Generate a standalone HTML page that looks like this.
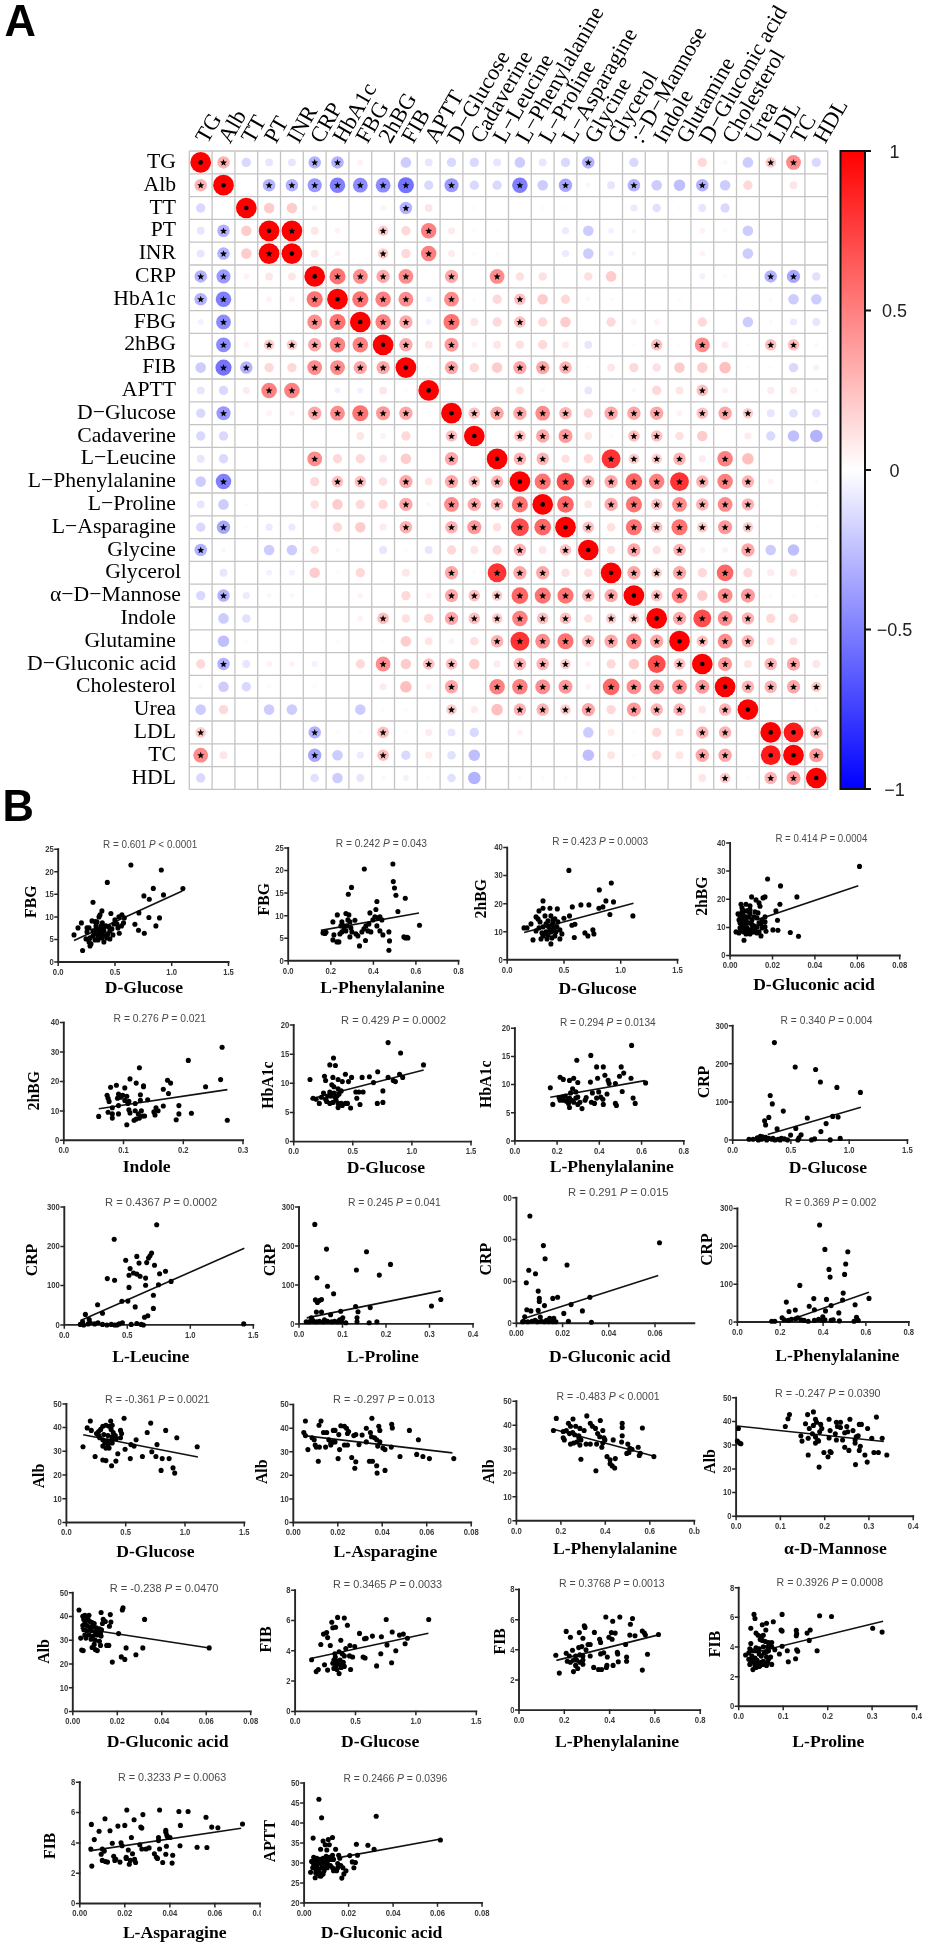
<!DOCTYPE html>
<html><head><meta charset="utf-8"><style>html,body{margin:0;padding:0;background:#fff;width:931px;height:1946px;overflow:hidden}svg{display:block;filter:blur(0.5px)}</style></head><body>
<svg width="931" height="1946" viewBox="0 0 931 1946">
<g stroke="#c4c4c4" stroke-width="1.3" fill="none">
<line x1="189.30" y1="151.00" x2="189.30" y2="789.40"/>
<line x1="189.30" y1="151.00" x2="827.70" y2="151.00"/>
<line x1="212.10" y1="151.00" x2="212.10" y2="789.40"/>
<line x1="189.30" y1="173.80" x2="827.70" y2="173.80"/>
<line x1="234.90" y1="151.00" x2="234.90" y2="789.40"/>
<line x1="189.30" y1="196.60" x2="827.70" y2="196.60"/>
<line x1="257.70" y1="151.00" x2="257.70" y2="789.40"/>
<line x1="189.30" y1="219.40" x2="827.70" y2="219.40"/>
<line x1="280.50" y1="151.00" x2="280.50" y2="789.40"/>
<line x1="189.30" y1="242.20" x2="827.70" y2="242.20"/>
<line x1="303.30" y1="151.00" x2="303.30" y2="789.40"/>
<line x1="189.30" y1="265.00" x2="827.70" y2="265.00"/>
<line x1="326.10" y1="151.00" x2="326.10" y2="789.40"/>
<line x1="189.30" y1="287.80" x2="827.70" y2="287.80"/>
<line x1="348.90" y1="151.00" x2="348.90" y2="789.40"/>
<line x1="189.30" y1="310.60" x2="827.70" y2="310.60"/>
<line x1="371.70" y1="151.00" x2="371.70" y2="789.40"/>
<line x1="189.30" y1="333.40" x2="827.70" y2="333.40"/>
<line x1="394.50" y1="151.00" x2="394.50" y2="789.40"/>
<line x1="189.30" y1="356.20" x2="827.70" y2="356.20"/>
<line x1="417.30" y1="151.00" x2="417.30" y2="789.40"/>
<line x1="189.30" y1="379.00" x2="827.70" y2="379.00"/>
<line x1="440.10" y1="151.00" x2="440.10" y2="789.40"/>
<line x1="189.30" y1="401.80" x2="827.70" y2="401.80"/>
<line x1="462.90" y1="151.00" x2="462.90" y2="789.40"/>
<line x1="189.30" y1="424.60" x2="827.70" y2="424.60"/>
<line x1="485.70" y1="151.00" x2="485.70" y2="789.40"/>
<line x1="189.30" y1="447.40" x2="827.70" y2="447.40"/>
<line x1="508.50" y1="151.00" x2="508.50" y2="789.40"/>
<line x1="189.30" y1="470.20" x2="827.70" y2="470.20"/>
<line x1="531.30" y1="151.00" x2="531.30" y2="789.40"/>
<line x1="189.30" y1="493.00" x2="827.70" y2="493.00"/>
<line x1="554.10" y1="151.00" x2="554.10" y2="789.40"/>
<line x1="189.30" y1="515.80" x2="827.70" y2="515.80"/>
<line x1="576.90" y1="151.00" x2="576.90" y2="789.40"/>
<line x1="189.30" y1="538.60" x2="827.70" y2="538.60"/>
<line x1="599.70" y1="151.00" x2="599.70" y2="789.40"/>
<line x1="189.30" y1="561.40" x2="827.70" y2="561.40"/>
<line x1="622.50" y1="151.00" x2="622.50" y2="789.40"/>
<line x1="189.30" y1="584.20" x2="827.70" y2="584.20"/>
<line x1="645.30" y1="151.00" x2="645.30" y2="789.40"/>
<line x1="189.30" y1="607.00" x2="827.70" y2="607.00"/>
<line x1="668.10" y1="151.00" x2="668.10" y2="789.40"/>
<line x1="189.30" y1="629.80" x2="827.70" y2="629.80"/>
<line x1="690.90" y1="151.00" x2="690.90" y2="789.40"/>
<line x1="189.30" y1="652.60" x2="827.70" y2="652.60"/>
<line x1="713.70" y1="151.00" x2="713.70" y2="789.40"/>
<line x1="189.30" y1="675.40" x2="827.70" y2="675.40"/>
<line x1="736.50" y1="151.00" x2="736.50" y2="789.40"/>
<line x1="189.30" y1="698.20" x2="827.70" y2="698.20"/>
<line x1="759.30" y1="151.00" x2="759.30" y2="789.40"/>
<line x1="189.30" y1="721.00" x2="827.70" y2="721.00"/>
<line x1="782.10" y1="151.00" x2="782.10" y2="789.40"/>
<line x1="189.30" y1="743.80" x2="827.70" y2="743.80"/>
<line x1="804.90" y1="151.00" x2="804.90" y2="789.40"/>
<line x1="189.30" y1="766.60" x2="827.70" y2="766.60"/>
<line x1="827.70" y1="151.00" x2="827.70" y2="789.40"/>
<line x1="189.30" y1="789.40" x2="827.70" y2="789.40"/>
</g>
<g>
<circle cx="200.70" cy="162.40" r="10.37" fill="#ff0000"/>
<circle cx="223.50" cy="162.40" r="6.26" fill="#ffb2b2"/>
<circle cx="246.30" cy="162.40" r="4.68" fill="#d9d9ff"/>
<circle cx="269.10" cy="162.40" r="3.94" fill="#e6e6ff"/>
<circle cx="291.90" cy="162.40" r="3.94" fill="#e6e6ff"/>
<circle cx="314.70" cy="162.40" r="6.26" fill="#b2b2ff"/>
<circle cx="337.50" cy="162.40" r="6.26" fill="#b2b2ff"/>
<circle cx="360.30" cy="162.40" r="2.95" fill="#fff2f2"/>
<circle cx="405.90" cy="162.40" r="5.28" fill="#ccccff"/>
<circle cx="428.70" cy="162.40" r="3.94" fill="#e6e6ff"/>
<circle cx="451.50" cy="162.40" r="4.68" fill="#d9d9ff"/>
<circle cx="474.30" cy="162.40" r="4.68" fill="#d9d9ff"/>
<circle cx="497.10" cy="162.40" r="3.94" fill="#e6e6ff"/>
<circle cx="519.90" cy="162.40" r="5.28" fill="#ccccff"/>
<circle cx="542.70" cy="162.40" r="3.94" fill="#e6e6ff"/>
<circle cx="565.50" cy="162.40" r="4.68" fill="#d9d9ff"/>
<circle cx="588.30" cy="162.40" r="6.26" fill="#b2b2ff"/>
<circle cx="633.90" cy="162.40" r="4.68" fill="#d9d9ff"/>
<circle cx="702.30" cy="162.40" r="4.68" fill="#ffd9d9"/>
<circle cx="725.10" cy="162.40" r="2.38" fill="#fff7f7"/>
<circle cx="747.90" cy="162.40" r="5.28" fill="#ccccff"/>
<circle cx="770.70" cy="162.40" r="5.28" fill="#ffcccc"/>
<circle cx="793.50" cy="162.40" r="7.42" fill="#ff8c8c"/>
<circle cx="816.30" cy="162.40" r="4.68" fill="#d9d9ff"/>
<circle cx="200.70" cy="185.20" r="6.26" fill="#ffb2b2"/>
<circle cx="223.50" cy="185.20" r="10.37" fill="#ff0000"/>
<circle cx="269.10" cy="185.20" r="6.26" fill="#b2b2ff"/>
<circle cx="291.90" cy="185.20" r="6.26" fill="#b2b2ff"/>
<circle cx="314.70" cy="185.20" r="7.06" fill="#9999ff"/>
<circle cx="337.50" cy="185.20" r="7.75" fill="#8080ff"/>
<circle cx="360.30" cy="185.20" r="7.42" fill="#8c8cff"/>
<circle cx="383.10" cy="185.20" r="7.42" fill="#8c8cff"/>
<circle cx="405.90" cy="185.20" r="8.07" fill="#7373ff"/>
<circle cx="428.70" cy="185.20" r="4.68" fill="#d9d9ff"/>
<circle cx="451.50" cy="185.20" r="7.06" fill="#9999ff"/>
<circle cx="474.30" cy="185.20" r="4.68" fill="#d9d9ff"/>
<circle cx="497.10" cy="185.20" r="4.68" fill="#d9d9ff"/>
<circle cx="519.90" cy="185.20" r="7.75" fill="#8080ff"/>
<circle cx="542.70" cy="185.20" r="5.28" fill="#ccccff"/>
<circle cx="565.50" cy="185.20" r="6.68" fill="#a6a6ff"/>
<circle cx="588.30" cy="185.20" r="2.38" fill="#f7f7ff"/>
<circle cx="611.10" cy="185.20" r="3.94" fill="#e6e6ff"/>
<circle cx="633.90" cy="185.20" r="6.26" fill="#b2b2ff"/>
<circle cx="656.70" cy="185.20" r="5.28" fill="#ccccff"/>
<circle cx="679.50" cy="185.20" r="5.80" fill="#bfbfff"/>
<circle cx="702.30" cy="185.20" r="6.26" fill="#b2b2ff"/>
<circle cx="725.10" cy="185.20" r="5.28" fill="#ccccff"/>
<circle cx="747.90" cy="185.20" r="4.68" fill="#ffd9d9"/>
<circle cx="793.50" cy="185.20" r="3.94" fill="#ffe6e6"/>
<circle cx="200.70" cy="208.00" r="4.68" fill="#d9d9ff"/>
<circle cx="246.30" cy="208.00" r="10.37" fill="#ff0000"/>
<circle cx="269.10" cy="208.00" r="5.28" fill="#ffcccc"/>
<circle cx="291.90" cy="208.00" r="5.28" fill="#ffcccc"/>
<circle cx="314.70" cy="208.00" r="2.95" fill="#fff2f2"/>
<circle cx="383.10" cy="208.00" r="2.95" fill="#fff2f2"/>
<circle cx="405.90" cy="208.00" r="6.26" fill="#b2b2ff"/>
<circle cx="428.70" cy="208.00" r="3.94" fill="#ffe6e6"/>
<circle cx="474.30" cy="208.00" r="2.01" fill="#fffafa"/>
<circle cx="542.70" cy="208.00" r="2.01" fill="#fffafa"/>
<circle cx="565.50" cy="208.00" r="2.01" fill="#fffafa"/>
<circle cx="588.30" cy="208.00" r="1.50" fill="#fffcfc"/>
<circle cx="633.90" cy="208.00" r="3.59" fill="#ebebff"/>
<circle cx="656.70" cy="208.00" r="4.26" fill="#e0e0ff"/>
<circle cx="679.50" cy="208.00" r="2.01" fill="#fffafa"/>
<circle cx="702.30" cy="208.00" r="3.94" fill="#e6e6ff"/>
<circle cx="725.10" cy="208.00" r="4.68" fill="#d9d9ff"/>
<circle cx="200.70" cy="230.80" r="3.94" fill="#e6e6ff"/>
<circle cx="223.50" cy="230.80" r="6.26" fill="#b2b2ff"/>
<circle cx="246.30" cy="230.80" r="5.28" fill="#ffcccc"/>
<circle cx="269.10" cy="230.80" r="10.37" fill="#ff0000"/>
<circle cx="291.90" cy="230.80" r="10.37" fill="#ff0000"/>
<circle cx="314.70" cy="230.80" r="3.94" fill="#ffe6e6"/>
<circle cx="337.50" cy="230.80" r="2.95" fill="#fff2f2"/>
<circle cx="383.10" cy="230.80" r="5.28" fill="#ffcccc"/>
<circle cx="405.90" cy="230.80" r="4.68" fill="#ffd9d9"/>
<circle cx="428.70" cy="230.80" r="7.75" fill="#ff8080"/>
<circle cx="451.50" cy="230.80" r="3.59" fill="#ffebeb"/>
<circle cx="474.30" cy="230.80" r="2.01" fill="#fffafa"/>
<circle cx="497.10" cy="230.80" r="2.01" fill="#fffafa"/>
<circle cx="565.50" cy="230.80" r="3.59" fill="#ebebff"/>
<circle cx="588.30" cy="230.80" r="5.28" fill="#ccccff"/>
<circle cx="611.10" cy="230.80" r="2.95" fill="#f2f2ff"/>
<circle cx="633.90" cy="230.80" r="2.38" fill="#f7f7ff"/>
<circle cx="702.30" cy="230.80" r="2.95" fill="#fff2f2"/>
<circle cx="725.10" cy="230.80" r="2.01" fill="#fffafa"/>
<circle cx="747.90" cy="230.80" r="5.28" fill="#ccccff"/>
<circle cx="200.70" cy="253.60" r="3.94" fill="#e6e6ff"/>
<circle cx="223.50" cy="253.60" r="6.26" fill="#b2b2ff"/>
<circle cx="246.30" cy="253.60" r="5.28" fill="#ffcccc"/>
<circle cx="269.10" cy="253.60" r="10.37" fill="#ff0000"/>
<circle cx="291.90" cy="253.60" r="10.37" fill="#ff0000"/>
<circle cx="314.70" cy="253.60" r="3.94" fill="#ffe6e6"/>
<circle cx="337.50" cy="253.60" r="2.95" fill="#fff2f2"/>
<circle cx="383.10" cy="253.60" r="5.28" fill="#ffcccc"/>
<circle cx="405.90" cy="253.60" r="4.68" fill="#ffd9d9"/>
<circle cx="428.70" cy="253.60" r="7.75" fill="#ff8080"/>
<circle cx="451.50" cy="253.60" r="3.59" fill="#ffebeb"/>
<circle cx="474.30" cy="253.60" r="2.01" fill="#fffafa"/>
<circle cx="497.10" cy="253.60" r="2.01" fill="#fffafa"/>
<circle cx="565.50" cy="253.60" r="3.59" fill="#ebebff"/>
<circle cx="588.30" cy="253.60" r="5.28" fill="#ccccff"/>
<circle cx="611.10" cy="253.60" r="2.95" fill="#f2f2ff"/>
<circle cx="633.90" cy="253.60" r="2.38" fill="#f7f7ff"/>
<circle cx="702.30" cy="253.60" r="2.95" fill="#fff2f2"/>
<circle cx="747.90" cy="253.60" r="5.28" fill="#ccccff"/>
<circle cx="200.70" cy="276.40" r="6.26" fill="#b2b2ff"/>
<circle cx="223.50" cy="276.40" r="7.06" fill="#9999ff"/>
<circle cx="246.30" cy="276.40" r="2.95" fill="#fff2f2"/>
<circle cx="269.10" cy="276.40" r="3.94" fill="#ffe6e6"/>
<circle cx="291.90" cy="276.40" r="3.94" fill="#ffe6e6"/>
<circle cx="314.70" cy="276.40" r="10.37" fill="#ff0000"/>
<circle cx="337.50" cy="276.40" r="8.07" fill="#ff7373"/>
<circle cx="360.30" cy="276.40" r="7.42" fill="#ff8c8c"/>
<circle cx="383.10" cy="276.40" r="6.68" fill="#ffa6a6"/>
<circle cx="405.90" cy="276.40" r="7.42" fill="#ff8c8c"/>
<circle cx="451.50" cy="276.40" r="6.68" fill="#ffa6a6"/>
<circle cx="497.10" cy="276.40" r="7.42" fill="#ff8c8c"/>
<circle cx="519.90" cy="276.40" r="4.26" fill="#ffe0e0"/>
<circle cx="542.70" cy="276.40" r="4.26" fill="#ffe0e0"/>
<circle cx="588.30" cy="276.40" r="4.26" fill="#ffe0e0"/>
<circle cx="611.10" cy="276.40" r="5.28" fill="#ffcccc"/>
<circle cx="702.30" cy="276.40" r="2.95" fill="#f2f2ff"/>
<circle cx="725.10" cy="276.40" r="2.01" fill="#fffafa"/>
<circle cx="770.70" cy="276.40" r="6.26" fill="#b2b2ff"/>
<circle cx="793.50" cy="276.40" r="6.68" fill="#a6a6ff"/>
<circle cx="816.30" cy="276.40" r="4.26" fill="#e0e0ff"/>
<circle cx="200.70" cy="299.20" r="6.26" fill="#b2b2ff"/>
<circle cx="223.50" cy="299.20" r="7.75" fill="#8080ff"/>
<circle cx="269.10" cy="299.20" r="2.95" fill="#fff2f2"/>
<circle cx="291.90" cy="299.20" r="2.95" fill="#fff2f2"/>
<circle cx="314.70" cy="299.20" r="8.07" fill="#ff7373"/>
<circle cx="337.50" cy="299.20" r="10.37" fill="#ff0000"/>
<circle cx="360.30" cy="299.20" r="8.07" fill="#ff7373"/>
<circle cx="383.10" cy="299.20" r="7.75" fill="#ff8080"/>
<circle cx="405.90" cy="299.20" r="7.42" fill="#ff8c8c"/>
<circle cx="428.70" cy="299.20" r="2.95" fill="#f2f2ff"/>
<circle cx="451.50" cy="299.20" r="7.42" fill="#ff8c8c"/>
<circle cx="474.30" cy="299.20" r="2.01" fill="#fffafa"/>
<circle cx="497.10" cy="299.20" r="4.68" fill="#ffd9d9"/>
<circle cx="519.90" cy="299.20" r="5.80" fill="#ffbfbf"/>
<circle cx="542.70" cy="299.20" r="5.28" fill="#ffcccc"/>
<circle cx="565.50" cy="299.20" r="4.68" fill="#ffd9d9"/>
<circle cx="588.30" cy="299.20" r="2.38" fill="#fff7f7"/>
<circle cx="611.10" cy="299.20" r="2.01" fill="#fffafa"/>
<circle cx="679.50" cy="299.20" r="2.01" fill="#fffafa"/>
<circle cx="770.70" cy="299.20" r="2.01" fill="#fffafa"/>
<circle cx="793.50" cy="299.20" r="5.28" fill="#ccccff"/>
<circle cx="816.30" cy="299.20" r="5.28" fill="#ccccff"/>
<circle cx="200.70" cy="322.00" r="2.95" fill="#f2f2ff"/>
<circle cx="223.50" cy="322.00" r="7.42" fill="#8c8cff"/>
<circle cx="314.70" cy="322.00" r="7.42" fill="#ff8c8c"/>
<circle cx="337.50" cy="322.00" r="8.07" fill="#ff7373"/>
<circle cx="360.30" cy="322.00" r="10.37" fill="#ff0000"/>
<circle cx="383.10" cy="322.00" r="7.75" fill="#ff8080"/>
<circle cx="405.90" cy="322.00" r="6.68" fill="#ffa6a6"/>
<circle cx="428.70" cy="322.00" r="2.95" fill="#f2f2ff"/>
<circle cx="451.50" cy="322.00" r="8.07" fill="#ff7373"/>
<circle cx="474.30" cy="322.00" r="3.94" fill="#ffe6e6"/>
<circle cx="497.10" cy="322.00" r="4.68" fill="#ffd9d9"/>
<circle cx="519.90" cy="322.00" r="5.80" fill="#ffbfbf"/>
<circle cx="542.70" cy="322.00" r="4.68" fill="#ffd9d9"/>
<circle cx="565.50" cy="322.00" r="5.28" fill="#ffcccc"/>
<circle cx="611.10" cy="322.00" r="4.68" fill="#ffd9d9"/>
<circle cx="633.90" cy="322.00" r="2.95" fill="#fff2f2"/>
<circle cx="656.70" cy="322.00" r="2.95" fill="#fff2f2"/>
<circle cx="702.30" cy="322.00" r="4.68" fill="#ffd9d9"/>
<circle cx="747.90" cy="322.00" r="5.28" fill="#ccccff"/>
<circle cx="770.70" cy="322.00" r="2.01" fill="#fffafa"/>
<circle cx="793.50" cy="322.00" r="3.59" fill="#ebebff"/>
<circle cx="816.30" cy="322.00" r="3.94" fill="#e6e6ff"/>
<circle cx="223.50" cy="344.80" r="7.42" fill="#8c8cff"/>
<circle cx="246.30" cy="344.80" r="2.95" fill="#fff2f2"/>
<circle cx="269.10" cy="344.80" r="5.28" fill="#ffcccc"/>
<circle cx="291.90" cy="344.80" r="5.28" fill="#ffcccc"/>
<circle cx="314.70" cy="344.80" r="6.68" fill="#ffa6a6"/>
<circle cx="337.50" cy="344.80" r="7.75" fill="#ff8080"/>
<circle cx="360.30" cy="344.80" r="7.75" fill="#ff8080"/>
<circle cx="383.10" cy="344.80" r="10.37" fill="#ff0000"/>
<circle cx="405.90" cy="344.80" r="6.68" fill="#ffa6a6"/>
<circle cx="428.70" cy="344.80" r="3.94" fill="#ffe6e6"/>
<circle cx="451.50" cy="344.80" r="7.06" fill="#ff9999"/>
<circle cx="474.30" cy="344.80" r="2.95" fill="#fff2f2"/>
<circle cx="497.10" cy="344.80" r="3.94" fill="#ffe6e6"/>
<circle cx="519.90" cy="344.80" r="4.26" fill="#ffe0e0"/>
<circle cx="542.70" cy="344.80" r="4.68" fill="#ffd9d9"/>
<circle cx="565.50" cy="344.80" r="3.59" fill="#ffebeb"/>
<circle cx="588.30" cy="344.80" r="3.94" fill="#e6e6ff"/>
<circle cx="633.90" cy="344.80" r="2.01" fill="#fffafa"/>
<circle cx="656.70" cy="344.80" r="5.80" fill="#ffbfbf"/>
<circle cx="679.50" cy="344.80" r="2.01" fill="#fffafa"/>
<circle cx="702.30" cy="344.80" r="7.42" fill="#ff8c8c"/>
<circle cx="725.10" cy="344.80" r="3.59" fill="#ffebeb"/>
<circle cx="747.90" cy="344.80" r="2.01" fill="#fffafa"/>
<circle cx="770.70" cy="344.80" r="5.80" fill="#ffbfbf"/>
<circle cx="793.50" cy="344.80" r="5.80" fill="#ffbfbf"/>
<circle cx="816.30" cy="344.80" r="2.38" fill="#fff7f7"/>
<circle cx="200.70" cy="367.60" r="5.28" fill="#ccccff"/>
<circle cx="223.50" cy="367.60" r="8.07" fill="#7373ff"/>
<circle cx="246.30" cy="367.60" r="6.26" fill="#b2b2ff"/>
<circle cx="269.10" cy="367.60" r="4.68" fill="#ffd9d9"/>
<circle cx="291.90" cy="367.60" r="4.68" fill="#ffd9d9"/>
<circle cx="314.70" cy="367.60" r="7.42" fill="#ff8c8c"/>
<circle cx="337.50" cy="367.60" r="7.42" fill="#ff8c8c"/>
<circle cx="360.30" cy="367.60" r="6.68" fill="#ffa6a6"/>
<circle cx="383.10" cy="367.60" r="6.68" fill="#ffa6a6"/>
<circle cx="405.90" cy="367.60" r="10.37" fill="#ff0000"/>
<circle cx="428.70" cy="367.60" r="2.01" fill="#fffafa"/>
<circle cx="451.50" cy="367.60" r="6.68" fill="#ffa6a6"/>
<circle cx="474.30" cy="367.60" r="4.68" fill="#ffd9d9"/>
<circle cx="497.10" cy="367.60" r="5.28" fill="#ffcccc"/>
<circle cx="519.90" cy="367.60" r="6.68" fill="#ffa6a6"/>
<circle cx="542.70" cy="367.60" r="6.68" fill="#ffa6a6"/>
<circle cx="565.50" cy="367.60" r="6.26" fill="#ffb2b2"/>
<circle cx="588.30" cy="367.60" r="2.01" fill="#fffafa"/>
<circle cx="611.10" cy="367.60" r="3.94" fill="#ffe6e6"/>
<circle cx="633.90" cy="367.60" r="4.68" fill="#ffd9d9"/>
<circle cx="656.70" cy="367.60" r="4.26" fill="#ffe0e0"/>
<circle cx="679.50" cy="367.60" r="5.28" fill="#ffcccc"/>
<circle cx="702.30" cy="367.60" r="5.28" fill="#ffcccc"/>
<circle cx="725.10" cy="367.60" r="5.80" fill="#ffbfbf"/>
<circle cx="747.90" cy="367.60" r="2.01" fill="#fffafa"/>
<circle cx="770.70" cy="367.60" r="2.01" fill="#fffafa"/>
<circle cx="793.50" cy="367.60" r="4.68" fill="#d9d9ff"/>
<circle cx="816.30" cy="367.60" r="2.95" fill="#f2f2ff"/>
<circle cx="200.70" cy="390.40" r="3.94" fill="#e6e6ff"/>
<circle cx="223.50" cy="390.40" r="4.68" fill="#d9d9ff"/>
<circle cx="246.30" cy="390.40" r="3.59" fill="#ffebeb"/>
<circle cx="269.10" cy="390.40" r="7.75" fill="#ff8080"/>
<circle cx="291.90" cy="390.40" r="7.75" fill="#ff8080"/>
<circle cx="337.50" cy="390.40" r="2.95" fill="#f2f2ff"/>
<circle cx="360.30" cy="390.40" r="2.95" fill="#f2f2ff"/>
<circle cx="383.10" cy="390.40" r="3.94" fill="#ffe6e6"/>
<circle cx="405.90" cy="390.40" r="2.01" fill="#fffafa"/>
<circle cx="428.70" cy="390.40" r="10.37" fill="#ff0000"/>
<circle cx="519.90" cy="390.40" r="3.94" fill="#ffe6e6"/>
<circle cx="542.70" cy="390.40" r="2.38" fill="#fff7f7"/>
<circle cx="588.30" cy="390.40" r="3.94" fill="#e6e6ff"/>
<circle cx="633.90" cy="390.40" r="2.38" fill="#fff7f7"/>
<circle cx="656.70" cy="390.40" r="4.68" fill="#ffd9d9"/>
<circle cx="679.50" cy="390.40" r="3.94" fill="#ffe6e6"/>
<circle cx="702.30" cy="390.40" r="5.80" fill="#ffbfbf"/>
<circle cx="725.10" cy="390.40" r="2.95" fill="#fff2f2"/>
<circle cx="770.70" cy="390.40" r="3.59" fill="#ffebeb"/>
<circle cx="793.50" cy="390.40" r="3.59" fill="#ffebeb"/>
<circle cx="816.30" cy="390.40" r="2.01" fill="#fffafa"/>
<circle cx="200.70" cy="413.20" r="4.68" fill="#d9d9ff"/>
<circle cx="223.50" cy="413.20" r="7.06" fill="#9999ff"/>
<circle cx="269.10" cy="413.20" r="2.95" fill="#fff2f2"/>
<circle cx="291.90" cy="413.20" r="2.95" fill="#fff2f2"/>
<circle cx="314.70" cy="413.20" r="6.68" fill="#ffa6a6"/>
<circle cx="337.50" cy="413.20" r="7.42" fill="#ff8c8c"/>
<circle cx="360.30" cy="413.20" r="8.07" fill="#ff7373"/>
<circle cx="383.10" cy="413.20" r="7.06" fill="#ff9999"/>
<circle cx="405.90" cy="413.20" r="6.68" fill="#ffa6a6"/>
<circle cx="451.50" cy="413.20" r="10.37" fill="#ff0000"/>
<circle cx="474.30" cy="413.20" r="5.80" fill="#ffbfbf"/>
<circle cx="497.10" cy="413.20" r="6.68" fill="#ffa6a6"/>
<circle cx="519.90" cy="413.20" r="6.68" fill="#ffa6a6"/>
<circle cx="542.70" cy="413.20" r="7.42" fill="#ff8c8c"/>
<circle cx="565.50" cy="413.20" r="6.26" fill="#ffb2b2"/>
<circle cx="588.30" cy="413.20" r="4.68" fill="#ffd9d9"/>
<circle cx="611.10" cy="413.20" r="6.68" fill="#ffa6a6"/>
<circle cx="633.90" cy="413.20" r="6.68" fill="#ffa6a6"/>
<circle cx="656.70" cy="413.20" r="6.68" fill="#ffa6a6"/>
<circle cx="679.50" cy="413.20" r="2.95" fill="#fff2f2"/>
<circle cx="702.30" cy="413.20" r="5.80" fill="#ffbfbf"/>
<circle cx="725.10" cy="413.20" r="6.68" fill="#ffa6a6"/>
<circle cx="747.90" cy="413.20" r="5.28" fill="#ffcccc"/>
<circle cx="770.70" cy="413.20" r="3.94" fill="#e6e6ff"/>
<circle cx="793.50" cy="413.20" r="4.26" fill="#e0e0ff"/>
<circle cx="816.30" cy="413.20" r="4.26" fill="#e0e0ff"/>
<circle cx="200.70" cy="436.00" r="4.68" fill="#d9d9ff"/>
<circle cx="223.50" cy="436.00" r="4.68" fill="#d9d9ff"/>
<circle cx="246.30" cy="436.00" r="1.50" fill="#fffcfc"/>
<circle cx="269.10" cy="436.00" r="1.50" fill="#fffcfc"/>
<circle cx="291.90" cy="436.00" r="1.50" fill="#fffcfc"/>
<circle cx="337.50" cy="436.00" r="1.50" fill="#fffcfc"/>
<circle cx="360.30" cy="436.00" r="3.94" fill="#ffe6e6"/>
<circle cx="383.10" cy="436.00" r="2.95" fill="#fff2f2"/>
<circle cx="405.90" cy="436.00" r="4.68" fill="#ffd9d9"/>
<circle cx="451.50" cy="436.00" r="5.80" fill="#ffbfbf"/>
<circle cx="474.30" cy="436.00" r="10.37" fill="#ff0000"/>
<circle cx="519.90" cy="436.00" r="5.80" fill="#ffbfbf"/>
<circle cx="542.70" cy="436.00" r="6.68" fill="#ffa6a6"/>
<circle cx="565.50" cy="436.00" r="7.06" fill="#ff9999"/>
<circle cx="588.30" cy="436.00" r="3.94" fill="#ffe6e6"/>
<circle cx="611.10" cy="436.00" r="2.01" fill="#fffafa"/>
<circle cx="633.90" cy="436.00" r="5.80" fill="#ffbfbf"/>
<circle cx="656.70" cy="436.00" r="5.80" fill="#ffbfbf"/>
<circle cx="679.50" cy="436.00" r="4.26" fill="#ffe0e0"/>
<circle cx="702.30" cy="436.00" r="5.28" fill="#ffcccc"/>
<circle cx="747.90" cy="436.00" r="3.59" fill="#ffebeb"/>
<circle cx="770.70" cy="436.00" r="4.68" fill="#d9d9ff"/>
<circle cx="793.50" cy="436.00" r="5.80" fill="#bfbfff"/>
<circle cx="816.30" cy="436.00" r="6.26" fill="#b2b2ff"/>
<circle cx="200.70" cy="458.80" r="3.94" fill="#e6e6ff"/>
<circle cx="223.50" cy="458.80" r="4.68" fill="#d9d9ff"/>
<circle cx="269.10" cy="458.80" r="1.50" fill="#fffcfc"/>
<circle cx="291.90" cy="458.80" r="1.50" fill="#fffcfc"/>
<circle cx="314.70" cy="458.80" r="7.42" fill="#ff8c8c"/>
<circle cx="337.50" cy="458.80" r="4.68" fill="#ffd9d9"/>
<circle cx="360.30" cy="458.80" r="4.68" fill="#ffd9d9"/>
<circle cx="383.10" cy="458.80" r="3.94" fill="#ffe6e6"/>
<circle cx="405.90" cy="458.80" r="5.28" fill="#ffcccc"/>
<circle cx="451.50" cy="458.80" r="6.68" fill="#ffa6a6"/>
<circle cx="497.10" cy="458.80" r="10.37" fill="#ff0000"/>
<circle cx="519.90" cy="458.80" r="6.26" fill="#ffb2b2"/>
<circle cx="542.70" cy="458.80" r="6.26" fill="#ffb2b2"/>
<circle cx="565.50" cy="458.80" r="4.26" fill="#ffe0e0"/>
<circle cx="588.30" cy="458.80" r="4.68" fill="#ffd9d9"/>
<circle cx="611.10" cy="458.80" r="9.45" fill="#ff3333"/>
<circle cx="633.90" cy="458.80" r="5.28" fill="#ffcccc"/>
<circle cx="656.70" cy="458.80" r="5.28" fill="#ffcccc"/>
<circle cx="679.50" cy="458.80" r="6.26" fill="#ffb2b2"/>
<circle cx="702.30" cy="458.80" r="3.59" fill="#ffebeb"/>
<circle cx="725.10" cy="458.80" r="7.75" fill="#ff8080"/>
<circle cx="747.90" cy="458.80" r="5.80" fill="#ffbfbf"/>
<circle cx="200.70" cy="481.60" r="5.28" fill="#ccccff"/>
<circle cx="223.50" cy="481.60" r="7.75" fill="#8080ff"/>
<circle cx="246.30" cy="481.60" r="1.50" fill="#fffcfc"/>
<circle cx="314.70" cy="481.60" r="4.68" fill="#ffd9d9"/>
<circle cx="337.50" cy="481.60" r="5.80" fill="#ffbfbf"/>
<circle cx="360.30" cy="481.60" r="5.80" fill="#ffbfbf"/>
<circle cx="383.10" cy="481.60" r="4.26" fill="#ffe0e0"/>
<circle cx="405.90" cy="481.60" r="6.68" fill="#ffa6a6"/>
<circle cx="428.70" cy="481.60" r="3.94" fill="#ffe6e6"/>
<circle cx="451.50" cy="481.60" r="6.68" fill="#ffa6a6"/>
<circle cx="474.30" cy="481.60" r="5.80" fill="#ffbfbf"/>
<circle cx="497.10" cy="481.60" r="6.26" fill="#ffb2b2"/>
<circle cx="519.90" cy="481.60" r="10.37" fill="#ff0000"/>
<circle cx="542.70" cy="481.60" r="8.07" fill="#ff7373"/>
<circle cx="565.50" cy="481.60" r="8.93" fill="#ff4d4d"/>
<circle cx="588.30" cy="481.60" r="6.26" fill="#ffb2b2"/>
<circle cx="611.10" cy="481.60" r="6.68" fill="#ffa6a6"/>
<circle cx="633.90" cy="481.60" r="8.37" fill="#ff6666"/>
<circle cx="656.70" cy="481.60" r="7.75" fill="#ff8080"/>
<circle cx="679.50" cy="481.60" r="9.45" fill="#ff3333"/>
<circle cx="702.30" cy="481.60" r="6.26" fill="#ffb2b2"/>
<circle cx="725.10" cy="481.60" r="7.75" fill="#ff8080"/>
<circle cx="747.90" cy="481.60" r="6.26" fill="#ffb2b2"/>
<circle cx="770.70" cy="481.60" r="2.95" fill="#fff2f2"/>
<circle cx="816.30" cy="481.60" r="2.01" fill="#fffafa"/>
<circle cx="200.70" cy="504.40" r="3.94" fill="#e6e6ff"/>
<circle cx="223.50" cy="504.40" r="5.28" fill="#ccccff"/>
<circle cx="246.30" cy="504.40" r="2.01" fill="#fffafa"/>
<circle cx="314.70" cy="504.40" r="4.26" fill="#ffe0e0"/>
<circle cx="337.50" cy="504.40" r="5.28" fill="#ffcccc"/>
<circle cx="360.30" cy="504.40" r="4.68" fill="#ffd9d9"/>
<circle cx="383.10" cy="504.40" r="4.68" fill="#ffd9d9"/>
<circle cx="405.90" cy="504.40" r="6.68" fill="#ffa6a6"/>
<circle cx="428.70" cy="504.40" r="2.38" fill="#fff7f7"/>
<circle cx="451.50" cy="504.40" r="7.42" fill="#ff8c8c"/>
<circle cx="474.30" cy="504.40" r="6.68" fill="#ffa6a6"/>
<circle cx="497.10" cy="504.40" r="6.26" fill="#ffb2b2"/>
<circle cx="519.90" cy="504.40" r="8.07" fill="#ff7373"/>
<circle cx="542.70" cy="504.40" r="10.37" fill="#ff0000"/>
<circle cx="565.50" cy="504.40" r="8.37" fill="#ff6666"/>
<circle cx="588.30" cy="504.40" r="3.94" fill="#ffe6e6"/>
<circle cx="611.10" cy="504.40" r="6.68" fill="#ffa6a6"/>
<circle cx="633.90" cy="504.40" r="8.07" fill="#ff7373"/>
<circle cx="656.70" cy="504.40" r="5.80" fill="#ffbfbf"/>
<circle cx="679.50" cy="504.40" r="7.42" fill="#ff8c8c"/>
<circle cx="702.30" cy="504.40" r="6.26" fill="#ffb2b2"/>
<circle cx="725.10" cy="504.40" r="7.42" fill="#ff8c8c"/>
<circle cx="747.90" cy="504.40" r="6.26" fill="#ffb2b2"/>
<circle cx="816.30" cy="504.40" r="2.01" fill="#fffafa"/>
<circle cx="200.70" cy="527.20" r="4.68" fill="#d9d9ff"/>
<circle cx="223.50" cy="527.20" r="6.68" fill="#a6a6ff"/>
<circle cx="246.30" cy="527.20" r="2.01" fill="#fffafa"/>
<circle cx="269.10" cy="527.20" r="3.59" fill="#ebebff"/>
<circle cx="291.90" cy="527.20" r="3.59" fill="#ebebff"/>
<circle cx="337.50" cy="527.20" r="4.68" fill="#ffd9d9"/>
<circle cx="360.30" cy="527.20" r="5.28" fill="#ffcccc"/>
<circle cx="383.10" cy="527.20" r="3.59" fill="#ffebeb"/>
<circle cx="405.90" cy="527.20" r="6.26" fill="#ffb2b2"/>
<circle cx="451.50" cy="527.20" r="6.26" fill="#ffb2b2"/>
<circle cx="474.30" cy="527.20" r="7.06" fill="#ff9999"/>
<circle cx="497.10" cy="527.20" r="4.26" fill="#ffe0e0"/>
<circle cx="519.90" cy="527.20" r="8.93" fill="#ff4d4d"/>
<circle cx="542.70" cy="527.20" r="8.37" fill="#ff6666"/>
<circle cx="565.50" cy="527.20" r="10.37" fill="#ff0000"/>
<circle cx="588.30" cy="527.20" r="5.80" fill="#ffbfbf"/>
<circle cx="611.10" cy="527.20" r="4.26" fill="#ffe0e0"/>
<circle cx="633.90" cy="527.20" r="8.07" fill="#ff7373"/>
<circle cx="656.70" cy="527.20" r="5.80" fill="#ffbfbf"/>
<circle cx="679.50" cy="527.20" r="8.07" fill="#ff7373"/>
<circle cx="702.30" cy="527.20" r="5.28" fill="#ffcccc"/>
<circle cx="725.10" cy="527.20" r="7.06" fill="#ff9999"/>
<circle cx="747.90" cy="527.20" r="5.28" fill="#ffcccc"/>
<circle cx="816.30" cy="527.20" r="2.01" fill="#fffafa"/>
<circle cx="200.70" cy="550.00" r="6.26" fill="#b2b2ff"/>
<circle cx="223.50" cy="550.00" r="2.38" fill="#f7f7ff"/>
<circle cx="246.30" cy="550.00" r="1.50" fill="#fffcfc"/>
<circle cx="269.10" cy="550.00" r="5.28" fill="#ccccff"/>
<circle cx="291.90" cy="550.00" r="5.28" fill="#ccccff"/>
<circle cx="314.70" cy="550.00" r="4.26" fill="#ffe0e0"/>
<circle cx="337.50" cy="550.00" r="2.38" fill="#fff7f7"/>
<circle cx="383.10" cy="550.00" r="3.94" fill="#e6e6ff"/>
<circle cx="405.90" cy="550.00" r="2.01" fill="#fffafa"/>
<circle cx="428.70" cy="550.00" r="3.94" fill="#e6e6ff"/>
<circle cx="451.50" cy="550.00" r="4.68" fill="#ffd9d9"/>
<circle cx="474.30" cy="550.00" r="3.94" fill="#ffe6e6"/>
<circle cx="497.10" cy="550.00" r="4.68" fill="#ffd9d9"/>
<circle cx="519.90" cy="550.00" r="6.26" fill="#ffb2b2"/>
<circle cx="542.70" cy="550.00" r="3.94" fill="#ffe6e6"/>
<circle cx="565.50" cy="550.00" r="5.80" fill="#ffbfbf"/>
<circle cx="588.30" cy="550.00" r="10.37" fill="#ff0000"/>
<circle cx="611.10" cy="550.00" r="4.26" fill="#ffe0e0"/>
<circle cx="633.90" cy="550.00" r="6.68" fill="#ffa6a6"/>
<circle cx="656.70" cy="550.00" r="4.26" fill="#ffe0e0"/>
<circle cx="679.50" cy="550.00" r="6.26" fill="#ffb2b2"/>
<circle cx="702.30" cy="550.00" r="2.95" fill="#fff2f2"/>
<circle cx="725.10" cy="550.00" r="2.95" fill="#fff2f2"/>
<circle cx="747.90" cy="550.00" r="6.68" fill="#ffa6a6"/>
<circle cx="770.70" cy="550.00" r="5.28" fill="#ccccff"/>
<circle cx="793.50" cy="550.00" r="5.80" fill="#bfbfff"/>
<circle cx="223.50" cy="572.80" r="3.94" fill="#e6e6ff"/>
<circle cx="269.10" cy="572.80" r="2.95" fill="#f2f2ff"/>
<circle cx="291.90" cy="572.80" r="2.95" fill="#f2f2ff"/>
<circle cx="314.70" cy="572.80" r="5.28" fill="#ffcccc"/>
<circle cx="337.50" cy="572.80" r="2.01" fill="#fffafa"/>
<circle cx="360.30" cy="572.80" r="4.68" fill="#ffd9d9"/>
<circle cx="405.90" cy="572.80" r="3.94" fill="#ffe6e6"/>
<circle cx="451.50" cy="572.80" r="6.68" fill="#ffa6a6"/>
<circle cx="474.30" cy="572.80" r="2.01" fill="#fffafa"/>
<circle cx="497.10" cy="572.80" r="9.45" fill="#ff3333"/>
<circle cx="519.90" cy="572.80" r="6.68" fill="#ffa6a6"/>
<circle cx="542.70" cy="572.80" r="6.68" fill="#ffa6a6"/>
<circle cx="565.50" cy="572.80" r="4.26" fill="#ffe0e0"/>
<circle cx="588.30" cy="572.80" r="4.26" fill="#ffe0e0"/>
<circle cx="611.10" cy="572.80" r="10.37" fill="#ff0000"/>
<circle cx="633.90" cy="572.80" r="6.68" fill="#ffa6a6"/>
<circle cx="656.70" cy="572.80" r="5.28" fill="#ffcccc"/>
<circle cx="679.50" cy="572.80" r="6.68" fill="#ffa6a6"/>
<circle cx="702.30" cy="572.80" r="4.68" fill="#ffd9d9"/>
<circle cx="725.10" cy="572.80" r="8.37" fill="#ff6666"/>
<circle cx="747.90" cy="572.80" r="4.68" fill="#ffd9d9"/>
<circle cx="770.70" cy="572.80" r="3.59" fill="#ffebeb"/>
<circle cx="793.50" cy="572.80" r="3.94" fill="#ffe6e6"/>
<circle cx="200.70" cy="595.60" r="4.68" fill="#d9d9ff"/>
<circle cx="223.50" cy="595.60" r="6.26" fill="#b2b2ff"/>
<circle cx="246.30" cy="595.60" r="3.59" fill="#ebebff"/>
<circle cx="269.10" cy="595.60" r="2.38" fill="#f7f7ff"/>
<circle cx="291.90" cy="595.60" r="2.38" fill="#f7f7ff"/>
<circle cx="360.30" cy="595.60" r="2.95" fill="#fff2f2"/>
<circle cx="405.90" cy="595.60" r="4.68" fill="#ffd9d9"/>
<circle cx="428.70" cy="595.60" r="2.95" fill="#fff2f2"/>
<circle cx="451.50" cy="595.60" r="6.68" fill="#ffa6a6"/>
<circle cx="474.30" cy="595.60" r="5.80" fill="#ffbfbf"/>
<circle cx="497.10" cy="595.60" r="5.28" fill="#ffcccc"/>
<circle cx="519.90" cy="595.60" r="8.37" fill="#ff6666"/>
<circle cx="542.70" cy="595.60" r="8.07" fill="#ff7373"/>
<circle cx="565.50" cy="595.60" r="8.07" fill="#ff7373"/>
<circle cx="588.30" cy="595.60" r="6.26" fill="#ffb2b2"/>
<circle cx="611.10" cy="595.60" r="6.68" fill="#ffa6a6"/>
<circle cx="633.90" cy="595.60" r="10.37" fill="#ff0000"/>
<circle cx="656.70" cy="595.60" r="5.80" fill="#ffbfbf"/>
<circle cx="679.50" cy="595.60" r="7.75" fill="#ff8080"/>
<circle cx="702.30" cy="595.60" r="5.28" fill="#ffcccc"/>
<circle cx="725.10" cy="595.60" r="7.42" fill="#ff8c8c"/>
<circle cx="747.90" cy="595.60" r="7.06" fill="#ff9999"/>
<circle cx="770.70" cy="595.60" r="2.01" fill="#fffafa"/>
<circle cx="793.50" cy="595.60" r="2.01" fill="#fffafa"/>
<circle cx="816.30" cy="595.60" r="2.01" fill="#fffafa"/>
<circle cx="223.50" cy="618.40" r="5.28" fill="#ccccff"/>
<circle cx="246.30" cy="618.40" r="4.26" fill="#e0e0ff"/>
<circle cx="360.30" cy="618.40" r="2.95" fill="#fff2f2"/>
<circle cx="383.10" cy="618.40" r="5.80" fill="#ffbfbf"/>
<circle cx="405.90" cy="618.40" r="4.26" fill="#ffe0e0"/>
<circle cx="428.70" cy="618.40" r="4.68" fill="#ffd9d9"/>
<circle cx="451.50" cy="618.40" r="6.68" fill="#ffa6a6"/>
<circle cx="474.30" cy="618.40" r="5.80" fill="#ffbfbf"/>
<circle cx="497.10" cy="618.40" r="5.28" fill="#ffcccc"/>
<circle cx="519.90" cy="618.40" r="7.75" fill="#ff8080"/>
<circle cx="542.70" cy="618.40" r="5.80" fill="#ffbfbf"/>
<circle cx="565.50" cy="618.40" r="5.80" fill="#ffbfbf"/>
<circle cx="588.30" cy="618.40" r="4.26" fill="#ffe0e0"/>
<circle cx="611.10" cy="618.40" r="5.28" fill="#ffcccc"/>
<circle cx="633.90" cy="618.40" r="5.28" fill="#ffcccc"/>
<circle cx="656.70" cy="618.40" r="10.37" fill="#ff0000"/>
<circle cx="679.50" cy="618.40" r="6.68" fill="#ffa6a6"/>
<circle cx="702.30" cy="618.40" r="8.93" fill="#ff4d4d"/>
<circle cx="725.10" cy="618.40" r="7.42" fill="#ff8c8c"/>
<circle cx="747.90" cy="618.40" r="6.26" fill="#ffb2b2"/>
<circle cx="770.70" cy="618.40" r="4.68" fill="#ffd9d9"/>
<circle cx="793.50" cy="618.40" r="4.68" fill="#ffd9d9"/>
<circle cx="223.50" cy="641.20" r="5.80" fill="#bfbfff"/>
<circle cx="246.30" cy="641.20" r="2.01" fill="#fffafa"/>
<circle cx="337.50" cy="641.20" r="2.01" fill="#fffafa"/>
<circle cx="383.10" cy="641.20" r="2.01" fill="#fffafa"/>
<circle cx="405.90" cy="641.20" r="5.28" fill="#ffcccc"/>
<circle cx="428.70" cy="641.20" r="3.94" fill="#ffe6e6"/>
<circle cx="451.50" cy="641.20" r="2.95" fill="#fff2f2"/>
<circle cx="474.30" cy="641.20" r="4.26" fill="#ffe0e0"/>
<circle cx="497.10" cy="641.20" r="6.26" fill="#ffb2b2"/>
<circle cx="519.90" cy="641.20" r="9.45" fill="#ff3333"/>
<circle cx="542.70" cy="641.20" r="7.42" fill="#ff8c8c"/>
<circle cx="565.50" cy="641.20" r="8.07" fill="#ff7373"/>
<circle cx="588.30" cy="641.20" r="6.26" fill="#ffb2b2"/>
<circle cx="611.10" cy="641.20" r="6.68" fill="#ffa6a6"/>
<circle cx="633.90" cy="641.20" r="7.75" fill="#ff8080"/>
<circle cx="656.70" cy="641.20" r="6.68" fill="#ffa6a6"/>
<circle cx="679.50" cy="641.20" r="10.37" fill="#ff0000"/>
<circle cx="702.30" cy="641.20" r="5.80" fill="#ffbfbf"/>
<circle cx="725.10" cy="641.20" r="7.42" fill="#ff8c8c"/>
<circle cx="747.90" cy="641.20" r="6.26" fill="#ffb2b2"/>
<circle cx="770.70" cy="641.20" r="3.94" fill="#ffe6e6"/>
<circle cx="793.50" cy="641.20" r="3.94" fill="#ffe6e6"/>
<circle cx="200.70" cy="664.00" r="4.68" fill="#ffd9d9"/>
<circle cx="223.50" cy="664.00" r="6.26" fill="#b2b2ff"/>
<circle cx="246.30" cy="664.00" r="3.94" fill="#e6e6ff"/>
<circle cx="269.10" cy="664.00" r="2.95" fill="#fff2f2"/>
<circle cx="291.90" cy="664.00" r="2.95" fill="#fff2f2"/>
<circle cx="314.70" cy="664.00" r="2.95" fill="#f2f2ff"/>
<circle cx="360.30" cy="664.00" r="4.68" fill="#ffd9d9"/>
<circle cx="383.10" cy="664.00" r="7.42" fill="#ff8c8c"/>
<circle cx="405.90" cy="664.00" r="5.28" fill="#ffcccc"/>
<circle cx="428.70" cy="664.00" r="5.80" fill="#ffbfbf"/>
<circle cx="451.50" cy="664.00" r="5.80" fill="#ffbfbf"/>
<circle cx="474.30" cy="664.00" r="5.28" fill="#ffcccc"/>
<circle cx="497.10" cy="664.00" r="3.59" fill="#ffebeb"/>
<circle cx="519.90" cy="664.00" r="6.26" fill="#ffb2b2"/>
<circle cx="542.70" cy="664.00" r="6.26" fill="#ffb2b2"/>
<circle cx="565.50" cy="664.00" r="5.28" fill="#ffcccc"/>
<circle cx="588.30" cy="664.00" r="2.95" fill="#fff2f2"/>
<circle cx="611.10" cy="664.00" r="4.68" fill="#ffd9d9"/>
<circle cx="633.90" cy="664.00" r="5.28" fill="#ffcccc"/>
<circle cx="656.70" cy="664.00" r="8.93" fill="#ff4d4d"/>
<circle cx="679.50" cy="664.00" r="5.80" fill="#ffbfbf"/>
<circle cx="702.30" cy="664.00" r="10.37" fill="#ff0000"/>
<circle cx="725.10" cy="664.00" r="7.06" fill="#ff9999"/>
<circle cx="747.90" cy="664.00" r="3.94" fill="#ffe6e6"/>
<circle cx="770.70" cy="664.00" r="6.26" fill="#ffb2b2"/>
<circle cx="793.50" cy="664.00" r="6.68" fill="#ffa6a6"/>
<circle cx="816.30" cy="664.00" r="3.94" fill="#ffe6e6"/>
<circle cx="200.70" cy="686.80" r="2.38" fill="#fff7f7"/>
<circle cx="223.50" cy="686.80" r="5.28" fill="#ccccff"/>
<circle cx="246.30" cy="686.80" r="4.68" fill="#d9d9ff"/>
<circle cx="269.10" cy="686.80" r="2.01" fill="#fffafa"/>
<circle cx="314.70" cy="686.80" r="2.01" fill="#fffafa"/>
<circle cx="383.10" cy="686.80" r="3.59" fill="#ffebeb"/>
<circle cx="405.90" cy="686.80" r="5.80" fill="#ffbfbf"/>
<circle cx="428.70" cy="686.80" r="2.95" fill="#fff2f2"/>
<circle cx="451.50" cy="686.80" r="6.68" fill="#ffa6a6"/>
<circle cx="497.10" cy="686.80" r="7.75" fill="#ff8080"/>
<circle cx="519.90" cy="686.80" r="7.75" fill="#ff8080"/>
<circle cx="542.70" cy="686.80" r="7.42" fill="#ff8c8c"/>
<circle cx="565.50" cy="686.80" r="7.06" fill="#ff9999"/>
<circle cx="588.30" cy="686.80" r="2.95" fill="#fff2f2"/>
<circle cx="611.10" cy="686.80" r="8.37" fill="#ff6666"/>
<circle cx="633.90" cy="686.80" r="7.42" fill="#ff8c8c"/>
<circle cx="656.70" cy="686.80" r="7.42" fill="#ff8c8c"/>
<circle cx="679.50" cy="686.80" r="7.42" fill="#ff8c8c"/>
<circle cx="702.30" cy="686.80" r="7.06" fill="#ff9999"/>
<circle cx="725.10" cy="686.80" r="10.37" fill="#ff0000"/>
<circle cx="747.90" cy="686.80" r="6.26" fill="#ffb2b2"/>
<circle cx="770.70" cy="686.80" r="6.26" fill="#ffb2b2"/>
<circle cx="793.50" cy="686.80" r="6.68" fill="#ffa6a6"/>
<circle cx="816.30" cy="686.80" r="5.28" fill="#ffcccc"/>
<circle cx="200.70" cy="709.60" r="5.28" fill="#ccccff"/>
<circle cx="223.50" cy="709.60" r="4.68" fill="#ffd9d9"/>
<circle cx="269.10" cy="709.60" r="5.28" fill="#ccccff"/>
<circle cx="291.90" cy="709.60" r="5.28" fill="#ccccff"/>
<circle cx="360.30" cy="709.60" r="5.28" fill="#ccccff"/>
<circle cx="383.10" cy="709.60" r="2.01" fill="#fffafa"/>
<circle cx="405.90" cy="709.60" r="2.01" fill="#fffafa"/>
<circle cx="451.50" cy="709.60" r="5.28" fill="#ffcccc"/>
<circle cx="474.30" cy="709.60" r="3.59" fill="#ffebeb"/>
<circle cx="497.10" cy="709.60" r="5.80" fill="#ffbfbf"/>
<circle cx="519.90" cy="709.60" r="6.26" fill="#ffb2b2"/>
<circle cx="542.70" cy="709.60" r="6.26" fill="#ffb2b2"/>
<circle cx="565.50" cy="709.60" r="5.28" fill="#ffcccc"/>
<circle cx="588.30" cy="709.60" r="6.68" fill="#ffa6a6"/>
<circle cx="611.10" cy="709.60" r="4.68" fill="#ffd9d9"/>
<circle cx="633.90" cy="709.60" r="7.06" fill="#ff9999"/>
<circle cx="656.70" cy="709.60" r="6.26" fill="#ffb2b2"/>
<circle cx="679.50" cy="709.60" r="6.26" fill="#ffb2b2"/>
<circle cx="702.30" cy="709.60" r="3.94" fill="#ffe6e6"/>
<circle cx="725.10" cy="709.60" r="6.26" fill="#ffb2b2"/>
<circle cx="747.90" cy="709.60" r="10.37" fill="#ff0000"/>
<circle cx="816.30" cy="709.60" r="2.01" fill="#fffafa"/>
<circle cx="200.70" cy="732.40" r="5.28" fill="#ffcccc"/>
<circle cx="314.70" cy="732.40" r="6.26" fill="#b2b2ff"/>
<circle cx="337.50" cy="732.40" r="2.01" fill="#fffafa"/>
<circle cx="360.30" cy="732.40" r="2.01" fill="#fffafa"/>
<circle cx="383.10" cy="732.40" r="5.80" fill="#ffbfbf"/>
<circle cx="405.90" cy="732.40" r="2.01" fill="#fffafa"/>
<circle cx="428.70" cy="732.40" r="3.59" fill="#ffebeb"/>
<circle cx="451.50" cy="732.40" r="3.94" fill="#e6e6ff"/>
<circle cx="474.30" cy="732.40" r="4.68" fill="#d9d9ff"/>
<circle cx="519.90" cy="732.40" r="2.95" fill="#fff2f2"/>
<circle cx="588.30" cy="732.40" r="5.28" fill="#ccccff"/>
<circle cx="611.10" cy="732.40" r="3.59" fill="#ffebeb"/>
<circle cx="633.90" cy="732.40" r="2.01" fill="#fffafa"/>
<circle cx="656.70" cy="732.40" r="4.68" fill="#ffd9d9"/>
<circle cx="679.50" cy="732.40" r="3.94" fill="#ffe6e6"/>
<circle cx="702.30" cy="732.40" r="6.26" fill="#ffb2b2"/>
<circle cx="725.10" cy="732.40" r="6.26" fill="#ffb2b2"/>
<circle cx="770.70" cy="732.40" r="10.37" fill="#ff0000"/>
<circle cx="793.50" cy="732.40" r="9.92" fill="#ff1919"/>
<circle cx="816.30" cy="732.40" r="6.26" fill="#ffb2b2"/>
<circle cx="200.70" cy="755.20" r="7.42" fill="#ff8c8c"/>
<circle cx="223.50" cy="755.20" r="3.94" fill="#ffe6e6"/>
<circle cx="314.70" cy="755.20" r="6.68" fill="#a6a6ff"/>
<circle cx="337.50" cy="755.20" r="5.28" fill="#ccccff"/>
<circle cx="360.30" cy="755.20" r="3.59" fill="#ebebff"/>
<circle cx="383.10" cy="755.20" r="5.80" fill="#ffbfbf"/>
<circle cx="405.90" cy="755.20" r="4.68" fill="#d9d9ff"/>
<circle cx="428.70" cy="755.20" r="3.59" fill="#ffebeb"/>
<circle cx="451.50" cy="755.20" r="4.26" fill="#e0e0ff"/>
<circle cx="474.30" cy="755.20" r="5.80" fill="#bfbfff"/>
<circle cx="588.30" cy="755.20" r="5.80" fill="#bfbfff"/>
<circle cx="611.10" cy="755.20" r="3.94" fill="#ffe6e6"/>
<circle cx="633.90" cy="755.20" r="2.01" fill="#fffafa"/>
<circle cx="656.70" cy="755.20" r="4.68" fill="#ffd9d9"/>
<circle cx="679.50" cy="755.20" r="3.94" fill="#ffe6e6"/>
<circle cx="702.30" cy="755.20" r="6.68" fill="#ffa6a6"/>
<circle cx="725.10" cy="755.20" r="6.68" fill="#ffa6a6"/>
<circle cx="770.70" cy="755.20" r="9.92" fill="#ff1919"/>
<circle cx="793.50" cy="755.20" r="10.37" fill="#ff0000"/>
<circle cx="816.30" cy="755.20" r="7.06" fill="#ff9999"/>
<circle cx="200.70" cy="778.00" r="4.68" fill="#d9d9ff"/>
<circle cx="314.70" cy="778.00" r="4.26" fill="#e0e0ff"/>
<circle cx="337.50" cy="778.00" r="5.28" fill="#ccccff"/>
<circle cx="360.30" cy="778.00" r="3.94" fill="#e6e6ff"/>
<circle cx="383.10" cy="778.00" r="2.38" fill="#fff7f7"/>
<circle cx="405.90" cy="778.00" r="2.95" fill="#f2f2ff"/>
<circle cx="428.70" cy="778.00" r="2.01" fill="#fffafa"/>
<circle cx="451.50" cy="778.00" r="4.26" fill="#e0e0ff"/>
<circle cx="474.30" cy="778.00" r="6.26" fill="#b2b2ff"/>
<circle cx="519.90" cy="778.00" r="2.01" fill="#fffafa"/>
<circle cx="542.70" cy="778.00" r="2.01" fill="#fffafa"/>
<circle cx="565.50" cy="778.00" r="2.01" fill="#fffafa"/>
<circle cx="633.90" cy="778.00" r="2.01" fill="#fffafa"/>
<circle cx="702.30" cy="778.00" r="3.94" fill="#ffe6e6"/>
<circle cx="725.10" cy="778.00" r="5.28" fill="#ffcccc"/>
<circle cx="747.90" cy="778.00" r="2.01" fill="#fffafa"/>
<circle cx="770.70" cy="778.00" r="6.26" fill="#ffb2b2"/>
<circle cx="793.50" cy="778.00" r="7.06" fill="#ff9999"/>
<circle cx="816.30" cy="778.00" r="10.37" fill="#ff0000"/>
</g>
<g fill="#000"><circle cx="200.70" cy="162.40" r="2.3"/><polygon points="223.50,159.00 224.44,161.41 227.02,161.56 225.02,163.19 225.67,165.69 223.50,164.30 221.33,165.69 221.98,163.19 219.98,161.56 222.56,161.41"/><polygon points="314.70,159.00 315.64,161.41 318.22,161.56 316.22,163.19 316.87,165.69 314.70,164.30 312.53,165.69 313.18,163.19 311.18,161.56 313.76,161.41"/><polygon points="337.50,159.00 338.44,161.41 341.02,161.56 339.02,163.19 339.67,165.69 337.50,164.30 335.33,165.69 335.98,163.19 333.98,161.56 336.56,161.41"/><polygon points="588.30,159.00 589.24,161.41 591.82,161.56 589.82,163.19 590.47,165.69 588.30,164.30 586.13,165.69 586.78,163.19 584.78,161.56 587.36,161.41"/><polygon points="770.70,159.00 771.64,161.41 774.22,161.56 772.22,163.19 772.87,165.69 770.70,164.30 768.53,165.69 769.18,163.19 767.18,161.56 769.76,161.41"/><polygon points="793.50,159.00 794.44,161.41 797.02,161.56 795.02,163.19 795.67,165.69 793.50,164.30 791.33,165.69 791.98,163.19 789.98,161.56 792.56,161.41"/><polygon points="200.70,181.80 201.64,184.21 204.22,184.36 202.22,185.99 202.87,188.49 200.70,187.10 198.53,188.49 199.18,185.99 197.18,184.36 199.76,184.21"/><circle cx="223.50" cy="185.20" r="2.3"/><polygon points="269.10,181.80 270.04,184.21 272.62,184.36 270.62,185.99 271.27,188.49 269.10,187.10 266.93,188.49 267.58,185.99 265.58,184.36 268.16,184.21"/><polygon points="291.90,181.80 292.84,184.21 295.42,184.36 293.42,185.99 294.07,188.49 291.90,187.10 289.73,188.49 290.38,185.99 288.38,184.36 290.96,184.21"/><polygon points="314.70,181.80 315.64,184.21 318.22,184.36 316.22,185.99 316.87,188.49 314.70,187.10 312.53,188.49 313.18,185.99 311.18,184.36 313.76,184.21"/><polygon points="337.50,181.80 338.44,184.21 341.02,184.36 339.02,185.99 339.67,188.49 337.50,187.10 335.33,188.49 335.98,185.99 333.98,184.36 336.56,184.21"/><polygon points="360.30,181.80 361.24,184.21 363.82,184.36 361.82,185.99 362.47,188.49 360.30,187.10 358.13,188.49 358.78,185.99 356.78,184.36 359.36,184.21"/><polygon points="383.10,181.80 384.04,184.21 386.62,184.36 384.62,185.99 385.27,188.49 383.10,187.10 380.93,188.49 381.58,185.99 379.58,184.36 382.16,184.21"/><polygon points="405.90,181.80 406.84,184.21 409.42,184.36 407.42,185.99 408.07,188.49 405.90,187.10 403.73,188.49 404.38,185.99 402.38,184.36 404.96,184.21"/><polygon points="451.50,181.80 452.44,184.21 455.02,184.36 453.02,185.99 453.67,188.49 451.50,187.10 449.33,188.49 449.98,185.99 447.98,184.36 450.56,184.21"/><polygon points="519.90,181.80 520.84,184.21 523.42,184.36 521.42,185.99 522.07,188.49 519.90,187.10 517.73,188.49 518.38,185.99 516.38,184.36 518.96,184.21"/><polygon points="565.50,181.80 566.44,184.21 569.02,184.36 567.02,185.99 567.67,188.49 565.50,187.10 563.33,188.49 563.98,185.99 561.98,184.36 564.56,184.21"/><polygon points="633.90,181.80 634.84,184.21 637.42,184.36 635.42,185.99 636.07,188.49 633.90,187.10 631.73,188.49 632.38,185.99 630.38,184.36 632.96,184.21"/><polygon points="702.30,181.80 703.24,184.21 705.82,184.36 703.82,185.99 704.47,188.49 702.30,187.10 700.13,188.49 700.78,185.99 698.78,184.36 701.36,184.21"/><circle cx="246.30" cy="208.00" r="2.3"/><polygon points="405.90,204.60 406.84,207.01 409.42,207.16 407.42,208.79 408.07,211.29 405.90,209.90 403.73,211.29 404.38,208.79 402.38,207.16 404.96,207.01"/><polygon points="223.50,227.40 224.44,229.81 227.02,229.96 225.02,231.59 225.67,234.09 223.50,232.70 221.33,234.09 221.98,231.59 219.98,229.96 222.56,229.81"/><circle cx="269.10" cy="230.80" r="2.3"/><polygon points="291.90,227.40 292.84,229.81 295.42,229.96 293.42,231.59 294.07,234.09 291.90,232.70 289.73,234.09 290.38,231.59 288.38,229.96 290.96,229.81"/><polygon points="383.10,227.40 384.04,229.81 386.62,229.96 384.62,231.59 385.27,234.09 383.10,232.70 380.93,234.09 381.58,231.59 379.58,229.96 382.16,229.81"/><polygon points="428.70,227.40 429.64,229.81 432.22,229.96 430.22,231.59 430.87,234.09 428.70,232.70 426.53,234.09 427.18,231.59 425.18,229.96 427.76,229.81"/><polygon points="223.50,250.20 224.44,252.61 227.02,252.76 225.02,254.39 225.67,256.89 223.50,255.50 221.33,256.89 221.98,254.39 219.98,252.76 222.56,252.61"/><polygon points="269.10,250.20 270.04,252.61 272.62,252.76 270.62,254.39 271.27,256.89 269.10,255.50 266.93,256.89 267.58,254.39 265.58,252.76 268.16,252.61"/><circle cx="291.90" cy="253.60" r="2.3"/><polygon points="383.10,250.20 384.04,252.61 386.62,252.76 384.62,254.39 385.27,256.89 383.10,255.50 380.93,256.89 381.58,254.39 379.58,252.76 382.16,252.61"/><polygon points="428.70,250.20 429.64,252.61 432.22,252.76 430.22,254.39 430.87,256.89 428.70,255.50 426.53,256.89 427.18,254.39 425.18,252.76 427.76,252.61"/><polygon points="200.70,273.00 201.64,275.41 204.22,275.56 202.22,277.19 202.87,279.69 200.70,278.30 198.53,279.69 199.18,277.19 197.18,275.56 199.76,275.41"/><polygon points="223.50,273.00 224.44,275.41 227.02,275.56 225.02,277.19 225.67,279.69 223.50,278.30 221.33,279.69 221.98,277.19 219.98,275.56 222.56,275.41"/><circle cx="314.70" cy="276.40" r="2.3"/><polygon points="337.50,273.00 338.44,275.41 341.02,275.56 339.02,277.19 339.67,279.69 337.50,278.30 335.33,279.69 335.98,277.19 333.98,275.56 336.56,275.41"/><polygon points="360.30,273.00 361.24,275.41 363.82,275.56 361.82,277.19 362.47,279.69 360.30,278.30 358.13,279.69 358.78,277.19 356.78,275.56 359.36,275.41"/><polygon points="383.10,273.00 384.04,275.41 386.62,275.56 384.62,277.19 385.27,279.69 383.10,278.30 380.93,279.69 381.58,277.19 379.58,275.56 382.16,275.41"/><polygon points="405.90,273.00 406.84,275.41 409.42,275.56 407.42,277.19 408.07,279.69 405.90,278.30 403.73,279.69 404.38,277.19 402.38,275.56 404.96,275.41"/><polygon points="451.50,273.00 452.44,275.41 455.02,275.56 453.02,277.19 453.67,279.69 451.50,278.30 449.33,279.69 449.98,277.19 447.98,275.56 450.56,275.41"/><polygon points="497.10,273.00 498.04,275.41 500.62,275.56 498.62,277.19 499.27,279.69 497.10,278.30 494.93,279.69 495.58,277.19 493.58,275.56 496.16,275.41"/><polygon points="770.70,273.00 771.64,275.41 774.22,275.56 772.22,277.19 772.87,279.69 770.70,278.30 768.53,279.69 769.18,277.19 767.18,275.56 769.76,275.41"/><polygon points="793.50,273.00 794.44,275.41 797.02,275.56 795.02,277.19 795.67,279.69 793.50,278.30 791.33,279.69 791.98,277.19 789.98,275.56 792.56,275.41"/><polygon points="200.70,295.80 201.64,298.21 204.22,298.36 202.22,299.99 202.87,302.49 200.70,301.10 198.53,302.49 199.18,299.99 197.18,298.36 199.76,298.21"/><polygon points="223.50,295.80 224.44,298.21 227.02,298.36 225.02,299.99 225.67,302.49 223.50,301.10 221.33,302.49 221.98,299.99 219.98,298.36 222.56,298.21"/><polygon points="314.70,295.80 315.64,298.21 318.22,298.36 316.22,299.99 316.87,302.49 314.70,301.10 312.53,302.49 313.18,299.99 311.18,298.36 313.76,298.21"/><circle cx="337.50" cy="299.20" r="2.3"/><polygon points="360.30,295.80 361.24,298.21 363.82,298.36 361.82,299.99 362.47,302.49 360.30,301.10 358.13,302.49 358.78,299.99 356.78,298.36 359.36,298.21"/><polygon points="383.10,295.80 384.04,298.21 386.62,298.36 384.62,299.99 385.27,302.49 383.10,301.10 380.93,302.49 381.58,299.99 379.58,298.36 382.16,298.21"/><polygon points="405.90,295.80 406.84,298.21 409.42,298.36 407.42,299.99 408.07,302.49 405.90,301.10 403.73,302.49 404.38,299.99 402.38,298.36 404.96,298.21"/><polygon points="451.50,295.80 452.44,298.21 455.02,298.36 453.02,299.99 453.67,302.49 451.50,301.10 449.33,302.49 449.98,299.99 447.98,298.36 450.56,298.21"/><polygon points="519.90,295.80 520.84,298.21 523.42,298.36 521.42,299.99 522.07,302.49 519.90,301.10 517.73,302.49 518.38,299.99 516.38,298.36 518.96,298.21"/><polygon points="223.50,318.60 224.44,321.01 227.02,321.16 225.02,322.79 225.67,325.29 223.50,323.90 221.33,325.29 221.98,322.79 219.98,321.16 222.56,321.01"/><polygon points="314.70,318.60 315.64,321.01 318.22,321.16 316.22,322.79 316.87,325.29 314.70,323.90 312.53,325.29 313.18,322.79 311.18,321.16 313.76,321.01"/><polygon points="337.50,318.60 338.44,321.01 341.02,321.16 339.02,322.79 339.67,325.29 337.50,323.90 335.33,325.29 335.98,322.79 333.98,321.16 336.56,321.01"/><circle cx="360.30" cy="322.00" r="2.3"/><polygon points="383.10,318.60 384.04,321.01 386.62,321.16 384.62,322.79 385.27,325.29 383.10,323.90 380.93,325.29 381.58,322.79 379.58,321.16 382.16,321.01"/><polygon points="405.90,318.60 406.84,321.01 409.42,321.16 407.42,322.79 408.07,325.29 405.90,323.90 403.73,325.29 404.38,322.79 402.38,321.16 404.96,321.01"/><polygon points="451.50,318.60 452.44,321.01 455.02,321.16 453.02,322.79 453.67,325.29 451.50,323.90 449.33,325.29 449.98,322.79 447.98,321.16 450.56,321.01"/><polygon points="519.90,318.60 520.84,321.01 523.42,321.16 521.42,322.79 522.07,325.29 519.90,323.90 517.73,325.29 518.38,322.79 516.38,321.16 518.96,321.01"/><polygon points="223.50,341.40 224.44,343.81 227.02,343.96 225.02,345.59 225.67,348.09 223.50,346.70 221.33,348.09 221.98,345.59 219.98,343.96 222.56,343.81"/><polygon points="269.10,341.40 270.04,343.81 272.62,343.96 270.62,345.59 271.27,348.09 269.10,346.70 266.93,348.09 267.58,345.59 265.58,343.96 268.16,343.81"/><polygon points="291.90,341.40 292.84,343.81 295.42,343.96 293.42,345.59 294.07,348.09 291.90,346.70 289.73,348.09 290.38,345.59 288.38,343.96 290.96,343.81"/><polygon points="314.70,341.40 315.64,343.81 318.22,343.96 316.22,345.59 316.87,348.09 314.70,346.70 312.53,348.09 313.18,345.59 311.18,343.96 313.76,343.81"/><polygon points="337.50,341.40 338.44,343.81 341.02,343.96 339.02,345.59 339.67,348.09 337.50,346.70 335.33,348.09 335.98,345.59 333.98,343.96 336.56,343.81"/><polygon points="360.30,341.40 361.24,343.81 363.82,343.96 361.82,345.59 362.47,348.09 360.30,346.70 358.13,348.09 358.78,345.59 356.78,343.96 359.36,343.81"/><circle cx="383.10" cy="344.80" r="2.3"/><polygon points="405.90,341.40 406.84,343.81 409.42,343.96 407.42,345.59 408.07,348.09 405.90,346.70 403.73,348.09 404.38,345.59 402.38,343.96 404.96,343.81"/><polygon points="451.50,341.40 452.44,343.81 455.02,343.96 453.02,345.59 453.67,348.09 451.50,346.70 449.33,348.09 449.98,345.59 447.98,343.96 450.56,343.81"/><polygon points="656.70,341.40 657.64,343.81 660.22,343.96 658.22,345.59 658.87,348.09 656.70,346.70 654.53,348.09 655.18,345.59 653.18,343.96 655.76,343.81"/><polygon points="702.30,341.40 703.24,343.81 705.82,343.96 703.82,345.59 704.47,348.09 702.30,346.70 700.13,348.09 700.78,345.59 698.78,343.96 701.36,343.81"/><polygon points="770.70,341.40 771.64,343.81 774.22,343.96 772.22,345.59 772.87,348.09 770.70,346.70 768.53,348.09 769.18,345.59 767.18,343.96 769.76,343.81"/><polygon points="793.50,341.40 794.44,343.81 797.02,343.96 795.02,345.59 795.67,348.09 793.50,346.70 791.33,348.09 791.98,345.59 789.98,343.96 792.56,343.81"/><polygon points="223.50,364.20 224.44,366.61 227.02,366.76 225.02,368.39 225.67,370.89 223.50,369.50 221.33,370.89 221.98,368.39 219.98,366.76 222.56,366.61"/><polygon points="246.30,364.20 247.24,366.61 249.82,366.76 247.82,368.39 248.47,370.89 246.30,369.50 244.13,370.89 244.78,368.39 242.78,366.76 245.36,366.61"/><polygon points="314.70,364.20 315.64,366.61 318.22,366.76 316.22,368.39 316.87,370.89 314.70,369.50 312.53,370.89 313.18,368.39 311.18,366.76 313.76,366.61"/><polygon points="337.50,364.20 338.44,366.61 341.02,366.76 339.02,368.39 339.67,370.89 337.50,369.50 335.33,370.89 335.98,368.39 333.98,366.76 336.56,366.61"/><polygon points="360.30,364.20 361.24,366.61 363.82,366.76 361.82,368.39 362.47,370.89 360.30,369.50 358.13,370.89 358.78,368.39 356.78,366.76 359.36,366.61"/><polygon points="383.10,364.20 384.04,366.61 386.62,366.76 384.62,368.39 385.27,370.89 383.10,369.50 380.93,370.89 381.58,368.39 379.58,366.76 382.16,366.61"/><circle cx="405.90" cy="367.60" r="2.3"/><polygon points="451.50,364.20 452.44,366.61 455.02,366.76 453.02,368.39 453.67,370.89 451.50,369.50 449.33,370.89 449.98,368.39 447.98,366.76 450.56,366.61"/><polygon points="519.90,364.20 520.84,366.61 523.42,366.76 521.42,368.39 522.07,370.89 519.90,369.50 517.73,370.89 518.38,368.39 516.38,366.76 518.96,366.61"/><polygon points="542.70,364.20 543.64,366.61 546.22,366.76 544.22,368.39 544.87,370.89 542.70,369.50 540.53,370.89 541.18,368.39 539.18,366.76 541.76,366.61"/><polygon points="565.50,364.20 566.44,366.61 569.02,366.76 567.02,368.39 567.67,370.89 565.50,369.50 563.33,370.89 563.98,368.39 561.98,366.76 564.56,366.61"/><polygon points="269.10,387.00 270.04,389.41 272.62,389.56 270.62,391.19 271.27,393.69 269.10,392.30 266.93,393.69 267.58,391.19 265.58,389.56 268.16,389.41"/><polygon points="291.90,387.00 292.84,389.41 295.42,389.56 293.42,391.19 294.07,393.69 291.90,392.30 289.73,393.69 290.38,391.19 288.38,389.56 290.96,389.41"/><circle cx="428.70" cy="390.40" r="2.3"/><polygon points="702.30,387.00 703.24,389.41 705.82,389.56 703.82,391.19 704.47,393.69 702.30,392.30 700.13,393.69 700.78,391.19 698.78,389.56 701.36,389.41"/><polygon points="223.50,409.80 224.44,412.21 227.02,412.36 225.02,413.99 225.67,416.49 223.50,415.10 221.33,416.49 221.98,413.99 219.98,412.36 222.56,412.21"/><polygon points="314.70,409.80 315.64,412.21 318.22,412.36 316.22,413.99 316.87,416.49 314.70,415.10 312.53,416.49 313.18,413.99 311.18,412.36 313.76,412.21"/><polygon points="337.50,409.80 338.44,412.21 341.02,412.36 339.02,413.99 339.67,416.49 337.50,415.10 335.33,416.49 335.98,413.99 333.98,412.36 336.56,412.21"/><polygon points="360.30,409.80 361.24,412.21 363.82,412.36 361.82,413.99 362.47,416.49 360.30,415.10 358.13,416.49 358.78,413.99 356.78,412.36 359.36,412.21"/><polygon points="383.10,409.80 384.04,412.21 386.62,412.36 384.62,413.99 385.27,416.49 383.10,415.10 380.93,416.49 381.58,413.99 379.58,412.36 382.16,412.21"/><polygon points="405.90,409.80 406.84,412.21 409.42,412.36 407.42,413.99 408.07,416.49 405.90,415.10 403.73,416.49 404.38,413.99 402.38,412.36 404.96,412.21"/><circle cx="451.50" cy="413.20" r="2.3"/><polygon points="474.30,409.80 475.24,412.21 477.82,412.36 475.82,413.99 476.47,416.49 474.30,415.10 472.13,416.49 472.78,413.99 470.78,412.36 473.36,412.21"/><polygon points="497.10,409.80 498.04,412.21 500.62,412.36 498.62,413.99 499.27,416.49 497.10,415.10 494.93,416.49 495.58,413.99 493.58,412.36 496.16,412.21"/><polygon points="519.90,409.80 520.84,412.21 523.42,412.36 521.42,413.99 522.07,416.49 519.90,415.10 517.73,416.49 518.38,413.99 516.38,412.36 518.96,412.21"/><polygon points="542.70,409.80 543.64,412.21 546.22,412.36 544.22,413.99 544.87,416.49 542.70,415.10 540.53,416.49 541.18,413.99 539.18,412.36 541.76,412.21"/><polygon points="565.50,409.80 566.44,412.21 569.02,412.36 567.02,413.99 567.67,416.49 565.50,415.10 563.33,416.49 563.98,413.99 561.98,412.36 564.56,412.21"/><polygon points="611.10,409.80 612.04,412.21 614.62,412.36 612.62,413.99 613.27,416.49 611.10,415.10 608.93,416.49 609.58,413.99 607.58,412.36 610.16,412.21"/><polygon points="633.90,409.80 634.84,412.21 637.42,412.36 635.42,413.99 636.07,416.49 633.90,415.10 631.73,416.49 632.38,413.99 630.38,412.36 632.96,412.21"/><polygon points="656.70,409.80 657.64,412.21 660.22,412.36 658.22,413.99 658.87,416.49 656.70,415.10 654.53,416.49 655.18,413.99 653.18,412.36 655.76,412.21"/><polygon points="702.30,409.80 703.24,412.21 705.82,412.36 703.82,413.99 704.47,416.49 702.30,415.10 700.13,416.49 700.78,413.99 698.78,412.36 701.36,412.21"/><polygon points="725.10,409.80 726.04,412.21 728.62,412.36 726.62,413.99 727.27,416.49 725.10,415.10 722.93,416.49 723.58,413.99 721.58,412.36 724.16,412.21"/><polygon points="747.90,409.80 748.84,412.21 751.42,412.36 749.42,413.99 750.07,416.49 747.90,415.10 745.73,416.49 746.38,413.99 744.38,412.36 746.96,412.21"/><polygon points="451.50,432.60 452.44,435.01 455.02,435.16 453.02,436.79 453.67,439.29 451.50,437.90 449.33,439.29 449.98,436.79 447.98,435.16 450.56,435.01"/><circle cx="474.30" cy="436.00" r="2.3"/><polygon points="519.90,432.60 520.84,435.01 523.42,435.16 521.42,436.79 522.07,439.29 519.90,437.90 517.73,439.29 518.38,436.79 516.38,435.16 518.96,435.01"/><polygon points="542.70,432.60 543.64,435.01 546.22,435.16 544.22,436.79 544.87,439.29 542.70,437.90 540.53,439.29 541.18,436.79 539.18,435.16 541.76,435.01"/><polygon points="565.50,432.60 566.44,435.01 569.02,435.16 567.02,436.79 567.67,439.29 565.50,437.90 563.33,439.29 563.98,436.79 561.98,435.16 564.56,435.01"/><polygon points="633.90,432.60 634.84,435.01 637.42,435.16 635.42,436.79 636.07,439.29 633.90,437.90 631.73,439.29 632.38,436.79 630.38,435.16 632.96,435.01"/><polygon points="656.70,432.60 657.64,435.01 660.22,435.16 658.22,436.79 658.87,439.29 656.70,437.90 654.53,439.29 655.18,436.79 653.18,435.16 655.76,435.01"/><polygon points="314.70,455.40 315.64,457.81 318.22,457.96 316.22,459.59 316.87,462.09 314.70,460.70 312.53,462.09 313.18,459.59 311.18,457.96 313.76,457.81"/><polygon points="451.50,455.40 452.44,457.81 455.02,457.96 453.02,459.59 453.67,462.09 451.50,460.70 449.33,462.09 449.98,459.59 447.98,457.96 450.56,457.81"/><circle cx="497.10" cy="458.80" r="2.3"/><polygon points="519.90,455.40 520.84,457.81 523.42,457.96 521.42,459.59 522.07,462.09 519.90,460.70 517.73,462.09 518.38,459.59 516.38,457.96 518.96,457.81"/><polygon points="542.70,455.40 543.64,457.81 546.22,457.96 544.22,459.59 544.87,462.09 542.70,460.70 540.53,462.09 541.18,459.59 539.18,457.96 541.76,457.81"/><polygon points="611.10,455.40 612.04,457.81 614.62,457.96 612.62,459.59 613.27,462.09 611.10,460.70 608.93,462.09 609.58,459.59 607.58,457.96 610.16,457.81"/><polygon points="633.90,455.40 634.84,457.81 637.42,457.96 635.42,459.59 636.07,462.09 633.90,460.70 631.73,462.09 632.38,459.59 630.38,457.96 632.96,457.81"/><polygon points="656.70,455.40 657.64,457.81 660.22,457.96 658.22,459.59 658.87,462.09 656.70,460.70 654.53,462.09 655.18,459.59 653.18,457.96 655.76,457.81"/><polygon points="679.50,455.40 680.44,457.81 683.02,457.96 681.02,459.59 681.67,462.09 679.50,460.70 677.33,462.09 677.98,459.59 675.98,457.96 678.56,457.81"/><polygon points="725.10,455.40 726.04,457.81 728.62,457.96 726.62,459.59 727.27,462.09 725.10,460.70 722.93,462.09 723.58,459.59 721.58,457.96 724.16,457.81"/><polygon points="223.50,478.20 224.44,480.61 227.02,480.76 225.02,482.39 225.67,484.89 223.50,483.50 221.33,484.89 221.98,482.39 219.98,480.76 222.56,480.61"/><polygon points="337.50,478.20 338.44,480.61 341.02,480.76 339.02,482.39 339.67,484.89 337.50,483.50 335.33,484.89 335.98,482.39 333.98,480.76 336.56,480.61"/><polygon points="360.30,478.20 361.24,480.61 363.82,480.76 361.82,482.39 362.47,484.89 360.30,483.50 358.13,484.89 358.78,482.39 356.78,480.76 359.36,480.61"/><polygon points="405.90,478.20 406.84,480.61 409.42,480.76 407.42,482.39 408.07,484.89 405.90,483.50 403.73,484.89 404.38,482.39 402.38,480.76 404.96,480.61"/><polygon points="451.50,478.20 452.44,480.61 455.02,480.76 453.02,482.39 453.67,484.89 451.50,483.50 449.33,484.89 449.98,482.39 447.98,480.76 450.56,480.61"/><polygon points="474.30,478.20 475.24,480.61 477.82,480.76 475.82,482.39 476.47,484.89 474.30,483.50 472.13,484.89 472.78,482.39 470.78,480.76 473.36,480.61"/><polygon points="497.10,478.20 498.04,480.61 500.62,480.76 498.62,482.39 499.27,484.89 497.10,483.50 494.93,484.89 495.58,482.39 493.58,480.76 496.16,480.61"/><circle cx="519.90" cy="481.60" r="2.3"/><polygon points="542.70,478.20 543.64,480.61 546.22,480.76 544.22,482.39 544.87,484.89 542.70,483.50 540.53,484.89 541.18,482.39 539.18,480.76 541.76,480.61"/><polygon points="565.50,478.20 566.44,480.61 569.02,480.76 567.02,482.39 567.67,484.89 565.50,483.50 563.33,484.89 563.98,482.39 561.98,480.76 564.56,480.61"/><polygon points="588.30,478.20 589.24,480.61 591.82,480.76 589.82,482.39 590.47,484.89 588.30,483.50 586.13,484.89 586.78,482.39 584.78,480.76 587.36,480.61"/><polygon points="611.10,478.20 612.04,480.61 614.62,480.76 612.62,482.39 613.27,484.89 611.10,483.50 608.93,484.89 609.58,482.39 607.58,480.76 610.16,480.61"/><polygon points="633.90,478.20 634.84,480.61 637.42,480.76 635.42,482.39 636.07,484.89 633.90,483.50 631.73,484.89 632.38,482.39 630.38,480.76 632.96,480.61"/><polygon points="656.70,478.20 657.64,480.61 660.22,480.76 658.22,482.39 658.87,484.89 656.70,483.50 654.53,484.89 655.18,482.39 653.18,480.76 655.76,480.61"/><polygon points="679.50,478.20 680.44,480.61 683.02,480.76 681.02,482.39 681.67,484.89 679.50,483.50 677.33,484.89 677.98,482.39 675.98,480.76 678.56,480.61"/><polygon points="702.30,478.20 703.24,480.61 705.82,480.76 703.82,482.39 704.47,484.89 702.30,483.50 700.13,484.89 700.78,482.39 698.78,480.76 701.36,480.61"/><polygon points="725.10,478.20 726.04,480.61 728.62,480.76 726.62,482.39 727.27,484.89 725.10,483.50 722.93,484.89 723.58,482.39 721.58,480.76 724.16,480.61"/><polygon points="747.90,478.20 748.84,480.61 751.42,480.76 749.42,482.39 750.07,484.89 747.90,483.50 745.73,484.89 746.38,482.39 744.38,480.76 746.96,480.61"/><polygon points="405.90,501.00 406.84,503.41 409.42,503.56 407.42,505.19 408.07,507.69 405.90,506.30 403.73,507.69 404.38,505.19 402.38,503.56 404.96,503.41"/><polygon points="451.50,501.00 452.44,503.41 455.02,503.56 453.02,505.19 453.67,507.69 451.50,506.30 449.33,507.69 449.98,505.19 447.98,503.56 450.56,503.41"/><polygon points="474.30,501.00 475.24,503.41 477.82,503.56 475.82,505.19 476.47,507.69 474.30,506.30 472.13,507.69 472.78,505.19 470.78,503.56 473.36,503.41"/><polygon points="497.10,501.00 498.04,503.41 500.62,503.56 498.62,505.19 499.27,507.69 497.10,506.30 494.93,507.69 495.58,505.19 493.58,503.56 496.16,503.41"/><polygon points="519.90,501.00 520.84,503.41 523.42,503.56 521.42,505.19 522.07,507.69 519.90,506.30 517.73,507.69 518.38,505.19 516.38,503.56 518.96,503.41"/><circle cx="542.70" cy="504.40" r="2.3"/><polygon points="565.50,501.00 566.44,503.41 569.02,503.56 567.02,505.19 567.67,507.69 565.50,506.30 563.33,507.69 563.98,505.19 561.98,503.56 564.56,503.41"/><polygon points="611.10,501.00 612.04,503.41 614.62,503.56 612.62,505.19 613.27,507.69 611.10,506.30 608.93,507.69 609.58,505.19 607.58,503.56 610.16,503.41"/><polygon points="633.90,501.00 634.84,503.41 637.42,503.56 635.42,505.19 636.07,507.69 633.90,506.30 631.73,507.69 632.38,505.19 630.38,503.56 632.96,503.41"/><polygon points="656.70,501.00 657.64,503.41 660.22,503.56 658.22,505.19 658.87,507.69 656.70,506.30 654.53,507.69 655.18,505.19 653.18,503.56 655.76,503.41"/><polygon points="679.50,501.00 680.44,503.41 683.02,503.56 681.02,505.19 681.67,507.69 679.50,506.30 677.33,507.69 677.98,505.19 675.98,503.56 678.56,503.41"/><polygon points="702.30,501.00 703.24,503.41 705.82,503.56 703.82,505.19 704.47,507.69 702.30,506.30 700.13,507.69 700.78,505.19 698.78,503.56 701.36,503.41"/><polygon points="725.10,501.00 726.04,503.41 728.62,503.56 726.62,505.19 727.27,507.69 725.10,506.30 722.93,507.69 723.58,505.19 721.58,503.56 724.16,503.41"/><polygon points="747.90,501.00 748.84,503.41 751.42,503.56 749.42,505.19 750.07,507.69 747.90,506.30 745.73,507.69 746.38,505.19 744.38,503.56 746.96,503.41"/><polygon points="223.50,523.80 224.44,526.21 227.02,526.36 225.02,527.99 225.67,530.49 223.50,529.10 221.33,530.49 221.98,527.99 219.98,526.36 222.56,526.21"/><polygon points="405.90,523.80 406.84,526.21 409.42,526.36 407.42,527.99 408.07,530.49 405.90,529.10 403.73,530.49 404.38,527.99 402.38,526.36 404.96,526.21"/><polygon points="451.50,523.80 452.44,526.21 455.02,526.36 453.02,527.99 453.67,530.49 451.50,529.10 449.33,530.49 449.98,527.99 447.98,526.36 450.56,526.21"/><polygon points="474.30,523.80 475.24,526.21 477.82,526.36 475.82,527.99 476.47,530.49 474.30,529.10 472.13,530.49 472.78,527.99 470.78,526.36 473.36,526.21"/><polygon points="519.90,523.80 520.84,526.21 523.42,526.36 521.42,527.99 522.07,530.49 519.90,529.10 517.73,530.49 518.38,527.99 516.38,526.36 518.96,526.21"/><polygon points="542.70,523.80 543.64,526.21 546.22,526.36 544.22,527.99 544.87,530.49 542.70,529.10 540.53,530.49 541.18,527.99 539.18,526.36 541.76,526.21"/><circle cx="565.50" cy="527.20" r="2.3"/><polygon points="588.30,523.80 589.24,526.21 591.82,526.36 589.82,527.99 590.47,530.49 588.30,529.10 586.13,530.49 586.78,527.99 584.78,526.36 587.36,526.21"/><polygon points="633.90,523.80 634.84,526.21 637.42,526.36 635.42,527.99 636.07,530.49 633.90,529.10 631.73,530.49 632.38,527.99 630.38,526.36 632.96,526.21"/><polygon points="656.70,523.80 657.64,526.21 660.22,526.36 658.22,527.99 658.87,530.49 656.70,529.10 654.53,530.49 655.18,527.99 653.18,526.36 655.76,526.21"/><polygon points="679.50,523.80 680.44,526.21 683.02,526.36 681.02,527.99 681.67,530.49 679.50,529.10 677.33,530.49 677.98,527.99 675.98,526.36 678.56,526.21"/><polygon points="702.30,523.80 703.24,526.21 705.82,526.36 703.82,527.99 704.47,530.49 702.30,529.10 700.13,530.49 700.78,527.99 698.78,526.36 701.36,526.21"/><polygon points="725.10,523.80 726.04,526.21 728.62,526.36 726.62,527.99 727.27,530.49 725.10,529.10 722.93,530.49 723.58,527.99 721.58,526.36 724.16,526.21"/><polygon points="747.90,523.80 748.84,526.21 751.42,526.36 749.42,527.99 750.07,530.49 747.90,529.10 745.73,530.49 746.38,527.99 744.38,526.36 746.96,526.21"/><polygon points="200.70,546.60 201.64,549.01 204.22,549.16 202.22,550.79 202.87,553.29 200.70,551.90 198.53,553.29 199.18,550.79 197.18,549.16 199.76,549.01"/><polygon points="519.90,546.60 520.84,549.01 523.42,549.16 521.42,550.79 522.07,553.29 519.90,551.90 517.73,553.29 518.38,550.79 516.38,549.16 518.96,549.01"/><polygon points="565.50,546.60 566.44,549.01 569.02,549.16 567.02,550.79 567.67,553.29 565.50,551.90 563.33,553.29 563.98,550.79 561.98,549.16 564.56,549.01"/><circle cx="588.30" cy="550.00" r="2.3"/><polygon points="633.90,546.60 634.84,549.01 637.42,549.16 635.42,550.79 636.07,553.29 633.90,551.90 631.73,553.29 632.38,550.79 630.38,549.16 632.96,549.01"/><polygon points="679.50,546.60 680.44,549.01 683.02,549.16 681.02,550.79 681.67,553.29 679.50,551.90 677.33,553.29 677.98,550.79 675.98,549.16 678.56,549.01"/><polygon points="747.90,546.60 748.84,549.01 751.42,549.16 749.42,550.79 750.07,553.29 747.90,551.90 745.73,553.29 746.38,550.79 744.38,549.16 746.96,549.01"/><polygon points="451.50,569.40 452.44,571.81 455.02,571.96 453.02,573.59 453.67,576.09 451.50,574.70 449.33,576.09 449.98,573.59 447.98,571.96 450.56,571.81"/><polygon points="497.10,569.40 498.04,571.81 500.62,571.96 498.62,573.59 499.27,576.09 497.10,574.70 494.93,576.09 495.58,573.59 493.58,571.96 496.16,571.81"/><polygon points="519.90,569.40 520.84,571.81 523.42,571.96 521.42,573.59 522.07,576.09 519.90,574.70 517.73,576.09 518.38,573.59 516.38,571.96 518.96,571.81"/><polygon points="542.70,569.40 543.64,571.81 546.22,571.96 544.22,573.59 544.87,576.09 542.70,574.70 540.53,576.09 541.18,573.59 539.18,571.96 541.76,571.81"/><circle cx="611.10" cy="572.80" r="2.3"/><polygon points="633.90,569.40 634.84,571.81 637.42,571.96 635.42,573.59 636.07,576.09 633.90,574.70 631.73,576.09 632.38,573.59 630.38,571.96 632.96,571.81"/><polygon points="656.70,569.40 657.64,571.81 660.22,571.96 658.22,573.59 658.87,576.09 656.70,574.70 654.53,576.09 655.18,573.59 653.18,571.96 655.76,571.81"/><polygon points="679.50,569.40 680.44,571.81 683.02,571.96 681.02,573.59 681.67,576.09 679.50,574.70 677.33,576.09 677.98,573.59 675.98,571.96 678.56,571.81"/><polygon points="725.10,569.40 726.04,571.81 728.62,571.96 726.62,573.59 727.27,576.09 725.10,574.70 722.93,576.09 723.58,573.59 721.58,571.96 724.16,571.81"/><polygon points="223.50,592.20 224.44,594.61 227.02,594.76 225.02,596.39 225.67,598.89 223.50,597.50 221.33,598.89 221.98,596.39 219.98,594.76 222.56,594.61"/><polygon points="451.50,592.20 452.44,594.61 455.02,594.76 453.02,596.39 453.67,598.89 451.50,597.50 449.33,598.89 449.98,596.39 447.98,594.76 450.56,594.61"/><polygon points="474.30,592.20 475.24,594.61 477.82,594.76 475.82,596.39 476.47,598.89 474.30,597.50 472.13,598.89 472.78,596.39 470.78,594.76 473.36,594.61"/><polygon points="497.10,592.20 498.04,594.61 500.62,594.76 498.62,596.39 499.27,598.89 497.10,597.50 494.93,598.89 495.58,596.39 493.58,594.76 496.16,594.61"/><polygon points="519.90,592.20 520.84,594.61 523.42,594.76 521.42,596.39 522.07,598.89 519.90,597.50 517.73,598.89 518.38,596.39 516.38,594.76 518.96,594.61"/><polygon points="542.70,592.20 543.64,594.61 546.22,594.76 544.22,596.39 544.87,598.89 542.70,597.50 540.53,598.89 541.18,596.39 539.18,594.76 541.76,594.61"/><polygon points="565.50,592.20 566.44,594.61 569.02,594.76 567.02,596.39 567.67,598.89 565.50,597.50 563.33,598.89 563.98,596.39 561.98,594.76 564.56,594.61"/><polygon points="588.30,592.20 589.24,594.61 591.82,594.76 589.82,596.39 590.47,598.89 588.30,597.50 586.13,598.89 586.78,596.39 584.78,594.76 587.36,594.61"/><polygon points="611.10,592.20 612.04,594.61 614.62,594.76 612.62,596.39 613.27,598.89 611.10,597.50 608.93,598.89 609.58,596.39 607.58,594.76 610.16,594.61"/><circle cx="633.90" cy="595.60" r="2.3"/><polygon points="656.70,592.20 657.64,594.61 660.22,594.76 658.22,596.39 658.87,598.89 656.70,597.50 654.53,598.89 655.18,596.39 653.18,594.76 655.76,594.61"/><polygon points="679.50,592.20 680.44,594.61 683.02,594.76 681.02,596.39 681.67,598.89 679.50,597.50 677.33,598.89 677.98,596.39 675.98,594.76 678.56,594.61"/><polygon points="725.10,592.20 726.04,594.61 728.62,594.76 726.62,596.39 727.27,598.89 725.10,597.50 722.93,598.89 723.58,596.39 721.58,594.76 724.16,594.61"/><polygon points="747.90,592.20 748.84,594.61 751.42,594.76 749.42,596.39 750.07,598.89 747.90,597.50 745.73,598.89 746.38,596.39 744.38,594.76 746.96,594.61"/><polygon points="383.10,615.00 384.04,617.41 386.62,617.56 384.62,619.19 385.27,621.69 383.10,620.30 380.93,621.69 381.58,619.19 379.58,617.56 382.16,617.41"/><polygon points="451.50,615.00 452.44,617.41 455.02,617.56 453.02,619.19 453.67,621.69 451.50,620.30 449.33,621.69 449.98,619.19 447.98,617.56 450.56,617.41"/><polygon points="474.30,615.00 475.24,617.41 477.82,617.56 475.82,619.19 476.47,621.69 474.30,620.30 472.13,621.69 472.78,619.19 470.78,617.56 473.36,617.41"/><polygon points="497.10,615.00 498.04,617.41 500.62,617.56 498.62,619.19 499.27,621.69 497.10,620.30 494.93,621.69 495.58,619.19 493.58,617.56 496.16,617.41"/><polygon points="519.90,615.00 520.84,617.41 523.42,617.56 521.42,619.19 522.07,621.69 519.90,620.30 517.73,621.69 518.38,619.19 516.38,617.56 518.96,617.41"/><polygon points="542.70,615.00 543.64,617.41 546.22,617.56 544.22,619.19 544.87,621.69 542.70,620.30 540.53,621.69 541.18,619.19 539.18,617.56 541.76,617.41"/><polygon points="565.50,615.00 566.44,617.41 569.02,617.56 567.02,619.19 567.67,621.69 565.50,620.30 563.33,621.69 563.98,619.19 561.98,617.56 564.56,617.41"/><polygon points="611.10,615.00 612.04,617.41 614.62,617.56 612.62,619.19 613.27,621.69 611.10,620.30 608.93,621.69 609.58,619.19 607.58,617.56 610.16,617.41"/><polygon points="633.90,615.00 634.84,617.41 637.42,617.56 635.42,619.19 636.07,621.69 633.90,620.30 631.73,621.69 632.38,619.19 630.38,617.56 632.96,617.41"/><circle cx="656.70" cy="618.40" r="2.3"/><polygon points="679.50,615.00 680.44,617.41 683.02,617.56 681.02,619.19 681.67,621.69 679.50,620.30 677.33,621.69 677.98,619.19 675.98,617.56 678.56,617.41"/><polygon points="702.30,615.00 703.24,617.41 705.82,617.56 703.82,619.19 704.47,621.69 702.30,620.30 700.13,621.69 700.78,619.19 698.78,617.56 701.36,617.41"/><polygon points="725.10,615.00 726.04,617.41 728.62,617.56 726.62,619.19 727.27,621.69 725.10,620.30 722.93,621.69 723.58,619.19 721.58,617.56 724.16,617.41"/><polygon points="747.90,615.00 748.84,617.41 751.42,617.56 749.42,619.19 750.07,621.69 747.90,620.30 745.73,621.69 746.38,619.19 744.38,617.56 746.96,617.41"/><polygon points="497.10,637.80 498.04,640.21 500.62,640.36 498.62,641.99 499.27,644.49 497.10,643.10 494.93,644.49 495.58,641.99 493.58,640.36 496.16,640.21"/><polygon points="519.90,637.80 520.84,640.21 523.42,640.36 521.42,641.99 522.07,644.49 519.90,643.10 517.73,644.49 518.38,641.99 516.38,640.36 518.96,640.21"/><polygon points="542.70,637.80 543.64,640.21 546.22,640.36 544.22,641.99 544.87,644.49 542.70,643.10 540.53,644.49 541.18,641.99 539.18,640.36 541.76,640.21"/><polygon points="565.50,637.80 566.44,640.21 569.02,640.36 567.02,641.99 567.67,644.49 565.50,643.10 563.33,644.49 563.98,641.99 561.98,640.36 564.56,640.21"/><polygon points="588.30,637.80 589.24,640.21 591.82,640.36 589.82,641.99 590.47,644.49 588.30,643.10 586.13,644.49 586.78,641.99 584.78,640.36 587.36,640.21"/><polygon points="611.10,637.80 612.04,640.21 614.62,640.36 612.62,641.99 613.27,644.49 611.10,643.10 608.93,644.49 609.58,641.99 607.58,640.36 610.16,640.21"/><polygon points="633.90,637.80 634.84,640.21 637.42,640.36 635.42,641.99 636.07,644.49 633.90,643.10 631.73,644.49 632.38,641.99 630.38,640.36 632.96,640.21"/><polygon points="656.70,637.80 657.64,640.21 660.22,640.36 658.22,641.99 658.87,644.49 656.70,643.10 654.53,644.49 655.18,641.99 653.18,640.36 655.76,640.21"/><circle cx="679.50" cy="641.20" r="2.3"/><polygon points="702.30,637.80 703.24,640.21 705.82,640.36 703.82,641.99 704.47,644.49 702.30,643.10 700.13,644.49 700.78,641.99 698.78,640.36 701.36,640.21"/><polygon points="725.10,637.80 726.04,640.21 728.62,640.36 726.62,641.99 727.27,644.49 725.10,643.10 722.93,644.49 723.58,641.99 721.58,640.36 724.16,640.21"/><polygon points="747.90,637.80 748.84,640.21 751.42,640.36 749.42,641.99 750.07,644.49 747.90,643.10 745.73,644.49 746.38,641.99 744.38,640.36 746.96,640.21"/><polygon points="223.50,660.60 224.44,663.01 227.02,663.16 225.02,664.79 225.67,667.29 223.50,665.90 221.33,667.29 221.98,664.79 219.98,663.16 222.56,663.01"/><polygon points="383.10,660.60 384.04,663.01 386.62,663.16 384.62,664.79 385.27,667.29 383.10,665.90 380.93,667.29 381.58,664.79 379.58,663.16 382.16,663.01"/><polygon points="428.70,660.60 429.64,663.01 432.22,663.16 430.22,664.79 430.87,667.29 428.70,665.90 426.53,667.29 427.18,664.79 425.18,663.16 427.76,663.01"/><polygon points="451.50,660.60 452.44,663.01 455.02,663.16 453.02,664.79 453.67,667.29 451.50,665.90 449.33,667.29 449.98,664.79 447.98,663.16 450.56,663.01"/><polygon points="519.90,660.60 520.84,663.01 523.42,663.16 521.42,664.79 522.07,667.29 519.90,665.90 517.73,667.29 518.38,664.79 516.38,663.16 518.96,663.01"/><polygon points="542.70,660.60 543.64,663.01 546.22,663.16 544.22,664.79 544.87,667.29 542.70,665.90 540.53,667.29 541.18,664.79 539.18,663.16 541.76,663.01"/><polygon points="565.50,660.60 566.44,663.01 569.02,663.16 567.02,664.79 567.67,667.29 565.50,665.90 563.33,667.29 563.98,664.79 561.98,663.16 564.56,663.01"/><polygon points="656.70,660.60 657.64,663.01 660.22,663.16 658.22,664.79 658.87,667.29 656.70,665.90 654.53,667.29 655.18,664.79 653.18,663.16 655.76,663.01"/><polygon points="679.50,660.60 680.44,663.01 683.02,663.16 681.02,664.79 681.67,667.29 679.50,665.90 677.33,667.29 677.98,664.79 675.98,663.16 678.56,663.01"/><circle cx="702.30" cy="664.00" r="2.3"/><polygon points="725.10,660.60 726.04,663.01 728.62,663.16 726.62,664.79 727.27,667.29 725.10,665.90 722.93,667.29 723.58,664.79 721.58,663.16 724.16,663.01"/><polygon points="770.70,660.60 771.64,663.01 774.22,663.16 772.22,664.79 772.87,667.29 770.70,665.90 768.53,667.29 769.18,664.79 767.18,663.16 769.76,663.01"/><polygon points="793.50,660.60 794.44,663.01 797.02,663.16 795.02,664.79 795.67,667.29 793.50,665.90 791.33,667.29 791.98,664.79 789.98,663.16 792.56,663.01"/><polygon points="451.50,683.40 452.44,685.81 455.02,685.96 453.02,687.59 453.67,690.09 451.50,688.70 449.33,690.09 449.98,687.59 447.98,685.96 450.56,685.81"/><polygon points="497.10,683.40 498.04,685.81 500.62,685.96 498.62,687.59 499.27,690.09 497.10,688.70 494.93,690.09 495.58,687.59 493.58,685.96 496.16,685.81"/><polygon points="519.90,683.40 520.84,685.81 523.42,685.96 521.42,687.59 522.07,690.09 519.90,688.70 517.73,690.09 518.38,687.59 516.38,685.96 518.96,685.81"/><polygon points="542.70,683.40 543.64,685.81 546.22,685.96 544.22,687.59 544.87,690.09 542.70,688.70 540.53,690.09 541.18,687.59 539.18,685.96 541.76,685.81"/><polygon points="565.50,683.40 566.44,685.81 569.02,685.96 567.02,687.59 567.67,690.09 565.50,688.70 563.33,690.09 563.98,687.59 561.98,685.96 564.56,685.81"/><polygon points="611.10,683.40 612.04,685.81 614.62,685.96 612.62,687.59 613.27,690.09 611.10,688.70 608.93,690.09 609.58,687.59 607.58,685.96 610.16,685.81"/><polygon points="633.90,683.40 634.84,685.81 637.42,685.96 635.42,687.59 636.07,690.09 633.90,688.70 631.73,690.09 632.38,687.59 630.38,685.96 632.96,685.81"/><polygon points="656.70,683.40 657.64,685.81 660.22,685.96 658.22,687.59 658.87,690.09 656.70,688.70 654.53,690.09 655.18,687.59 653.18,685.96 655.76,685.81"/><polygon points="679.50,683.40 680.44,685.81 683.02,685.96 681.02,687.59 681.67,690.09 679.50,688.70 677.33,690.09 677.98,687.59 675.98,685.96 678.56,685.81"/><polygon points="702.30,683.40 703.24,685.81 705.82,685.96 703.82,687.59 704.47,690.09 702.30,688.70 700.13,690.09 700.78,687.59 698.78,685.96 701.36,685.81"/><circle cx="725.10" cy="686.80" r="2.3"/><polygon points="747.90,683.40 748.84,685.81 751.42,685.96 749.42,687.59 750.07,690.09 747.90,688.70 745.73,690.09 746.38,687.59 744.38,685.96 746.96,685.81"/><polygon points="770.70,683.40 771.64,685.81 774.22,685.96 772.22,687.59 772.87,690.09 770.70,688.70 768.53,690.09 769.18,687.59 767.18,685.96 769.76,685.81"/><polygon points="793.50,683.40 794.44,685.81 797.02,685.96 795.02,687.59 795.67,690.09 793.50,688.70 791.33,690.09 791.98,687.59 789.98,685.96 792.56,685.81"/><polygon points="816.30,683.40 817.24,685.81 819.82,685.96 817.82,687.59 818.47,690.09 816.30,688.70 814.13,690.09 814.78,687.59 812.78,685.96 815.36,685.81"/><polygon points="451.50,706.20 452.44,708.61 455.02,708.76 453.02,710.39 453.67,712.89 451.50,711.50 449.33,712.89 449.98,710.39 447.98,708.76 450.56,708.61"/><polygon points="519.90,706.20 520.84,708.61 523.42,708.76 521.42,710.39 522.07,712.89 519.90,711.50 517.73,712.89 518.38,710.39 516.38,708.76 518.96,708.61"/><polygon points="542.70,706.20 543.64,708.61 546.22,708.76 544.22,710.39 544.87,712.89 542.70,711.50 540.53,712.89 541.18,710.39 539.18,708.76 541.76,708.61"/><polygon points="565.50,706.20 566.44,708.61 569.02,708.76 567.02,710.39 567.67,712.89 565.50,711.50 563.33,712.89 563.98,710.39 561.98,708.76 564.56,708.61"/><polygon points="588.30,706.20 589.24,708.61 591.82,708.76 589.82,710.39 590.47,712.89 588.30,711.50 586.13,712.89 586.78,710.39 584.78,708.76 587.36,708.61"/><polygon points="633.90,706.20 634.84,708.61 637.42,708.76 635.42,710.39 636.07,712.89 633.90,711.50 631.73,712.89 632.38,710.39 630.38,708.76 632.96,708.61"/><polygon points="656.70,706.20 657.64,708.61 660.22,708.76 658.22,710.39 658.87,712.89 656.70,711.50 654.53,712.89 655.18,710.39 653.18,708.76 655.76,708.61"/><polygon points="679.50,706.20 680.44,708.61 683.02,708.76 681.02,710.39 681.67,712.89 679.50,711.50 677.33,712.89 677.98,710.39 675.98,708.76 678.56,708.61"/><polygon points="725.10,706.20 726.04,708.61 728.62,708.76 726.62,710.39 727.27,712.89 725.10,711.50 722.93,712.89 723.58,710.39 721.58,708.76 724.16,708.61"/><circle cx="747.90" cy="709.60" r="2.3"/><polygon points="200.70,729.00 201.64,731.41 204.22,731.56 202.22,733.19 202.87,735.69 200.70,734.30 198.53,735.69 199.18,733.19 197.18,731.56 199.76,731.41"/><polygon points="314.70,729.00 315.64,731.41 318.22,731.56 316.22,733.19 316.87,735.69 314.70,734.30 312.53,735.69 313.18,733.19 311.18,731.56 313.76,731.41"/><polygon points="383.10,729.00 384.04,731.41 386.62,731.56 384.62,733.19 385.27,735.69 383.10,734.30 380.93,735.69 381.58,733.19 379.58,731.56 382.16,731.41"/><polygon points="702.30,729.00 703.24,731.41 705.82,731.56 703.82,733.19 704.47,735.69 702.30,734.30 700.13,735.69 700.78,733.19 698.78,731.56 701.36,731.41"/><polygon points="725.10,729.00 726.04,731.41 728.62,731.56 726.62,733.19 727.27,735.69 725.10,734.30 722.93,735.69 723.58,733.19 721.58,731.56 724.16,731.41"/><circle cx="770.70" cy="732.40" r="2.3"/><circle cx="793.50" cy="732.40" r="2.3"/><polygon points="816.30,729.00 817.24,731.41 819.82,731.56 817.82,733.19 818.47,735.69 816.30,734.30 814.13,735.69 814.78,733.19 812.78,731.56 815.36,731.41"/><polygon points="200.70,751.80 201.64,754.21 204.22,754.36 202.22,755.99 202.87,758.49 200.70,757.10 198.53,758.49 199.18,755.99 197.18,754.36 199.76,754.21"/><polygon points="314.70,751.80 315.64,754.21 318.22,754.36 316.22,755.99 316.87,758.49 314.70,757.10 312.53,758.49 313.18,755.99 311.18,754.36 313.76,754.21"/><polygon points="383.10,751.80 384.04,754.21 386.62,754.36 384.62,755.99 385.27,758.49 383.10,757.10 380.93,758.49 381.58,755.99 379.58,754.36 382.16,754.21"/><polygon points="702.30,751.80 703.24,754.21 705.82,754.36 703.82,755.99 704.47,758.49 702.30,757.10 700.13,758.49 700.78,755.99 698.78,754.36 701.36,754.21"/><polygon points="725.10,751.80 726.04,754.21 728.62,754.36 726.62,755.99 727.27,758.49 725.10,757.10 722.93,758.49 723.58,755.99 721.58,754.36 724.16,754.21"/><circle cx="770.70" cy="755.20" r="2.3"/><circle cx="793.50" cy="755.20" r="2.3"/><polygon points="816.30,751.80 817.24,754.21 819.82,754.36 817.82,755.99 818.47,758.49 816.30,757.10 814.13,758.49 814.78,755.99 812.78,754.36 815.36,754.21"/><polygon points="725.10,774.60 726.04,777.01 728.62,777.16 726.62,778.79 727.27,781.29 725.10,779.90 722.93,781.29 723.58,778.79 721.58,777.16 724.16,777.01"/><polygon points="770.70,774.60 771.64,777.01 774.22,777.16 772.22,778.79 772.87,781.29 770.70,779.90 768.53,781.29 769.18,778.79 767.18,777.16 769.76,777.01"/><polygon points="793.50,774.60 794.44,777.01 797.02,777.16 795.02,778.79 795.67,781.29 793.50,779.90 791.33,781.29 791.98,778.79 789.98,777.16 792.56,777.01"/><circle cx="816.30" cy="778.00" r="2.3"/></g>
<g font-family="Liberation Serif" font-size="21.7" fill="#000" text-anchor="end">
<text x="176" y="167.90">TG</text>
<text x="176" y="190.70">Alb</text>
<text x="176" y="213.50">TT</text>
<text x="176" y="236.30">PT</text>
<text x="176" y="259.10">INR</text>
<text x="176" y="281.90">CRP</text>
<text x="176" y="304.70">HbA1c</text>
<text x="176" y="327.50">FBG</text>
<text x="176" y="350.30">2hBG</text>
<text x="176" y="373.10">FIB</text>
<text x="176" y="395.90">APTT</text>
<text x="176" y="418.70">D−Glucose</text>
<text x="176" y="441.50">Cadaverine</text>
<text x="176" y="464.30">L−Leucine</text>
<text x="176" y="487.10">L−Phenylalanine</text>
<text x="176" y="509.90">L−Proline</text>
<text x="176" y="532.70">L−Asparagine</text>
<text x="176" y="555.50">Glycine</text>
<text x="181" y="578.30">Glycerol</text>
<text x="181" y="601.10">α−D−Mannose</text>
<text x="176" y="623.90">Indole</text>
<text x="176" y="646.70">Glutamine</text>
<text x="176" y="669.50">D−Gluconic acid</text>
<text x="176" y="692.30">Cholesterol</text>
<text x="176" y="715.10">Urea</text>
<text x="176" y="737.90">LDL</text>
<text x="176" y="760.70">TC</text>
<text x="176" y="783.50">HDL</text>
</g>
<g font-family="Liberation Serif" font-size="22.4" fill="#000">
<text transform="translate(207.20,144.5) rotate(-60)">TG</text>
<text transform="translate(230.09,144.5) rotate(-60)">Alb</text>
<text transform="translate(252.99,144.5) rotate(-60)">TT</text>
<text transform="translate(275.88,144.5) rotate(-60)">PT</text>
<text transform="translate(298.77,144.5) rotate(-60)">INR</text>
<text transform="translate(321.66,144.5) rotate(-60)">CRP</text>
<text transform="translate(344.56,144.5) rotate(-60)">HbA1c</text>
<text transform="translate(367.45,144.5) rotate(-60)">FBG</text>
<text transform="translate(390.34,144.5) rotate(-60)">2hBG</text>
<text transform="translate(413.23,144.5) rotate(-60)">FIB</text>
<text transform="translate(436.13,144.5) rotate(-60)">APTT</text>
<text transform="translate(459.02,144.5) rotate(-60)">D−Glucose</text>
<text transform="translate(481.91,144.5) rotate(-60)">Cadaverine</text>
<text transform="translate(504.80,144.5) rotate(-60)">L−Leucine</text>
<text transform="translate(527.70,144.5) rotate(-60)">L−Phenylalanine</text>
<text transform="translate(550.59,144.5) rotate(-60)">L−Proline</text>
<text transform="translate(573.48,144.5) rotate(-60)">L−Asparagine</text>
<text transform="translate(596.37,144.5) rotate(-60)">Glycine</text>
<text transform="translate(619.27,144.5) rotate(-60)">Glycerol</text>
<text transform="translate(642.16,144.5) rotate(-60)">:−D−Mannose</text>
<text transform="translate(665.05,144.5) rotate(-60)">Indole</text>
<text transform="translate(687.94,144.5) rotate(-60)">Glutamine</text>
<text transform="translate(710.84,144.5) rotate(-60)">D−Gluconic acid</text>
<text transform="translate(733.73,144.5) rotate(-60)">Cholesterol</text>
<text transform="translate(756.62,144.5) rotate(-60)">Urea</text>
<text transform="translate(779.51,144.5) rotate(-60)">LDL</text>
<text transform="translate(802.41,144.5) rotate(-60)">TC</text>
<text transform="translate(825.30,144.5) rotate(-60)">HDL</text>
</g>
<defs><linearGradient id="cb" x1="0" y1="0" x2="0" y2="1"><stop offset="0" stop-color="#ff0000"/><stop offset="0.5" stop-color="#ffffff"/><stop offset="1" stop-color="#0000ff"/></linearGradient></defs>
<rect x="840.5" y="151" width="24.5" height="638" fill="url(#cb)"/>
<g stroke="#111" stroke-width="2" fill="none">
<line x1="840.5" y1="150" x2="840.5" y2="790"/>
<line x1="865" y1="150" x2="865" y2="790"/>
<line x1="840" y1="151" x2="871" y2="151"/>
<line x1="840" y1="789" x2="871" y2="789"/>
<line x1="865" y1="151.0" x2="871" y2="151.0"/>
<line x1="865" y1="310.5" x2="871" y2="310.5"/>
<line x1="865" y1="470.0" x2="871" y2="470.0"/>
<line x1="865" y1="629.5" x2="871" y2="629.5"/>
<line x1="865" y1="789.0" x2="871" y2="789.0"/>
</g>
<g font-family="Liberation Sans" font-size="18" fill="#222" text-anchor="middle">
<text x="894.5" y="157.5">1</text>
<text x="894.5" y="317.0">0.5</text>
<text x="894.5" y="476.5">0</text>
<text x="894.5" y="636.0">−0.5</text>
<text x="894.5" y="795.5">−1</text>
</g>
<text x="4.5" y="36.2" font-family="Liberation Sans" font-weight="bold" font-size="43.5">A</text>
<text x="2.5" y="821" font-family="Liberation Sans" font-weight="bold" font-size="43.5">B</text>
<g stroke="#262626" stroke-width="1.9" fill="none" stroke-linecap="square">
<path d="M58.2 849.2V962.0H228.5"/>
<path stroke-width="1.5" d="M55.0 962.0H58.2M55.0 939.4H58.2M55.0 916.9H58.2M55.0 894.3H58.2M55.0 871.8H58.2M55.0 849.2H58.2M58.2 962.0V965.2M115.0 962.0V965.2M171.7 962.0V965.2M228.5 962.0V965.2"/>
</g>
<g font-family="Liberation Sans" font-weight="bold" font-size="9.6" fill="#3a3a3a">
<text transform="translate(53.7,964.8) scale(0.8,1)" text-anchor="end">0</text>
<text transform="translate(53.7,942.2) scale(0.8,1)" text-anchor="end">5</text>
<text transform="translate(53.7,919.7) scale(0.8,1)" text-anchor="end">10</text>
<text transform="translate(53.7,897.1) scale(0.8,1)" text-anchor="end">15</text>
<text transform="translate(53.7,874.6) scale(0.8,1)" text-anchor="end">20</text>
<text transform="translate(53.7,852.0) scale(0.8,1)" text-anchor="end">25</text>
<text transform="translate(58.2,974.8) scale(0.8,1)" text-anchor="middle">0.0</text>
<text transform="translate(115.0,974.8) scale(0.8,1)" text-anchor="middle">0.5</text>
<text transform="translate(171.7,974.8) scale(0.8,1)" text-anchor="middle">1.0</text>
<text transform="translate(228.5,974.8) scale(0.8,1)" text-anchor="middle">1.5</text>
</g>
<text x="103.0" y="847.9" font-family="Liberation Sans" font-size="11.8" fill="#4a4a4a" textLength="94.2" lengthAdjust="spacingAndGlyphs">R = 0.601 <tspan font-style="italic">P</tspan> < 0.0001</text>
<text x="143.9" y="993.0" text-anchor="middle" font-family="Liberation Serif" font-weight="bold" font-size="17.6" fill="#000">D-Glucose</text>
<text transform="translate(36.4,901.7) rotate(-90)" text-anchor="middle" font-family="Liberation Serif" font-weight="bold" font-size="15.8" fill="#000">FBG</text>
<line x1="74.0" y1="940.5" x2="182.3" y2="890.9" stroke="#111" stroke-width="1.6"/>
<g fill="#000"><circle cx="130.9" cy="865.0" r="2.55"/><circle cx="161.3" cy="870.0" r="2.55"/><circle cx="107.3" cy="882.4" r="2.55"/><circle cx="153.3" cy="888.4" r="2.55"/><circle cx="182.9" cy="888.6" r="2.55"/><circle cx="163.5" cy="894.9" r="2.55"/><circle cx="143.9" cy="895.9" r="2.55"/><circle cx="149.3" cy="899.3" r="2.55"/><circle cx="93.0" cy="902.3" r="2.55"/><circle cx="138.9" cy="912.9" r="2.55"/><circle cx="148.9" cy="917.5" r="2.55"/><circle cx="159.5" cy="917.9" r="2.55"/><circle cx="134.9" cy="924.3" r="2.55"/><circle cx="155.9" cy="925.9" r="2.55"/><circle cx="138.5" cy="930.3" r="2.55"/><circle cx="144.3" cy="933.3" r="2.55"/><circle cx="119.3" cy="933.3" r="2.55"/><circle cx="74.0" cy="934.9" r="2.55"/><circle cx="82.6" cy="950.5" r="2.55"/><circle cx="81.4" cy="922.9" r="2.55"/><circle cx="78.0" cy="927.9" r="2.55"/><circle cx="87.0" cy="927.9" r="2.55"/><circle cx="89.0" cy="927.9" r="2.55"/><circle cx="92.0" cy="920.9" r="2.55"/><circle cx="95.0" cy="921.5" r="2.55"/><circle cx="97.0" cy="921.9" r="2.55"/><circle cx="101.9" cy="910.9" r="2.55"/><circle cx="100.0" cy="914.9" r="2.55"/><circle cx="99.0" cy="916.9" r="2.55"/><circle cx="110.9" cy="913.5" r="2.55"/><circle cx="102.3" cy="922.9" r="2.55"/><circle cx="105.9" cy="925.9" r="2.55"/><circle cx="108.9" cy="926.9" r="2.55"/><circle cx="109.9" cy="930.9" r="2.55"/><circle cx="100.9" cy="930.9" r="2.55"/><circle cx="102.9" cy="933.9" r="2.55"/><circle cx="99.0" cy="932.9" r="2.55"/><circle cx="96.0" cy="933.9" r="2.55"/><circle cx="93.0" cy="935.9" r="2.55"/><circle cx="90.0" cy="937.9" r="2.55"/><circle cx="89.0" cy="941.9" r="2.55"/><circle cx="90.0" cy="945.9" r="2.55"/><circle cx="95.0" cy="939.9" r="2.55"/><circle cx="98.0" cy="939.9" r="2.55"/><circle cx="103.9" cy="941.9" r="2.55"/><circle cx="109.9" cy="938.9" r="2.55"/><circle cx="112.9" cy="934.9" r="2.55"/><circle cx="114.9" cy="919.9" r="2.55"/><circle cx="118.9" cy="916.9" r="2.55"/><circle cx="121.9" cy="914.9" r="2.55"/><circle cx="124.3" cy="917.9" r="2.55"/><circle cx="123.5" cy="922.9" r="2.55"/><circle cx="121.5" cy="925.9" r="2.55"/><circle cx="117.9" cy="927.9" r="2.55"/><circle cx="86.0" cy="938.9" r="2.55"/><circle cx="87.0" cy="931.9" r="2.55"/><circle cx="96.0" cy="928.9" r="2.55"/><circle cx="103.9" cy="930.9" r="2.55"/><circle cx="107.9" cy="933.9" r="2.55"/><circle cx="100.0" cy="935.9" r="2.55"/><circle cx="93.0" cy="930.9" r="2.55"/><circle cx="100.9" cy="925.9" r="2.55"/><circle cx="113.9" cy="923.9" r="2.55"/><circle cx="91.0" cy="943.9" r="2.55"/><circle cx="104.9" cy="935.9" r="2.55"/><circle cx="101.9" cy="937.9" r="2.55"/><circle cx="96.0" cy="925.9" r="2.55"/><circle cx="100.0" cy="928.9" r="2.55"/><circle cx="103.9" cy="927.9" r="2.55"/><circle cx="98.0" cy="937.9" r="2.55"/><circle cx="106.9" cy="937.9" r="2.55"/><circle cx="111.9" cy="928.9" r="2.55"/><circle cx="116.9" cy="923.9" r="2.55"/><circle cx="94.0" cy="931.9" r="2.55"/></g>
<g stroke="#262626" stroke-width="1.9" fill="none" stroke-linecap="square">
<path d="M288.2 848.0V960.8H458.5"/>
<path stroke-width="1.5" d="M285.0 960.8H288.2M285.0 938.2H288.2M285.0 915.7H288.2M285.0 893.1H288.2M285.0 870.6H288.2M285.0 848.0H288.2M288.2 960.8V964.0M330.8 960.8V964.0M373.4 960.8V964.0M415.9 960.8V964.0M458.5 960.8V964.0"/>
</g>
<g font-family="Liberation Sans" font-weight="bold" font-size="9.6" fill="#3a3a3a">
<text transform="translate(283.7,963.6) scale(0.8,1)" text-anchor="end">0</text>
<text transform="translate(283.7,941.0) scale(0.8,1)" text-anchor="end">5</text>
<text transform="translate(283.7,918.5) scale(0.8,1)" text-anchor="end">10</text>
<text transform="translate(283.7,895.9) scale(0.8,1)" text-anchor="end">15</text>
<text transform="translate(283.7,873.4) scale(0.8,1)" text-anchor="end">20</text>
<text transform="translate(283.7,850.8) scale(0.8,1)" text-anchor="end">25</text>
<text transform="translate(288.2,973.6) scale(0.8,1)" text-anchor="middle">0.0</text>
<text transform="translate(330.8,973.6) scale(0.8,1)" text-anchor="middle">0.2</text>
<text transform="translate(373.4,973.6) scale(0.8,1)" text-anchor="middle">0.4</text>
<text transform="translate(415.9,973.6) scale(0.8,1)" text-anchor="middle">0.6</text>
<text transform="translate(458.5,973.6) scale(0.8,1)" text-anchor="middle">0.8</text>
</g>
<text x="335.7" y="846.8" font-family="Liberation Sans" font-size="11.8" fill="#4a4a4a" textLength="91.3" lengthAdjust="spacingAndGlyphs">R = 0.242 <tspan font-style="italic">P</tspan> = 0.043</text>
<text x="382.4" y="993.0" text-anchor="middle" font-family="Liberation Serif" font-weight="bold" font-size="17.6" fill="#000">L-Phenylalanine</text>
<text transform="translate(269.1,899.2) rotate(-90)" text-anchor="middle" font-family="Liberation Serif" font-weight="bold" font-size="15.8" fill="#000">FBG</text>
<line x1="320.9" y1="930.4" x2="419.0" y2="913.0" stroke="#111" stroke-width="1.6"/>
<g fill="#000"><circle cx="392.9" cy="864.0" r="2.55"/><circle cx="364.3" cy="869.0" r="2.55"/><circle cx="393.3" cy="881.6" r="2.55"/><circle cx="351.5" cy="887.4" r="2.55"/><circle cx="394.5" cy="888.0" r="2.55"/><circle cx="348.3" cy="894.3" r="2.55"/><circle cx="395.9" cy="895.3" r="2.55"/><circle cx="405.3" cy="898.3" r="2.55"/><circle cx="376.9" cy="901.5" r="2.55"/><circle cx="375.9" cy="909.5" r="2.55"/><circle cx="397.9" cy="911.5" r="2.55"/><circle cx="369.9" cy="912.9" r="2.55"/><circle cx="419.5" cy="925.3" r="2.55"/><circle cx="337.3" cy="914.9" r="2.55"/><circle cx="345.9" cy="913.5" r="2.55"/><circle cx="348.9" cy="914.9" r="2.55"/><circle cx="332.9" cy="921.9" r="2.55"/><circle cx="323.0" cy="932.9" r="2.55"/><circle cx="326.0" cy="932.3" r="2.55"/><circle cx="325.0" cy="933.5" r="2.55"/><circle cx="333.9" cy="934.9" r="2.55"/><circle cx="332.9" cy="939.9" r="2.55"/><circle cx="336.9" cy="941.9" r="2.55"/><circle cx="338.9" cy="941.9" r="2.55"/><circle cx="339.9" cy="933.9" r="2.55"/><circle cx="341.9" cy="931.9" r="2.55"/><circle cx="343.9" cy="929.9" r="2.55"/><circle cx="345.9" cy="930.9" r="2.55"/><circle cx="346.9" cy="925.9" r="2.55"/><circle cx="350.9" cy="927.9" r="2.55"/><circle cx="354.9" cy="920.3" r="2.55"/><circle cx="347.9" cy="919.9" r="2.55"/><circle cx="349.9" cy="921.9" r="2.55"/><circle cx="341.9" cy="921.9" r="2.55"/><circle cx="340.9" cy="925.9" r="2.55"/><circle cx="343.9" cy="925.9" r="2.55"/><circle cx="351.9" cy="931.9" r="2.55"/><circle cx="349.9" cy="936.9" r="2.55"/><circle cx="355.9" cy="933.9" r="2.55"/><circle cx="357.9" cy="935.9" r="2.55"/><circle cx="359.5" cy="945.9" r="2.55"/><circle cx="365.5" cy="940.5" r="2.55"/><circle cx="361.9" cy="931.9" r="2.55"/><circle cx="363.9" cy="928.9" r="2.55"/><circle cx="365.9" cy="925.9" r="2.55"/><circle cx="367.9" cy="930.9" r="2.55"/><circle cx="370.9" cy="931.9" r="2.55"/><circle cx="368.9" cy="923.9" r="2.55"/><circle cx="372.9" cy="919.9" r="2.55"/><circle cx="374.9" cy="916.9" r="2.55"/><circle cx="377.9" cy="917.9" r="2.55"/><circle cx="379.9" cy="916.9" r="2.55"/><circle cx="381.9" cy="919.9" r="2.55"/><circle cx="376.9" cy="925.9" r="2.55"/><circle cx="379.9" cy="930.9" r="2.55"/><circle cx="382.9" cy="934.9" r="2.55"/><circle cx="388.9" cy="931.9" r="2.55"/><circle cx="389.5" cy="940.9" r="2.55"/><circle cx="388.9" cy="950.3" r="2.55"/><circle cx="403.9" cy="936.9" r="2.55"/><circle cx="406.9" cy="937.3" r="2.55"/><circle cx="405.5" cy="937.9" r="2.55"/><circle cx="407.9" cy="937.9" r="2.55"/></g>
<g stroke="#262626" stroke-width="1.9" fill="none" stroke-linecap="square">
<path d="M507.2 847.6V959.7H677.5"/>
<path stroke-width="1.5" d="M504.0 959.7H507.2M504.0 931.7H507.2M504.0 903.7H507.2M504.0 875.6H507.2M504.0 847.6H507.2M507.2 959.7V962.9M564.0 959.7V962.9M620.7 959.7V962.9M677.5 959.7V962.9"/>
</g>
<g font-family="Liberation Sans" font-weight="bold" font-size="9.6" fill="#3a3a3a">
<text transform="translate(502.7,962.5) scale(0.8,1)" text-anchor="end">0</text>
<text transform="translate(502.7,934.5) scale(0.8,1)" text-anchor="end">10</text>
<text transform="translate(502.7,906.5) scale(0.8,1)" text-anchor="end">20</text>
<text transform="translate(502.7,878.4) scale(0.8,1)" text-anchor="end">30</text>
<text transform="translate(502.7,850.4) scale(0.8,1)" text-anchor="end">40</text>
<text transform="translate(507.2,972.5) scale(0.8,1)" text-anchor="middle">0.0</text>
<text transform="translate(564.0,972.5) scale(0.8,1)" text-anchor="middle">0.5</text>
<text transform="translate(620.7,972.5) scale(0.8,1)" text-anchor="middle">1.0</text>
<text transform="translate(677.5,972.5) scale(0.8,1)" text-anchor="middle">1.5</text>
</g>
<text x="552.3" y="845.2" font-family="Liberation Sans" font-size="11.8" fill="#4a4a4a" textLength="95.9" lengthAdjust="spacingAndGlyphs">R = 0.423 <tspan font-style="italic">P</tspan> = 0.0003</text>
<text x="597.5" y="994.0" text-anchor="middle" font-family="Liberation Serif" font-weight="bold" font-size="17.6" fill="#000">D-Glucose</text>
<text transform="translate(485.6,898.7) rotate(-90)" text-anchor="middle" font-family="Liberation Serif" font-weight="bold" font-size="15.8" fill="#000">2hBG</text>
<line x1="524.1" y1="932.6" x2="633.5" y2="903.3" stroke="#111" stroke-width="1.6"/>
<g fill="#000"><circle cx="568.9" cy="870.4" r="2.55"/><circle cx="611.3" cy="883.0" r="2.55"/><circle cx="599.3" cy="889.9" r="2.55"/><circle cx="605.9" cy="900.9" r="2.55"/><circle cx="613.5" cy="901.9" r="2.55"/><circle cx="543.0" cy="900.9" r="2.55"/><circle cx="572.3" cy="906.9" r="2.55"/><circle cx="580.9" cy="904.9" r="2.55"/><circle cx="588.9" cy="904.9" r="2.55"/><circle cx="598.9" cy="908.3" r="2.55"/><circle cx="602.9" cy="906.9" r="2.55"/><circle cx="609.9" cy="914.5" r="2.55"/><circle cx="632.9" cy="915.9" r="2.55"/><circle cx="543.0" cy="908.3" r="2.55"/><circle cx="550.0" cy="908.3" r="2.55"/><circle cx="557.3" cy="908.9" r="2.55"/><circle cx="539.0" cy="910.9" r="2.55"/><circle cx="536.0" cy="916.9" r="2.55"/><circle cx="538.0" cy="918.9" r="2.55"/><circle cx="545.0" cy="915.9" r="2.55"/><circle cx="550.9" cy="915.9" r="2.55"/><circle cx="554.9" cy="918.9" r="2.55"/><circle cx="552.9" cy="922.9" r="2.55"/><circle cx="548.0" cy="920.9" r="2.55"/><circle cx="546.0" cy="923.9" r="2.55"/><circle cx="563.9" cy="918.3" r="2.55"/><circle cx="569.5" cy="915.9" r="2.55"/><circle cx="531.0" cy="923.9" r="2.55"/><circle cx="524.0" cy="927.9" r="2.55"/><circle cx="527.0" cy="927.9" r="2.55"/><circle cx="536.0" cy="930.9" r="2.55"/><circle cx="539.0" cy="927.9" r="2.55"/><circle cx="543.0" cy="926.9" r="2.55"/><circle cx="571.9" cy="925.3" r="2.55"/><circle cx="574.9" cy="924.3" r="2.55"/><circle cx="542.0" cy="932.9" r="2.55"/><circle cx="545.0" cy="933.9" r="2.55"/><circle cx="548.0" cy="934.9" r="2.55"/><circle cx="550.9" cy="931.9" r="2.55"/><circle cx="553.9" cy="930.9" r="2.55"/><circle cx="555.9" cy="931.9" r="2.55"/><circle cx="559.9" cy="929.9" r="2.55"/><circle cx="561.9" cy="933.9" r="2.55"/><circle cx="559.9" cy="938.9" r="2.55"/><circle cx="554.9" cy="935.9" r="2.55"/><circle cx="551.9" cy="937.9" r="2.55"/><circle cx="550.9" cy="943.9" r="2.55"/><circle cx="547.0" cy="938.9" r="2.55"/><circle cx="541.0" cy="938.9" r="2.55"/><circle cx="533.0" cy="939.9" r="2.55"/><circle cx="574.3" cy="937.5" r="2.55"/><circle cx="584.9" cy="932.9" r="2.55"/><circle cx="587.9" cy="935.9" r="2.55"/><circle cx="592.9" cy="929.9" r="2.55"/><circle cx="593.9" cy="933.9" r="2.55"/><circle cx="548.0" cy="925.9" r="2.55"/><circle cx="551.9" cy="924.9" r="2.55"/><circle cx="553.9" cy="927.9" r="2.55"/><circle cx="540.0" cy="921.9" r="2.55"/><circle cx="550.0" cy="929.9" r="2.55"/><circle cx="546.0" cy="931.9" r="2.55"/><circle cx="556.9" cy="926.9" r="2.55"/><circle cx="557.9" cy="921.9" r="2.55"/><circle cx="543.0" cy="935.9" r="2.55"/><circle cx="549.0" cy="926.9" r="2.55"/><circle cx="552.9" cy="919.9" r="2.55"/></g>
<g stroke="#262626" stroke-width="1.9" fill="none" stroke-linecap="square">
<path d="M730.1 842.9V955.5H899.7"/>
<path stroke-width="1.5" d="M726.9 955.5H730.1M726.9 927.4H730.1M726.9 899.2H730.1M726.9 871.0H730.1M726.9 842.9H730.1M730.1 955.5V958.7M772.5 955.5V958.7M814.9 955.5V958.7M857.3 955.5V958.7M899.7 955.5V958.7"/>
</g>
<g font-family="Liberation Sans" font-weight="bold" font-size="9.6" fill="#3a3a3a">
<text transform="translate(725.6,958.3) scale(0.8,1)" text-anchor="end">0</text>
<text transform="translate(725.6,930.1) scale(0.8,1)" text-anchor="end">10</text>
<text transform="translate(725.6,902.0) scale(0.8,1)" text-anchor="end">20</text>
<text transform="translate(725.6,873.8) scale(0.8,1)" text-anchor="end">30</text>
<text transform="translate(725.6,845.7) scale(0.8,1)" text-anchor="end">40</text>
<text transform="translate(730.1,968.3) scale(0.8,1)" text-anchor="middle">0.00</text>
<text transform="translate(772.5,968.3) scale(0.8,1)" text-anchor="middle">0.02</text>
<text transform="translate(814.9,968.3) scale(0.8,1)" text-anchor="middle">0.04</text>
<text transform="translate(857.3,968.3) scale(0.8,1)" text-anchor="middle">0.06</text>
<text transform="translate(899.7,968.3) scale(0.8,1)" text-anchor="middle">0.08</text>
</g>
<text x="775.4" y="842.2" font-family="Liberation Sans" font-size="11.8" fill="#4a4a4a" textLength="91.9" lengthAdjust="spacingAndGlyphs">R = 0.414 <tspan font-style="italic">P</tspan> = 0.0004</text>
<text x="814.0" y="990.0" text-anchor="middle" font-family="Liberation Serif" font-weight="bold" font-size="17.6" fill="#000">D-Gluconic acid</text>
<text transform="translate(706.6,896.1) rotate(-90)" text-anchor="middle" font-family="Liberation Serif" font-weight="bold" font-size="15.8" fill="#000">2hBG</text>
<line x1="758.6" y1="919.3" x2="858.3" y2="885.7" stroke="#111" stroke-width="1.6"/>
<g fill="#000"><circle cx="859.5" cy="866.4" r="2.55"/><circle cx="767.6" cy="879.0" r="2.55"/><circle cx="780.5" cy="885.9" r="2.55"/><circle cx="796.9" cy="896.9" r="2.55"/><circle cx="751.6" cy="896.9" r="2.55"/><circle cx="756.0" cy="899.9" r="2.55"/><circle cx="759.0" cy="902.9" r="2.55"/><circle cx="763.0" cy="897.9" r="2.55"/><circle cx="765.0" cy="896.9" r="2.55"/><circle cx="760.0" cy="906.3" r="2.55"/><circle cx="779.9" cy="904.3" r="2.55"/><circle cx="741.0" cy="904.3" r="2.55"/><circle cx="746.0" cy="904.3" r="2.55"/><circle cx="750.0" cy="905.9" r="2.55"/><circle cx="775.9" cy="910.9" r="2.55"/><circle cx="777.5" cy="920.3" r="2.55"/><circle cx="765.0" cy="916.9" r="2.55"/><circle cx="765.0" cy="921.9" r="2.55"/><circle cx="765.0" cy="926.9" r="2.55"/><circle cx="766.0" cy="931.3" r="2.55"/><circle cx="772.9" cy="929.9" r="2.55"/><circle cx="777.9" cy="930.3" r="2.55"/><circle cx="790.3" cy="932.5" r="2.55"/><circle cx="798.5" cy="936.3" r="2.55"/><circle cx="736.0" cy="931.9" r="2.55"/><circle cx="740.0" cy="927.9" r="2.55"/><circle cx="739.0" cy="919.9" r="2.55"/><circle cx="738.0" cy="913.9" r="2.55"/><circle cx="742.0" cy="911.9" r="2.55"/><circle cx="744.0" cy="910.9" r="2.55"/><circle cx="748.0" cy="910.9" r="2.55"/><circle cx="750.0" cy="913.9" r="2.55"/><circle cx="746.0" cy="916.9" r="2.55"/><circle cx="742.0" cy="918.9" r="2.55"/><circle cx="744.0" cy="922.9" r="2.55"/><circle cx="748.0" cy="922.9" r="2.55"/><circle cx="752.0" cy="919.9" r="2.55"/><circle cx="754.0" cy="916.9" r="2.55"/><circle cx="757.0" cy="917.9" r="2.55"/><circle cx="759.0" cy="922.9" r="2.55"/><circle cx="757.0" cy="926.9" r="2.55"/><circle cx="753.0" cy="927.9" r="2.55"/><circle cx="750.0" cy="929.9" r="2.55"/><circle cx="747.0" cy="927.9" r="2.55"/><circle cx="744.0" cy="931.9" r="2.55"/><circle cx="741.0" cy="930.9" r="2.55"/><circle cx="746.0" cy="933.9" r="2.55"/><circle cx="750.0" cy="933.9" r="2.55"/><circle cx="754.0" cy="931.9" r="2.55"/><circle cx="757.0" cy="932.9" r="2.55"/><circle cx="761.0" cy="935.9" r="2.55"/><circle cx="744.0" cy="940.3" r="2.55"/><circle cx="759.0" cy="931.9" r="2.55"/><circle cx="742.0" cy="925.9" r="2.55"/><circle cx="752.0" cy="924.9" r="2.55"/><circle cx="762.0" cy="927.9" r="2.55"/><circle cx="740.0" cy="915.9" r="2.55"/><circle cx="743.0" cy="914.9" r="2.55"/><circle cx="746.0" cy="919.9" r="2.55"/><circle cx="749.0" cy="916.9" r="2.55"/><circle cx="751.0" cy="922.9" r="2.55"/><circle cx="754.0" cy="925.9" r="2.55"/><circle cx="740.0" cy="922.9" r="2.55"/><circle cx="745.0" cy="925.9" r="2.55"/><circle cx="748.0" cy="931.9" r="2.55"/><circle cx="752.0" cy="931.9" r="2.55"/><circle cx="755.0" cy="928.9" r="2.55"/><circle cx="743.0" cy="928.9" r="2.55"/><circle cx="739.0" cy="932.9" r="2.55"/><circle cx="747.0" cy="910.9" r="2.55"/><circle cx="750.0" cy="909.9" r="2.55"/><circle cx="742.0" cy="907.9" r="2.55"/><circle cx="762.0" cy="919.9" r="2.55"/><circle cx="761.0" cy="923.9" r="2.55"/><circle cx="758.0" cy="912.9" r="2.55"/><circle cx="755.0" cy="911.9" r="2.55"/></g>
<g stroke="#262626" stroke-width="1.9" fill="none" stroke-linecap="square">
<path d="M63.8 1022.6V1140.3H243.0"/>
<path stroke-width="1.5" d="M60.6 1140.3H63.8M60.6 1110.9H63.8M60.6 1081.5H63.8M60.6 1052.0H63.8M60.6 1022.6H63.8M63.8 1140.3V1143.5M123.5 1140.3V1143.5M183.3 1140.3V1143.5M243.0 1140.3V1143.5"/>
</g>
<g font-family="Liberation Sans" font-weight="bold" font-size="9.6" fill="#3a3a3a">
<text transform="translate(59.3,1143.1) scale(0.8,1)" text-anchor="end">0</text>
<text transform="translate(59.3,1113.7) scale(0.8,1)" text-anchor="end">10</text>
<text transform="translate(59.3,1084.2) scale(0.8,1)" text-anchor="end">20</text>
<text transform="translate(59.3,1054.8) scale(0.8,1)" text-anchor="end">30</text>
<text transform="translate(59.3,1025.4) scale(0.8,1)" text-anchor="end">40</text>
<text transform="translate(63.8,1153.1) scale(0.8,1)" text-anchor="middle">0.0</text>
<text transform="translate(123.5,1153.1) scale(0.8,1)" text-anchor="middle">0.1</text>
<text transform="translate(183.3,1153.1) scale(0.8,1)" text-anchor="middle">0.2</text>
<text transform="translate(243.0,1153.1) scale(0.8,1)" text-anchor="middle">0.3</text>
</g>
<text x="113.6" y="1021.8" font-family="Liberation Sans" font-size="11.8" fill="#4a4a4a" textLength="92.5" lengthAdjust="spacingAndGlyphs">R = 0.276 <tspan font-style="italic">P</tspan> = 0.021</text>
<text x="146.7" y="1172.4" text-anchor="middle" font-family="Liberation Serif" font-weight="bold" font-size="17.6" fill="#000">Indole</text>
<text transform="translate(38.5,1090.7) rotate(-90)" text-anchor="middle" font-family="Liberation Serif" font-weight="bold" font-size="15.8" fill="#000">2hBG</text>
<line x1="98.8" y1="1108.8" x2="227.4" y2="1089.6" stroke="#111" stroke-width="1.6"/>
<g fill="#000"><circle cx="222.1" cy="1047.3" r="2.55"/><circle cx="188.3" cy="1060.4" r="2.55"/><circle cx="139.4" cy="1067.7" r="2.55"/><circle cx="130.0" cy="1078.9" r="2.55"/><circle cx="136.2" cy="1083.1" r="2.55"/><circle cx="143.5" cy="1085.8" r="2.55"/><circle cx="116.4" cy="1085.2" r="2.55"/><circle cx="110.6" cy="1087.3" r="2.55"/><circle cx="124.8" cy="1087.9" r="2.55"/><circle cx="167.5" cy="1080.2" r="2.55"/><circle cx="170.6" cy="1083.1" r="2.55"/><circle cx="163.3" cy="1089.3" r="2.55"/><circle cx="168.5" cy="1093.5" r="2.55"/><circle cx="205.6" cy="1086.8" r="2.55"/><circle cx="220.6" cy="1079.6" r="2.55"/><circle cx="107.1" cy="1095.2" r="2.55"/><circle cx="108.1" cy="1098.3" r="2.55"/><circle cx="109.1" cy="1101.4" r="2.55"/><circle cx="118.5" cy="1094.1" r="2.55"/><circle cx="120.6" cy="1097.3" r="2.55"/><circle cx="122.7" cy="1095.2" r="2.55"/><circle cx="126.8" cy="1096.2" r="2.55"/><circle cx="117.5" cy="1098.3" r="2.55"/><circle cx="124.8" cy="1100.4" r="2.55"/><circle cx="128.9" cy="1101.4" r="2.55"/><circle cx="140.4" cy="1094.8" r="2.55"/><circle cx="140.4" cy="1100.4" r="2.55"/><circle cx="135.2" cy="1103.5" r="2.55"/><circle cx="147.7" cy="1099.8" r="2.55"/><circle cx="112.3" cy="1107.7" r="2.55"/><circle cx="118.5" cy="1105.6" r="2.55"/><circle cx="108.1" cy="1112.3" r="2.55"/><circle cx="112.3" cy="1113.9" r="2.55"/><circle cx="112.3" cy="1118.1" r="2.55"/><circle cx="118.5" cy="1113.9" r="2.55"/><circle cx="98.7" cy="1116.4" r="2.55"/><circle cx="128.9" cy="1109.8" r="2.55"/><circle cx="130.0" cy="1112.9" r="2.55"/><circle cx="135.2" cy="1110.8" r="2.55"/><circle cx="138.3" cy="1113.9" r="2.55"/><circle cx="141.4" cy="1110.8" r="2.55"/><circle cx="142.5" cy="1116.0" r="2.55"/><circle cx="139.4" cy="1118.1" r="2.55"/><circle cx="136.2" cy="1119.1" r="2.55"/><circle cx="134.1" cy="1120.2" r="2.55"/><circle cx="144.6" cy="1116.0" r="2.55"/><circle cx="153.9" cy="1111.9" r="2.55"/><circle cx="155.0" cy="1115.0" r="2.55"/><circle cx="156.0" cy="1107.7" r="2.55"/><circle cx="158.1" cy="1110.8" r="2.55"/><circle cx="163.3" cy="1106.0" r="2.55"/><circle cx="178.9" cy="1105.6" r="2.55"/><circle cx="178.9" cy="1113.9" r="2.55"/><circle cx="191.4" cy="1113.3" r="2.55"/><circle cx="176.2" cy="1119.8" r="2.55"/><circle cx="126.8" cy="1124.8" r="2.55"/><circle cx="227.3" cy="1120.2" r="2.55"/><circle cx="143.5" cy="1086.8" r="2.55"/><circle cx="127.9" cy="1103.5" r="2.55"/></g>
<g stroke="#262626" stroke-width="1.9" fill="none" stroke-linecap="square">
<path d="M293.7 1025.1V1141.6H471.0"/>
<path stroke-width="1.5" d="M290.5 1141.6H293.7M290.5 1112.5H293.7M290.5 1083.3H293.7M290.5 1054.2H293.7M290.5 1025.1H293.7M293.7 1141.6V1144.8M352.8 1141.6V1144.8M411.9 1141.6V1144.8M471.0 1141.6V1144.8"/>
</g>
<g font-family="Liberation Sans" font-weight="bold" font-size="9.6" fill="#3a3a3a">
<text transform="translate(289.2,1144.4) scale(0.8,1)" text-anchor="end">0</text>
<text transform="translate(289.2,1115.3) scale(0.8,1)" text-anchor="end">5</text>
<text transform="translate(289.2,1086.1) scale(0.8,1)" text-anchor="end">10</text>
<text transform="translate(289.2,1057.0) scale(0.8,1)" text-anchor="end">15</text>
<text transform="translate(289.2,1027.9) scale(0.8,1)" text-anchor="end">20</text>
<text transform="translate(293.7,1154.4) scale(0.8,1)" text-anchor="middle">0.0</text>
<text transform="translate(352.8,1154.4) scale(0.8,1)" text-anchor="middle">0.5</text>
<text transform="translate(411.9,1154.4) scale(0.8,1)" text-anchor="middle">1.0</text>
<text transform="translate(471.0,1154.4) scale(0.8,1)" text-anchor="middle">1.5</text>
</g>
<text x="341.1" y="1023.6" font-family="Liberation Sans" font-size="11.8" fill="#4a4a4a" textLength="105.0" lengthAdjust="spacingAndGlyphs">R = 0.429 <tspan font-style="italic">P</tspan> = 0.0002</text>
<text x="385.9" y="1173.0" text-anchor="middle" font-family="Liberation Serif" font-weight="bold" font-size="17.6" fill="#000">D-Glucose</text>
<text transform="translate(273.2,1085.1) rotate(-90)" text-anchor="middle" font-family="Liberation Serif" font-weight="bold" font-size="15.8" fill="#000">HbA1c</text>
<line x1="310.3" y1="1099.0" x2="423.7" y2="1070.0" stroke="#111" stroke-width="1.6"/>
<g fill="#000"><circle cx="388.1" cy="1042.6" r="2.55"/><circle cx="400.6" cy="1053.0" r="2.55"/><circle cx="423.5" cy="1064.9" r="2.55"/><circle cx="333.5" cy="1058.0" r="2.55"/><circle cx="329.8" cy="1064.9" r="2.55"/><circle cx="335.4" cy="1065.5" r="2.55"/><circle cx="310.0" cy="1079.5" r="2.55"/><circle cx="324.5" cy="1076.3" r="2.55"/><circle cx="325.6" cy="1080.5" r="2.55"/><circle cx="332.9" cy="1077.4" r="2.55"/><circle cx="338.1" cy="1079.5" r="2.55"/><circle cx="342.3" cy="1081.6" r="2.55"/><circle cx="345.4" cy="1074.3" r="2.55"/><circle cx="348.5" cy="1081.6" r="2.55"/><circle cx="351.6" cy="1077.4" r="2.55"/><circle cx="362.1" cy="1077.4" r="2.55"/><circle cx="369.4" cy="1076.8" r="2.55"/><circle cx="377.7" cy="1071.8" r="2.55"/><circle cx="388.1" cy="1077.4" r="2.55"/><circle cx="393.3" cy="1080.5" r="2.55"/><circle cx="395.4" cy="1081.6" r="2.55"/><circle cx="399.6" cy="1074.3" r="2.55"/><circle cx="402.7" cy="1077.4" r="2.55"/><circle cx="373.5" cy="1082.6" r="2.55"/><circle cx="331.8" cy="1084.7" r="2.55"/><circle cx="333.9" cy="1086.8" r="2.55"/><circle cx="338.1" cy="1088.8" r="2.55"/><circle cx="341.2" cy="1090.9" r="2.55"/><circle cx="329.8" cy="1092.0" r="2.55"/><circle cx="323.5" cy="1093.0" r="2.55"/><circle cx="382.9" cy="1090.9" r="2.55"/><circle cx="355.8" cy="1092.0" r="2.55"/><circle cx="358.9" cy="1092.0" r="2.55"/><circle cx="363.1" cy="1092.0" r="2.55"/><circle cx="356.8" cy="1098.2" r="2.55"/><circle cx="313.1" cy="1098.2" r="2.55"/><circle cx="316.2" cy="1099.3" r="2.55"/><circle cx="319.3" cy="1103.4" r="2.55"/><circle cx="321.4" cy="1097.2" r="2.55"/><circle cx="325.6" cy="1099.3" r="2.55"/><circle cx="327.7" cy="1096.1" r="2.55"/><circle cx="330.8" cy="1096.1" r="2.55"/><circle cx="335.0" cy="1097.2" r="2.55"/><circle cx="336.0" cy="1100.3" r="2.55"/><circle cx="332.9" cy="1102.4" r="2.55"/><circle cx="329.8" cy="1103.4" r="2.55"/><circle cx="326.6" cy="1101.4" r="2.55"/><circle cx="338.1" cy="1103.4" r="2.55"/><circle cx="341.2" cy="1103.4" r="2.55"/><circle cx="345.4" cy="1103.4" r="2.55"/><circle cx="347.5" cy="1103.4" r="2.55"/><circle cx="338.1" cy="1107.6" r="2.55"/><circle cx="342.3" cy="1105.5" r="2.55"/><circle cx="350.6" cy="1108.0" r="2.55"/><circle cx="360.0" cy="1104.5" r="2.55"/><circle cx="377.3" cy="1103.4" r="2.55"/><circle cx="382.9" cy="1102.4" r="2.55"/><circle cx="333.9" cy="1093.0" r="2.55"/><circle cx="339.1" cy="1094.1" r="2.55"/><circle cx="337.1" cy="1096.1" r="2.55"/></g>
<g stroke="#262626" stroke-width="1.9" fill="none" stroke-linecap="square">
<path d="M514.9 1028.2V1140.9H683.8"/>
<path stroke-width="1.5" d="M511.7 1140.9H514.9M511.7 1112.7H514.9M511.7 1084.6H514.9M511.7 1056.4H514.9M511.7 1028.2H514.9M514.9 1140.9V1144.1M557.1 1140.9V1144.1M599.3 1140.9V1144.1M641.6 1140.9V1144.1M683.8 1140.9V1144.1"/>
</g>
<g font-family="Liberation Sans" font-weight="bold" font-size="9.6" fill="#3a3a3a">
<text transform="translate(510.4,1143.7) scale(0.8,1)" text-anchor="end">0</text>
<text transform="translate(510.4,1115.5) scale(0.8,1)" text-anchor="end">5</text>
<text transform="translate(510.4,1087.4) scale(0.8,1)" text-anchor="end">10</text>
<text transform="translate(510.4,1059.2) scale(0.8,1)" text-anchor="end">15</text>
<text transform="translate(510.4,1031.0) scale(0.8,1)" text-anchor="end">20</text>
<text transform="translate(514.9,1153.7) scale(0.8,1)" text-anchor="middle">0.0</text>
<text transform="translate(557.1,1153.7) scale(0.8,1)" text-anchor="middle">0.2</text>
<text transform="translate(599.3,1153.7) scale(0.8,1)" text-anchor="middle">0.4</text>
<text transform="translate(641.6,1153.7) scale(0.8,1)" text-anchor="middle">0.6</text>
<text transform="translate(683.8,1153.7) scale(0.8,1)" text-anchor="middle">0.8</text>
</g>
<text x="559.9" y="1026.4" font-family="Liberation Sans" font-size="11.8" fill="#4a4a4a" textLength="95.7" lengthAdjust="spacingAndGlyphs">R = 0.294 <tspan font-style="italic">P</tspan> = 0.0134</text>
<text x="611.8" y="1172.0" text-anchor="middle" font-family="Liberation Serif" font-weight="bold" font-size="17.6" fill="#000">L-Phenylalanine</text>
<text transform="translate(490.7,1084.3) rotate(-90)" text-anchor="middle" font-family="Liberation Serif" font-weight="bold" font-size="15.8" fill="#000">HbA1c</text>
<line x1="550.3" y1="1097.2" x2="644.9" y2="1080.6" stroke="#111" stroke-width="1.6"/>
<g fill="#000"><circle cx="631.6" cy="1045.4" r="2.55"/><circle cx="590.8" cy="1055.4" r="2.55"/><circle cx="576.8" cy="1060.2" r="2.55"/><circle cx="596.6" cy="1066.9" r="2.55"/><circle cx="603.3" cy="1066.9" r="2.55"/><circle cx="621.2" cy="1066.9" r="2.55"/><circle cx="623.7" cy="1073.1" r="2.55"/><circle cx="619.5" cy="1076.3" r="2.55"/><circle cx="631.0" cy="1078.3" r="2.55"/><circle cx="560.1" cy="1077.3" r="2.55"/><circle cx="563.3" cy="1079.4" r="2.55"/><circle cx="569.5" cy="1080.4" r="2.55"/><circle cx="573.7" cy="1078.3" r="2.55"/><circle cx="577.8" cy="1082.5" r="2.55"/><circle cx="590.4" cy="1082.1" r="2.55"/><circle cx="597.6" cy="1078.3" r="2.55"/><circle cx="604.9" cy="1075.2" r="2.55"/><circle cx="608.1" cy="1080.4" r="2.55"/><circle cx="609.1" cy="1083.6" r="2.55"/><circle cx="615.4" cy="1083.6" r="2.55"/><circle cx="645.6" cy="1082.9" r="2.55"/><circle cx="550.3" cy="1087.7" r="2.55"/><circle cx="572.6" cy="1088.8" r="2.55"/><circle cx="570.6" cy="1092.9" r="2.55"/><circle cx="575.8" cy="1091.9" r="2.55"/><circle cx="592.4" cy="1092.9" r="2.55"/><circle cx="598.7" cy="1091.9" r="2.55"/><circle cx="607.0" cy="1094.0" r="2.55"/><circle cx="622.2" cy="1091.5" r="2.55"/><circle cx="559.1" cy="1097.5" r="2.55"/><circle cx="562.2" cy="1097.1" r="2.55"/><circle cx="565.3" cy="1096.1" r="2.55"/><circle cx="563.3" cy="1100.2" r="2.55"/><circle cx="566.4" cy="1101.3" r="2.55"/><circle cx="569.5" cy="1098.1" r="2.55"/><circle cx="571.6" cy="1100.2" r="2.55"/><circle cx="575.8" cy="1098.1" r="2.55"/><circle cx="577.8" cy="1097.1" r="2.55"/><circle cx="586.2" cy="1097.5" r="2.55"/><circle cx="585.1" cy="1100.2" r="2.55"/><circle cx="579.9" cy="1102.3" r="2.55"/><circle cx="577.8" cy="1104.4" r="2.55"/><circle cx="573.7" cy="1102.3" r="2.55"/><circle cx="568.5" cy="1103.4" r="2.55"/><circle cx="569.5" cy="1107.5" r="2.55"/><circle cx="582.0" cy="1108.6" r="2.55"/><circle cx="591.4" cy="1102.3" r="2.55"/><circle cx="594.5" cy="1103.4" r="2.55"/><circle cx="596.6" cy="1098.1" r="2.55"/><circle cx="600.8" cy="1097.1" r="2.55"/><circle cx="602.9" cy="1099.2" r="2.55"/><circle cx="603.3" cy="1104.4" r="2.55"/><circle cx="615.4" cy="1103.4" r="2.55"/><circle cx="616.4" cy="1105.4" r="2.55"/><circle cx="633.1" cy="1098.1" r="2.55"/><circle cx="635.2" cy="1103.4" r="2.55"/><circle cx="552.8" cy="1104.4" r="2.55"/><circle cx="560.1" cy="1100.2" r="2.55"/><circle cx="567.4" cy="1100.2" r="2.55"/></g>
<g stroke="#262626" stroke-width="1.9" fill="none" stroke-linecap="square">
<path d="M732.7 1025.7V1140.1H907.4"/>
<path stroke-width="1.5" d="M729.5 1140.1H732.7M729.5 1102.0H732.7M729.5 1063.8H732.7M729.5 1025.7H732.7M732.7 1140.1V1143.3M790.9 1140.1V1143.3M849.2 1140.1V1143.3M907.4 1140.1V1143.3"/>
</g>
<g font-family="Liberation Sans" font-weight="bold" font-size="9.6" fill="#3a3a3a">
<text transform="translate(728.2,1142.9) scale(0.8,1)" text-anchor="end">0</text>
<text transform="translate(728.2,1104.8) scale(0.8,1)" text-anchor="end">100</text>
<text transform="translate(728.2,1066.6) scale(0.8,1)" text-anchor="end">200</text>
<text transform="translate(728.2,1028.5) scale(0.8,1)" text-anchor="end">300</text>
<text transform="translate(732.7,1152.9) scale(0.8,1)" text-anchor="middle">0.0</text>
<text transform="translate(790.9,1152.9) scale(0.8,1)" text-anchor="middle">0.5</text>
<text transform="translate(849.2,1152.9) scale(0.8,1)" text-anchor="middle">1.0</text>
<text transform="translate(907.4,1152.9) scale(0.8,1)" text-anchor="middle">1.5</text>
</g>
<text x="780.6" y="1023.6" font-family="Liberation Sans" font-size="11.8" fill="#4a4a4a" textLength="91.9" lengthAdjust="spacingAndGlyphs">R = 0.340 <tspan font-style="italic">P</tspan> = 0.004</text>
<text x="827.9" y="1173.0" text-anchor="middle" font-family="Liberation Serif" font-weight="bold" font-size="17.6" fill="#000">D-Glucose</text>
<text transform="translate(709.2,1082.0) rotate(-90)" text-anchor="middle" font-family="Liberation Serif" font-weight="bold" font-size="15.8" fill="#000">CRP</text>
<line x1="767.7" y1="1134.4" x2="860.9" y2="1107.3" stroke="#111" stroke-width="1.6"/>
<g fill="#000"><circle cx="774.4" cy="1042.6" r="2.55"/><circle cx="795.2" cy="1067.0" r="2.55"/><circle cx="815.6" cy="1069.5" r="2.55"/><circle cx="820.4" cy="1082.0" r="2.55"/><circle cx="836.9" cy="1087.4" r="2.55"/><circle cx="860.4" cy="1092.4" r="2.55"/><circle cx="770.2" cy="1095.5" r="2.55"/><circle cx="772.3" cy="1103.9" r="2.55"/><circle cx="783.3" cy="1111.1" r="2.55"/><circle cx="768.8" cy="1117.4" r="2.55"/><circle cx="764.6" cy="1120.7" r="2.55"/><circle cx="765.6" cy="1124.9" r="2.55"/><circle cx="807.3" cy="1118.0" r="2.55"/><circle cx="832.7" cy="1116.4" r="2.55"/><circle cx="838.1" cy="1117.0" r="2.55"/><circle cx="826.1" cy="1123.6" r="2.55"/><circle cx="820.9" cy="1131.6" r="2.55"/><circle cx="777.1" cy="1128.9" r="2.55"/><circle cx="795.8" cy="1128.4" r="2.55"/><circle cx="790.6" cy="1135.1" r="2.55"/><circle cx="801.1" cy="1134.7" r="2.55"/><circle cx="799.0" cy="1137.8" r="2.55"/><circle cx="797.9" cy="1139.9" r="2.55"/><circle cx="749.0" cy="1139.3" r="2.55"/><circle cx="753.1" cy="1139.3" r="2.55"/><circle cx="757.3" cy="1137.8" r="2.55"/><circle cx="760.4" cy="1136.4" r="2.55"/><circle cx="762.5" cy="1136.8" r="2.55"/><circle cx="765.6" cy="1137.2" r="2.55"/><circle cx="768.8" cy="1138.4" r="2.55"/><circle cx="771.9" cy="1139.3" r="2.55"/><circle cx="775.0" cy="1139.9" r="2.55"/><circle cx="778.1" cy="1139.3" r="2.55"/><circle cx="781.3" cy="1138.4" r="2.55"/><circle cx="784.4" cy="1138.9" r="2.55"/><circle cx="787.5" cy="1139.9" r="2.55"/><circle cx="811.5" cy="1139.9" r="2.55"/><circle cx="814.6" cy="1138.9" r="2.55"/><circle cx="830.2" cy="1139.9" r="2.55"/><circle cx="840.2" cy="1138.4" r="2.55"/><circle cx="758.3" cy="1139.9" r="2.55"/><circle cx="766.7" cy="1139.9" r="2.55"/><circle cx="772.9" cy="1138.4" r="2.55"/><circle cx="761.5" cy="1139.3" r="2.55"/><circle cx="780.2" cy="1139.9" r="2.55"/></g>
<g stroke="#262626" stroke-width="1.9" fill="none" stroke-linecap="square">
<path d="M64.3 1207.1V1324.9H253.3"/>
<path stroke-width="1.5" d="M61.1 1324.9H64.3M61.1 1285.6H64.3M61.1 1246.4H64.3M61.1 1207.1H64.3M64.3 1324.9V1328.1M127.3 1324.9V1328.1M190.3 1324.9V1328.1M253.3 1324.9V1328.1"/>
</g>
<g font-family="Liberation Sans" font-weight="bold" font-size="9.6" fill="#3a3a3a">
<text transform="translate(59.8,1327.7) scale(0.8,1)" text-anchor="end">0</text>
<text transform="translate(59.8,1288.4) scale(0.8,1)" text-anchor="end">100</text>
<text transform="translate(59.8,1249.2) scale(0.8,1)" text-anchor="end">200</text>
<text transform="translate(59.8,1209.9) scale(0.8,1)" text-anchor="end">300</text>
<text transform="translate(64.3,1337.7) scale(0.8,1)" text-anchor="middle">0.0</text>
<text transform="translate(127.3,1337.7) scale(0.8,1)" text-anchor="middle">0.5</text>
<text transform="translate(190.3,1337.7) scale(0.8,1)" text-anchor="middle">1.0</text>
<text transform="translate(253.3,1337.7) scale(0.8,1)" text-anchor="middle">1.5</text>
</g>
<text x="105.0" y="1206.3" font-family="Liberation Sans" font-size="11.8" fill="#4a4a4a" textLength="112.2" lengthAdjust="spacingAndGlyphs">R =  0.4367 <tspan font-style="italic">P</tspan> = 0.0002</text>
<text x="150.8" y="1361.6" text-anchor="middle" font-family="Liberation Serif" font-weight="bold" font-size="17.6" fill="#000">L-Leucine</text>
<text transform="translate(36.7,1260.0) rotate(-90)" text-anchor="middle" font-family="Liberation Serif" font-weight="bold" font-size="15.8" fill="#000">CRP</text>
<line x1="80.6" y1="1320.5" x2="244.3" y2="1248.3" stroke="#111" stroke-width="1.6"/>
<g fill="#000"><circle cx="156.7" cy="1224.8" r="2.55"/><circle cx="114.2" cy="1239.2" r="2.55"/><circle cx="151.6" cy="1253.1" r="2.55"/><circle cx="150.0" cy="1255.8" r="2.55"/><circle cx="148.5" cy="1258.0" r="2.55"/><circle cx="136.8" cy="1256.4" r="2.55"/><circle cx="125.7" cy="1260.2" r="2.55"/><circle cx="139.0" cy="1263.1" r="2.55"/><circle cx="146.7" cy="1262.6" r="2.55"/><circle cx="154.5" cy="1265.3" r="2.55"/><circle cx="130.1" cy="1268.6" r="2.55"/><circle cx="129.0" cy="1275.2" r="2.55"/><circle cx="133.5" cy="1273.0" r="2.55"/><circle cx="136.8" cy="1274.1" r="2.55"/><circle cx="140.1" cy="1276.3" r="2.55"/><circle cx="145.6" cy="1278.1" r="2.55"/><circle cx="159.6" cy="1273.7" r="2.55"/><circle cx="165.5" cy="1271.3" r="2.55"/><circle cx="107.3" cy="1278.6" r="2.55"/><circle cx="114.6" cy="1280.3" r="2.55"/><circle cx="145.6" cy="1285.2" r="2.55"/><circle cx="158.5" cy="1284.8" r="2.55"/><circle cx="171.1" cy="1281.4" r="2.55"/><circle cx="129.0" cy="1287.4" r="2.55"/><circle cx="153.4" cy="1295.2" r="2.55"/><circle cx="121.9" cy="1301.3" r="2.55"/><circle cx="127.9" cy="1301.1" r="2.55"/><circle cx="97.6" cy="1304.7" r="2.55"/><circle cx="135.2" cy="1306.9" r="2.55"/><circle cx="153.4" cy="1308.4" r="2.55"/><circle cx="102.5" cy="1313.3" r="2.55"/><circle cx="85.4" cy="1314.4" r="2.55"/><circle cx="144.5" cy="1317.3" r="2.55"/><circle cx="147.8" cy="1315.7" r="2.55"/><circle cx="89.2" cy="1319.5" r="2.55"/><circle cx="82.6" cy="1321.7" r="2.55"/><circle cx="80.3" cy="1324.4" r="2.55"/><circle cx="83.7" cy="1325.0" r="2.55"/><circle cx="88.1" cy="1323.9" r="2.55"/><circle cx="94.7" cy="1323.9" r="2.55"/><circle cx="98.0" cy="1322.8" r="2.55"/><circle cx="102.5" cy="1324.4" r="2.55"/><circle cx="111.3" cy="1324.4" r="2.55"/><circle cx="114.6" cy="1325.0" r="2.55"/><circle cx="119.1" cy="1323.9" r="2.55"/><circle cx="122.4" cy="1322.8" r="2.55"/><circle cx="131.2" cy="1324.4" r="2.55"/><circle cx="136.8" cy="1323.5" r="2.55"/><circle cx="141.2" cy="1324.4" r="2.55"/><circle cx="143.4" cy="1325.0" r="2.55"/><circle cx="243.7" cy="1323.9" r="2.55"/><circle cx="90.3" cy="1322.8" r="2.55"/><circle cx="106.9" cy="1325.0" r="2.55"/><circle cx="116.9" cy="1325.0" r="2.55"/></g>
<g stroke="#262626" stroke-width="1.9" fill="none" stroke-linecap="square">
<path d="M299.0 1207.1V1323.9H473.0"/>
<path stroke-width="1.5" d="M295.8 1323.9H299.0M295.8 1285.0H299.0M295.8 1246.0H299.0M295.8 1207.1H299.0M299.0 1323.9V1327.1M342.5 1323.9V1327.1M386.0 1323.9V1327.1M429.5 1323.9V1327.1M473.0 1323.9V1327.1"/>
</g>
<g font-family="Liberation Sans" font-weight="bold" font-size="9.6" fill="#3a3a3a">
<text transform="translate(294.5,1326.7) scale(0.8,1)" text-anchor="end">0</text>
<text transform="translate(294.5,1287.8) scale(0.8,1)" text-anchor="end">100</text>
<text transform="translate(294.5,1248.8) scale(0.8,1)" text-anchor="end">200</text>
<text transform="translate(294.5,1209.9) scale(0.8,1)" text-anchor="end">300</text>
<text transform="translate(299.0,1336.7) scale(0.8,1)" text-anchor="middle">0.0</text>
<text transform="translate(342.5,1336.7) scale(0.8,1)" text-anchor="middle">0.1</text>
<text transform="translate(386.0,1336.7) scale(0.8,1)" text-anchor="middle">0.2</text>
<text transform="translate(429.5,1336.7) scale(0.8,1)" text-anchor="middle">0.3</text>
<text transform="translate(473.0,1336.7) scale(0.8,1)" text-anchor="middle">0.4</text>
</g>
<text x="348.0" y="1205.5" font-family="Liberation Sans" font-size="11.8" fill="#4a4a4a" textLength="92.8" lengthAdjust="spacingAndGlyphs">R = 0.245 <tspan font-style="italic">P</tspan> = 0.041</text>
<text x="382.8" y="1361.6" text-anchor="middle" font-family="Liberation Serif" font-weight="bold" font-size="17.6" fill="#000">L-Proline</text>
<text transform="translate(274.8,1260.0) rotate(-90)" text-anchor="middle" font-family="Liberation Serif" font-weight="bold" font-size="15.8" fill="#000">CRP</text>
<line x1="306.7" y1="1317.9" x2="440.8" y2="1290.9" stroke="#111" stroke-width="1.6"/>
<g fill="#000"><circle cx="314.8" cy="1224.4" r="2.55"/><circle cx="326.5" cy="1249.1" r="2.55"/><circle cx="366.5" cy="1251.8" r="2.55"/><circle cx="390.5" cy="1264.4" r="2.55"/><circle cx="356.4" cy="1270.0" r="2.55"/><circle cx="379.3" cy="1275.1" r="2.55"/><circle cx="317.0" cy="1277.8" r="2.55"/><circle cx="327.5" cy="1286.3" r="2.55"/><circle cx="333.6" cy="1293.8" r="2.55"/><circle cx="315.4" cy="1299.9" r="2.55"/><circle cx="319.4" cy="1300.5" r="2.55"/><circle cx="321.5" cy="1299.5" r="2.55"/><circle cx="317.4" cy="1302.5" r="2.55"/><circle cx="431.5" cy="1306.0" r="2.55"/><circle cx="440.8" cy="1299.5" r="2.55"/><circle cx="355.6" cy="1306.6" r="2.55"/><circle cx="358.0" cy="1311.7" r="2.55"/><circle cx="370.2" cy="1307.6" r="2.55"/><circle cx="316.4" cy="1312.1" r="2.55"/><circle cx="321.5" cy="1312.1" r="2.55"/><circle cx="340.7" cy="1311.2" r="2.55"/><circle cx="330.6" cy="1314.7" r="2.55"/><circle cx="311.3" cy="1317.7" r="2.55"/><circle cx="306.2" cy="1321.8" r="2.55"/><circle cx="309.3" cy="1321.8" r="2.55"/><circle cx="313.3" cy="1321.4" r="2.55"/><circle cx="316.4" cy="1321.8" r="2.55"/><circle cx="319.4" cy="1321.4" r="2.55"/><circle cx="323.5" cy="1321.8" r="2.55"/><circle cx="327.5" cy="1321.4" r="2.55"/><circle cx="331.6" cy="1321.8" r="2.55"/><circle cx="334.6" cy="1321.4" r="2.55"/><circle cx="339.7" cy="1319.8" r="2.55"/><circle cx="341.8" cy="1321.8" r="2.55"/><circle cx="345.8" cy="1322.8" r="2.55"/><circle cx="357.0" cy="1317.7" r="2.55"/><circle cx="357.0" cy="1321.8" r="2.55"/><circle cx="369.2" cy="1322.8" r="2.55"/><circle cx="376.9" cy="1321.8" r="2.55"/><circle cx="312.3" cy="1319.8" r="2.55"/><circle cx="324.5" cy="1319.8" r="2.55"/><circle cx="337.7" cy="1321.8" r="2.55"/><circle cx="342.8" cy="1317.7" r="2.55"/></g>
<g stroke="#262626" stroke-width="1.9" fill="none" stroke-linecap="square">
<path d="M516.4 1197.7V1323.2H694.3"/>
<path stroke-width="1.5" d="M513.2 1323.2H516.4M513.2 1281.4H516.4M513.2 1239.5H516.4M513.2 1197.7H516.4M516.4 1323.2V1326.4M562.6 1323.2V1326.4M608.8 1323.2V1326.4M655.0 1323.2V1326.4"/>
</g>
<g font-family="Liberation Sans" font-weight="bold" font-size="9.6" fill="#3a3a3a">
<text transform="translate(511.9,1326.0) scale(0.8,1)" text-anchor="end">0</text>
<text transform="translate(511.9,1284.2) scale(0.8,1)" text-anchor="end">00</text>
<text transform="translate(511.9,1242.3) scale(0.8,1)" text-anchor="end">00</text>
<text transform="translate(511.9,1200.5) scale(0.8,1)" text-anchor="end">00</text>
<text transform="translate(516.4,1336.0) scale(0.8,1)" text-anchor="middle">0.00</text>
<text transform="translate(562.6,1336.0) scale(0.8,1)" text-anchor="middle">0.02</text>
<text transform="translate(608.8,1336.0) scale(0.8,1)" text-anchor="middle">0.04</text>
<text transform="translate(655.0,1336.0) scale(0.8,1)" text-anchor="middle">0.06</text>
</g>
<text x="568.0" y="1196.2" font-family="Liberation Sans" font-size="11.8" fill="#4a4a4a" textLength="100.5" lengthAdjust="spacingAndGlyphs">R = 0.291 <tspan font-style="italic">P</tspan> = 0.015</text>
<text x="609.8" y="1361.7" text-anchor="middle" font-family="Liberation Serif" font-weight="bold" font-size="17.6" fill="#000">D-Gluconic acid</text>
<text transform="translate(491.0,1259.2) rotate(-90)" text-anchor="middle" font-family="Liberation Serif" font-weight="bold" font-size="15.8" fill="#000">CRP</text>
<line x1="525.4" y1="1318.1" x2="658.2" y2="1275.5" stroke="#111" stroke-width="1.6"/>
<g fill="#000"><circle cx="529.9" cy="1216.0" r="2.55"/><circle cx="659.5" cy="1242.7" r="2.55"/><circle cx="543.4" cy="1245.6" r="2.55"/><circle cx="545.1" cy="1258.8" r="2.55"/><circle cx="567.0" cy="1265.0" r="2.55"/><circle cx="528.8" cy="1270.2" r="2.55"/><circle cx="535.5" cy="1273.8" r="2.55"/><circle cx="526.3" cy="1282.7" r="2.55"/><circle cx="538.2" cy="1291.1" r="2.55"/><circle cx="539.3" cy="1298.4" r="2.55"/><circle cx="539.3" cy="1301.5" r="2.55"/><circle cx="552.8" cy="1298.4" r="2.55"/><circle cx="557.6" cy="1297.3" r="2.55"/><circle cx="544.5" cy="1305.6" r="2.55"/><circle cx="571.1" cy="1304.6" r="2.55"/><circle cx="589.9" cy="1297.3" r="2.55"/><circle cx="582.4" cy="1310.9" r="2.55"/><circle cx="563.8" cy="1313.4" r="2.55"/><circle cx="526.8" cy="1309.8" r="2.55"/><circle cx="530.9" cy="1310.9" r="2.55"/><circle cx="538.2" cy="1310.4" r="2.55"/><circle cx="524.7" cy="1316.7" r="2.55"/><circle cx="523.6" cy="1321.3" r="2.55"/><circle cx="527.8" cy="1321.7" r="2.55"/><circle cx="532.0" cy="1321.3" r="2.55"/><circle cx="535.1" cy="1320.2" r="2.55"/><circle cx="540.3" cy="1317.1" r="2.55"/><circle cx="541.3" cy="1321.3" r="2.55"/><circle cx="546.5" cy="1320.2" r="2.55"/><circle cx="549.7" cy="1318.2" r="2.55"/><circle cx="553.8" cy="1318.2" r="2.55"/><circle cx="552.8" cy="1321.7" r="2.55"/><circle cx="555.9" cy="1321.7" r="2.55"/><circle cx="568.4" cy="1321.3" r="2.55"/><circle cx="591.4" cy="1322.3" r="2.55"/><circle cx="522.6" cy="1321.7" r="2.55"/><circle cx="537.2" cy="1321.7" r="2.55"/><circle cx="544.5" cy="1321.7" r="2.55"/><circle cx="548.6" cy="1321.7" r="2.55"/></g>
<g stroke="#262626" stroke-width="1.9" fill="none" stroke-linecap="square">
<path d="M737.4 1208.5V1322.0H908.8"/>
<path stroke-width="1.5" d="M734.2 1322.0H737.4M734.2 1284.2H737.4M734.2 1246.3H737.4M734.2 1208.5H737.4M737.4 1322.0V1325.2M780.2 1322.0V1325.2M823.1 1322.0V1325.2M865.9 1322.0V1325.2M908.8 1322.0V1325.2"/>
</g>
<g font-family="Liberation Sans" font-weight="bold" font-size="9.6" fill="#3a3a3a">
<text transform="translate(732.9,1324.8) scale(0.8,1)" text-anchor="end">0</text>
<text transform="translate(732.9,1287.0) scale(0.8,1)" text-anchor="end">100</text>
<text transform="translate(732.9,1249.1) scale(0.8,1)" text-anchor="end">200</text>
<text transform="translate(732.9,1211.3) scale(0.8,1)" text-anchor="end">300</text>
<text transform="translate(737.4,1334.8) scale(0.8,1)" text-anchor="middle">0.0</text>
<text transform="translate(780.2,1334.8) scale(0.8,1)" text-anchor="middle">0.2</text>
<text transform="translate(823.1,1334.8) scale(0.8,1)" text-anchor="middle">0.4</text>
<text transform="translate(865.9,1334.8) scale(0.8,1)" text-anchor="middle">0.6</text>
<text transform="translate(908.8,1334.8) scale(0.8,1)" text-anchor="middle">0.8</text>
</g>
<text x="785.0" y="1206.4" font-family="Liberation Sans" font-size="11.8" fill="#4a4a4a" textLength="91.5" lengthAdjust="spacingAndGlyphs">R = 0.369 <tspan font-style="italic">P</tspan> = 0.002</text>
<text x="837.3" y="1360.5" text-anchor="middle" font-family="Liberation Serif" font-weight="bold" font-size="17.6" fill="#000">L-Phenylalanine</text>
<text transform="translate(711.7,1249.6) rotate(-90)" text-anchor="middle" font-family="Liberation Serif" font-weight="bold" font-size="15.8" fill="#000">CRP</text>
<line x1="787.7" y1="1320.7" x2="868.9" y2="1292.3" stroke="#111" stroke-width="1.6"/>
<g fill="#000"><circle cx="819.6" cy="1225.0" r="2.55"/><circle cx="824.9" cy="1249.4" r="2.55"/><circle cx="847.8" cy="1251.7" r="2.55"/><circle cx="845.7" cy="1264.0" r="2.55"/><circle cx="829.0" cy="1269.4" r="2.55"/><circle cx="830.1" cy="1277.1" r="2.55"/><circle cx="844.6" cy="1274.4" r="2.55"/><circle cx="799.8" cy="1285.4" r="2.55"/><circle cx="843.2" cy="1293.1" r="2.55"/><circle cx="813.8" cy="1298.6" r="2.55"/><circle cx="826.5" cy="1299.4" r="2.55"/><circle cx="842.6" cy="1300.0" r="2.55"/><circle cx="869.0" cy="1298.4" r="2.55"/><circle cx="786.3" cy="1302.1" r="2.55"/><circle cx="855.1" cy="1304.8" r="2.55"/><circle cx="789.0" cy="1311.5" r="2.55"/><circle cx="795.3" cy="1310.0" r="2.55"/><circle cx="809.2" cy="1306.3" r="2.55"/><circle cx="814.4" cy="1309.8" r="2.55"/><circle cx="825.5" cy="1310.9" r="2.55"/><circle cx="831.1" cy="1305.6" r="2.55"/><circle cx="838.8" cy="1312.9" r="2.55"/><circle cx="856.5" cy="1317.3" r="2.55"/><circle cx="782.1" cy="1317.7" r="2.55"/><circle cx="784.2" cy="1319.8" r="2.55"/><circle cx="788.4" cy="1320.4" r="2.55"/><circle cx="791.5" cy="1319.2" r="2.55"/><circle cx="795.7" cy="1318.8" r="2.55"/><circle cx="797.8" cy="1317.7" r="2.55"/><circle cx="800.9" cy="1319.8" r="2.55"/><circle cx="804.0" cy="1320.4" r="2.55"/><circle cx="808.2" cy="1321.3" r="2.55"/><circle cx="814.4" cy="1320.4" r="2.55"/><circle cx="818.6" cy="1319.2" r="2.55"/><circle cx="822.8" cy="1316.7" r="2.55"/><circle cx="824.9" cy="1319.8" r="2.55"/><circle cx="831.1" cy="1320.4" r="2.55"/><circle cx="833.2" cy="1319.8" r="2.55"/><circle cx="839.4" cy="1320.9" r="2.55"/><circle cx="854.0" cy="1321.3" r="2.55"/><circle cx="858.2" cy="1320.4" r="2.55"/><circle cx="771.7" cy="1321.3" r="2.55"/><circle cx="774.8" cy="1321.3" r="2.55"/><circle cx="822.8" cy="1320.4" r="2.55"/></g>
<g stroke="#262626" stroke-width="1.9" fill="none" stroke-linecap="square">
<path d="M66.4 1403.9V1522.5H244.3"/>
<path stroke-width="1.5" d="M63.2 1522.5H66.4M63.2 1498.8H66.4M63.2 1475.1H66.4M63.2 1451.3H66.4M63.2 1427.6H66.4M63.2 1403.9H66.4M66.4 1522.5V1525.7M125.7 1522.5V1525.7M185.0 1522.5V1525.7M244.3 1522.5V1525.7"/>
</g>
<g font-family="Liberation Sans" font-weight="bold" font-size="9.6" fill="#3a3a3a">
<text transform="translate(61.9,1525.3) scale(0.8,1)" text-anchor="end">0</text>
<text transform="translate(61.9,1501.6) scale(0.8,1)" text-anchor="end">10</text>
<text transform="translate(61.9,1477.9) scale(0.8,1)" text-anchor="end">20</text>
<text transform="translate(61.9,1454.1) scale(0.8,1)" text-anchor="end">30</text>
<text transform="translate(61.9,1430.4) scale(0.8,1)" text-anchor="end">40</text>
<text transform="translate(61.9,1406.7) scale(0.8,1)" text-anchor="end">50</text>
<text transform="translate(66.4,1535.3) scale(0.8,1)" text-anchor="middle">0.0</text>
<text transform="translate(125.7,1535.3) scale(0.8,1)" text-anchor="middle">0.5</text>
<text transform="translate(185.0,1535.3) scale(0.8,1)" text-anchor="middle">1.0</text>
<text transform="translate(244.3,1535.3) scale(0.8,1)" text-anchor="middle">1.5</text>
</g>
<text x="105.1" y="1402.6" font-family="Liberation Sans" font-size="11.8" fill="#4a4a4a" textLength="104.4" lengthAdjust="spacingAndGlyphs">R = -0.361 <tspan font-style="italic">P</tspan> = 0.0021</text>
<text x="155.4" y="1557.4" text-anchor="middle" font-family="Liberation Serif" font-weight="bold" font-size="17.6" fill="#000">D-Glucose</text>
<text transform="translate(44.2,1476.0) rotate(-90)" text-anchor="middle" font-family="Liberation Serif" font-weight="bold" font-size="15.8" fill="#000">Alb</text>
<line x1="83.2" y1="1434.8" x2="197.9" y2="1457.0" stroke="#111" stroke-width="1.6"/>
<g fill="#000"><circle cx="124.1" cy="1418.3" r="2.55"/><circle cx="90.3" cy="1421.0" r="2.55"/><circle cx="150.7" cy="1423.1" r="2.55"/><circle cx="87.2" cy="1427.9" r="2.55"/><circle cx="91.3" cy="1430.4" r="2.55"/><circle cx="110.7" cy="1421.0" r="2.55"/><circle cx="165.7" cy="1430.4" r="2.55"/><circle cx="147.2" cy="1432.5" r="2.55"/><circle cx="176.8" cy="1437.7" r="2.55"/><circle cx="96.5" cy="1433.5" r="2.55"/><circle cx="98.6" cy="1431.5" r="2.55"/><circle cx="100.7" cy="1429.4" r="2.55"/><circle cx="102.8" cy="1426.3" r="2.55"/><circle cx="105.9" cy="1425.2" r="2.55"/><circle cx="109.1" cy="1426.3" r="2.55"/><circle cx="112.2" cy="1425.2" r="2.55"/><circle cx="111.1" cy="1429.4" r="2.55"/><circle cx="113.2" cy="1432.5" r="2.55"/><circle cx="115.3" cy="1435.6" r="2.55"/><circle cx="113.2" cy="1438.8" r="2.55"/><circle cx="110.1" cy="1440.8" r="2.55"/><circle cx="107.0" cy="1440.8" r="2.55"/><circle cx="102.8" cy="1439.8" r="2.55"/><circle cx="99.7" cy="1437.7" r="2.55"/><circle cx="98.6" cy="1435.6" r="2.55"/><circle cx="103.8" cy="1434.6" r="2.55"/><circle cx="108.0" cy="1435.6" r="2.55"/><circle cx="120.5" cy="1430.4" r="2.55"/><circle cx="121.6" cy="1433.5" r="2.55"/><circle cx="120.5" cy="1437.7" r="2.55"/><circle cx="116.3" cy="1438.8" r="2.55"/><circle cx="112.2" cy="1442.9" r="2.55"/><circle cx="108.0" cy="1445.0" r="2.55"/><circle cx="102.8" cy="1446.1" r="2.55"/><circle cx="105.9" cy="1448.1" r="2.55"/><circle cx="109.1" cy="1448.1" r="2.55"/><circle cx="136.1" cy="1439.8" r="2.55"/><circle cx="130.9" cy="1444.6" r="2.55"/><circle cx="134.1" cy="1446.1" r="2.55"/><circle cx="157.0" cy="1444.6" r="2.55"/><circle cx="83.0" cy="1446.7" r="2.55"/><circle cx="197.2" cy="1446.7" r="2.55"/><circle cx="125.1" cy="1449.2" r="2.55"/><circle cx="151.8" cy="1451.7" r="2.55"/><circle cx="117.8" cy="1453.8" r="2.55"/><circle cx="95.1" cy="1456.5" r="2.55"/><circle cx="142.4" cy="1456.5" r="2.55"/><circle cx="155.9" cy="1456.5" r="2.55"/><circle cx="162.2" cy="1458.6" r="2.55"/><circle cx="169.1" cy="1458.6" r="2.55"/><circle cx="130.3" cy="1458.6" r="2.55"/><circle cx="102.8" cy="1460.0" r="2.55"/><circle cx="105.9" cy="1460.6" r="2.55"/><circle cx="115.9" cy="1461.1" r="2.55"/><circle cx="111.6" cy="1465.8" r="2.55"/><circle cx="173.0" cy="1467.9" r="2.55"/><circle cx="161.1" cy="1470.4" r="2.55"/><circle cx="174.7" cy="1473.1" r="2.55"/><circle cx="112.2" cy="1436.7" r="2.55"/><circle cx="104.9" cy="1442.9" r="2.55"/></g>
<g stroke="#262626" stroke-width="1.9" fill="none" stroke-linecap="square">
<path d="M293.3 1404.6V1522.5H471.2"/>
<path stroke-width="1.5" d="M290.1 1522.5H293.3M290.1 1498.9H293.3M290.1 1475.3H293.3M290.1 1451.8H293.3M290.1 1428.2H293.3M290.1 1404.6H293.3M293.3 1522.5V1525.7M337.8 1522.5V1525.7M382.2 1522.5V1525.7M426.7 1522.5V1525.7M471.2 1522.5V1525.7"/>
</g>
<g font-family="Liberation Sans" font-weight="bold" font-size="9.6" fill="#3a3a3a">
<text transform="translate(288.8,1525.3) scale(0.8,1)" text-anchor="end">0</text>
<text transform="translate(288.8,1501.7) scale(0.8,1)" text-anchor="end">10</text>
<text transform="translate(288.8,1478.1) scale(0.8,1)" text-anchor="end">20</text>
<text transform="translate(288.8,1454.6) scale(0.8,1)" text-anchor="end">30</text>
<text transform="translate(288.8,1431.0) scale(0.8,1)" text-anchor="end">40</text>
<text transform="translate(288.8,1407.4) scale(0.8,1)" text-anchor="end">50</text>
<text transform="translate(293.3,1535.3) scale(0.8,1)" text-anchor="middle">0.00</text>
<text transform="translate(337.8,1535.3) scale(0.8,1)" text-anchor="middle">0.02</text>
<text transform="translate(382.2,1535.3) scale(0.8,1)" text-anchor="middle">0.04</text>
<text transform="translate(426.7,1535.3) scale(0.8,1)" text-anchor="middle">0.06</text>
<text transform="translate(471.2,1535.3) scale(0.8,1)" text-anchor="middle">0.08</text>
</g>
<text x="332.9" y="1402.6" font-family="Liberation Sans" font-size="11.8" fill="#4a4a4a" textLength="102.1" lengthAdjust="spacingAndGlyphs">R = -0.297 <tspan font-style="italic">P</tspan> = 0.013</text>
<text x="385.4" y="1557.4" text-anchor="middle" font-family="Liberation Serif" font-weight="bold" font-size="17.6" fill="#000">L-Asparagine</text>
<text transform="translate(266.7,1471.8) rotate(-90)" text-anchor="middle" font-family="Liberation Serif" font-weight="bold" font-size="15.8" fill="#000">Alb</text>
<line x1="304.1" y1="1435.6" x2="452.4" y2="1452.9" stroke="#111" stroke-width="1.6"/>
<g fill="#000"><circle cx="305.4" cy="1421.0" r="2.55"/><circle cx="321.0" cy="1421.0" r="2.55"/><circle cx="319.0" cy="1425.2" r="2.55"/><circle cx="371.9" cy="1418.3" r="2.55"/><circle cx="340.8" cy="1425.8" r="2.55"/><circle cx="344.4" cy="1426.3" r="2.55"/><circle cx="346.5" cy="1428.3" r="2.55"/><circle cx="348.6" cy="1431.5" r="2.55"/><circle cx="347.5" cy="1433.5" r="2.55"/><circle cx="366.3" cy="1428.3" r="2.55"/><circle cx="378.8" cy="1426.3" r="2.55"/><circle cx="379.8" cy="1430.4" r="2.55"/><circle cx="391.7" cy="1424.2" r="2.55"/><circle cx="392.3" cy="1427.9" r="2.55"/><circle cx="409.4" cy="1430.4" r="2.55"/><circle cx="303.8" cy="1432.5" r="2.55"/><circle cx="305.4" cy="1435.6" r="2.55"/><circle cx="323.5" cy="1432.5" r="2.55"/><circle cx="326.7" cy="1432.5" r="2.55"/><circle cx="333.3" cy="1430.4" r="2.55"/><circle cx="335.0" cy="1430.4" r="2.55"/><circle cx="338.8" cy="1434.6" r="2.55"/><circle cx="353.8" cy="1435.6" r="2.55"/><circle cx="355.8" cy="1434.6" r="2.55"/><circle cx="362.1" cy="1435.0" r="2.55"/><circle cx="370.4" cy="1432.5" r="2.55"/><circle cx="371.5" cy="1436.7" r="2.55"/><circle cx="374.6" cy="1437.7" r="2.55"/><circle cx="376.7" cy="1439.8" r="2.55"/><circle cx="379.8" cy="1441.9" r="2.55"/><circle cx="418.4" cy="1439.8" r="2.55"/><circle cx="312.1" cy="1437.7" r="2.55"/><circle cx="314.2" cy="1439.8" r="2.55"/><circle cx="315.2" cy="1445.0" r="2.55"/><circle cx="316.3" cy="1447.1" r="2.55"/><circle cx="319.4" cy="1447.1" r="2.55"/><circle cx="325.6" cy="1447.1" r="2.55"/><circle cx="328.8" cy="1439.8" r="2.55"/><circle cx="330.8" cy="1442.9" r="2.55"/><circle cx="332.9" cy="1441.9" r="2.55"/><circle cx="335.0" cy="1441.9" r="2.55"/><circle cx="330.8" cy="1445.0" r="2.55"/><circle cx="344.4" cy="1445.0" r="2.55"/><circle cx="347.5" cy="1445.0" r="2.55"/><circle cx="359.0" cy="1444.6" r="2.55"/><circle cx="366.3" cy="1441.9" r="2.55"/><circle cx="377.7" cy="1446.1" r="2.55"/><circle cx="382.9" cy="1448.1" r="2.55"/><circle cx="385.0" cy="1449.6" r="2.55"/><circle cx="391.3" cy="1447.1" r="2.55"/><circle cx="307.9" cy="1449.6" r="2.55"/><circle cx="339.6" cy="1449.6" r="2.55"/><circle cx="400.0" cy="1456.5" r="2.55"/><circle cx="416.7" cy="1454.4" r="2.55"/><circle cx="422.9" cy="1456.5" r="2.55"/><circle cx="429.4" cy="1458.6" r="2.55"/><circle cx="453.8" cy="1458.6" r="2.55"/><circle cx="338.1" cy="1458.6" r="2.55"/><circle cx="351.7" cy="1457.5" r="2.55"/><circle cx="355.8" cy="1461.7" r="2.55"/><circle cx="369.4" cy="1461.3" r="2.55"/><circle cx="372.5" cy="1461.3" r="2.55"/><circle cx="354.8" cy="1468.3" r="2.55"/><circle cx="376.7" cy="1465.8" r="2.55"/><circle cx="377.1" cy="1473.1" r="2.55"/><circle cx="385.0" cy="1470.4" r="2.55"/><circle cx="318.3" cy="1461.3" r="2.55"/></g>
<g stroke="#262626" stroke-width="1.9" fill="none" stroke-linecap="square">
<path d="M516.4 1401.3V1520.7H694.3"/>
<path stroke-width="1.5" d="M513.2 1520.7H516.4M513.2 1496.8H516.4M513.2 1472.9H516.4M513.2 1449.1H516.4M513.2 1425.2H516.4M513.2 1401.3H516.4M516.4 1520.7V1523.9M560.9 1520.7V1523.9M605.3 1520.7V1523.9M649.8 1520.7V1523.9M694.3 1520.7V1523.9"/>
</g>
<g font-family="Liberation Sans" font-weight="bold" font-size="9.6" fill="#3a3a3a">
<text transform="translate(511.9,1523.5) scale(0.8,1)" text-anchor="end">0</text>
<text transform="translate(511.9,1499.6) scale(0.8,1)" text-anchor="end">10</text>
<text transform="translate(511.9,1475.7) scale(0.8,1)" text-anchor="end">20</text>
<text transform="translate(511.9,1451.9) scale(0.8,1)" text-anchor="end">30</text>
<text transform="translate(511.9,1428.0) scale(0.8,1)" text-anchor="end">40</text>
<text transform="translate(511.9,1404.1) scale(0.8,1)" text-anchor="end">50</text>
<text transform="translate(516.4,1533.5) scale(0.8,1)" text-anchor="middle">0.0</text>
<text transform="translate(560.9,1533.5) scale(0.8,1)" text-anchor="middle">0.2</text>
<text transform="translate(605.3,1533.5) scale(0.8,1)" text-anchor="middle">0.4</text>
<text transform="translate(649.8,1533.5) scale(0.8,1)" text-anchor="middle">0.6</text>
<text transform="translate(694.3,1533.5) scale(0.8,1)" text-anchor="middle">0.b</text>
</g>
<text x="556.5" y="1400.0" font-family="Liberation Sans" font-size="11.8" fill="#4a4a4a" textLength="103.1" lengthAdjust="spacingAndGlyphs">R = -0.483 <tspan font-style="italic">P</tspan> < 0.0001</text>
<text x="615.0" y="1554.0" text-anchor="middle" font-family="Liberation Serif" font-weight="bold" font-size="17.6" fill="#000">L-Phenylalanine</text>
<text transform="translate(494.2,1471.8) rotate(-90)" text-anchor="middle" font-family="Liberation Serif" font-weight="bold" font-size="15.8" fill="#000">Alb</text>
<line x1="552.5" y1="1429.1" x2="654.3" y2="1456.2" stroke="#111" stroke-width="1.6"/>
<g fill="#000"><circle cx="556.3" cy="1418.4" r="2.55"/><circle cx="586.8" cy="1415.9" r="2.55"/><circle cx="573.0" cy="1419.0" r="2.55"/><circle cx="600.3" cy="1420.5" r="2.55"/><circle cx="622.2" cy="1423.2" r="2.55"/><circle cx="622.2" cy="1427.4" r="2.55"/><circle cx="568.4" cy="1423.2" r="2.55"/><circle cx="570.5" cy="1426.3" r="2.55"/><circle cx="575.7" cy="1426.3" r="2.55"/><circle cx="579.9" cy="1428.4" r="2.55"/><circle cx="584.1" cy="1430.5" r="2.55"/><circle cx="590.3" cy="1423.2" r="2.55"/><circle cx="592.4" cy="1426.3" r="2.55"/><circle cx="595.5" cy="1428.4" r="2.55"/><circle cx="602.8" cy="1430.5" r="2.55"/><circle cx="642.4" cy="1428.0" r="2.55"/><circle cx="553.4" cy="1430.5" r="2.55"/><circle cx="563.2" cy="1431.5" r="2.55"/><circle cx="566.3" cy="1430.5" r="2.55"/><circle cx="569.5" cy="1433.6" r="2.55"/><circle cx="572.6" cy="1432.6" r="2.55"/><circle cx="574.7" cy="1434.7" r="2.55"/><circle cx="578.8" cy="1435.7" r="2.55"/><circle cx="563.2" cy="1437.8" r="2.55"/><circle cx="564.3" cy="1439.9" r="2.55"/><circle cx="570.5" cy="1444.1" r="2.55"/><circle cx="573.6" cy="1443.0" r="2.55"/><circle cx="576.8" cy="1442.0" r="2.55"/><circle cx="579.9" cy="1445.1" r="2.55"/><circle cx="580.9" cy="1439.9" r="2.55"/><circle cx="578.8" cy="1437.8" r="2.55"/><circle cx="586.1" cy="1444.1" r="2.55"/><circle cx="590.3" cy="1444.1" r="2.55"/><circle cx="597.6" cy="1433.6" r="2.55"/><circle cx="599.7" cy="1436.8" r="2.55"/><circle cx="603.9" cy="1437.8" r="2.55"/><circle cx="604.9" cy="1439.9" r="2.55"/><circle cx="602.8" cy="1443.0" r="2.55"/><circle cx="596.6" cy="1444.1" r="2.55"/><circle cx="601.8" cy="1447.2" r="2.55"/><circle cx="622.2" cy="1435.7" r="2.55"/><circle cx="621.6" cy="1442.0" r="2.55"/><circle cx="613.2" cy="1439.9" r="2.55"/><circle cx="627.8" cy="1444.1" r="2.55"/><circle cx="629.9" cy="1448.2" r="2.55"/><circle cx="632.0" cy="1449.3" r="2.55"/><circle cx="626.8" cy="1453.4" r="2.55"/><circle cx="628.9" cy="1452.4" r="2.55"/><circle cx="638.2" cy="1447.2" r="2.55"/><circle cx="640.3" cy="1453.4" r="2.55"/><circle cx="639.3" cy="1455.5" r="2.55"/><circle cx="653.9" cy="1456.6" r="2.55"/><circle cx="580.9" cy="1459.3" r="2.55"/><circle cx="607.0" cy="1456.6" r="2.55"/><circle cx="610.1" cy="1459.7" r="2.55"/><circle cx="615.3" cy="1458.6" r="2.55"/><circle cx="610.1" cy="1463.8" r="2.55"/><circle cx="612.2" cy="1465.9" r="2.55"/><circle cx="614.7" cy="1468.0" r="2.55"/><circle cx="595.9" cy="1470.7" r="2.55"/></g>
<g stroke="#262626" stroke-width="1.9" fill="none" stroke-linecap="square">
<path d="M736.1 1397.7V1516.3H913.2"/>
<path stroke-width="1.5" d="M732.9 1516.3H736.1M732.9 1492.6H736.1M732.9 1468.9H736.1M732.9 1445.1H736.1M732.9 1421.4H736.1M732.9 1397.7H736.1M736.1 1516.3V1519.5M780.4 1516.3V1519.5M824.7 1516.3V1519.5M868.9 1516.3V1519.5M913.2 1516.3V1519.5"/>
</g>
<g font-family="Liberation Sans" font-weight="bold" font-size="9.6" fill="#3a3a3a">
<text transform="translate(731.6,1519.1) scale(0.8,1)" text-anchor="end">0</text>
<text transform="translate(731.6,1495.4) scale(0.8,1)" text-anchor="end">10</text>
<text transform="translate(731.6,1471.7) scale(0.8,1)" text-anchor="end">20</text>
<text transform="translate(731.6,1447.9) scale(0.8,1)" text-anchor="end">30</text>
<text transform="translate(731.6,1424.2) scale(0.8,1)" text-anchor="end">40</text>
<text transform="translate(731.6,1400.5) scale(0.8,1)" text-anchor="end">50</text>
<text transform="translate(736.1,1529.1) scale(0.8,1)" text-anchor="middle">0.0</text>
<text transform="translate(780.4,1529.1) scale(0.8,1)" text-anchor="middle">0.1</text>
<text transform="translate(824.7,1529.1) scale(0.8,1)" text-anchor="middle">0.2</text>
<text transform="translate(868.9,1529.1) scale(0.8,1)" text-anchor="middle">0.3</text>
<text transform="translate(913.2,1529.1) scale(0.8,1)" text-anchor="middle">0.4</text>
</g>
<text x="774.9" y="1396.9" font-family="Liberation Sans" font-size="11.8" fill="#4a4a4a" textLength="105.7" lengthAdjust="spacingAndGlyphs">R = -0.247 <tspan font-style="italic">P</tspan> = 0.0390</text>
<text x="835.4" y="1554.0" text-anchor="middle" font-family="Liberation Serif" font-weight="bold" font-size="17.6" fill="#000">α-D-Mannose</text>
<text transform="translate(714.8,1461.4) rotate(-90)" text-anchor="middle" font-family="Liberation Serif" font-weight="bold" font-size="15.8" fill="#000">Alb</text>
<line x1="736.9" y1="1426.0" x2="883.8" y2="1441.5" stroke="#111" stroke-width="1.6"/>
<g fill="#000"><circle cx="738.4" cy="1428.5" r="2.55"/><circle cx="737.4" cy="1441.1" r="2.55"/><circle cx="739.5" cy="1443.1" r="2.55"/><circle cx="740.9" cy="1443.8" r="2.55"/><circle cx="789.5" cy="1414.6" r="2.55"/><circle cx="788.0" cy="1418.8" r="2.55"/><circle cx="785.3" cy="1426.5" r="2.55"/><circle cx="807.6" cy="1414.6" r="2.55"/><circle cx="813.4" cy="1411.9" r="2.55"/><circle cx="815.5" cy="1419.2" r="2.55"/><circle cx="816.6" cy="1422.3" r="2.55"/><circle cx="829.1" cy="1419.2" r="2.55"/><circle cx="836.4" cy="1422.3" r="2.55"/><circle cx="840.5" cy="1422.3" r="2.55"/><circle cx="849.9" cy="1419.2" r="2.55"/><circle cx="876.4" cy="1417.1" r="2.55"/><circle cx="805.5" cy="1423.8" r="2.55"/><circle cx="809.3" cy="1428.5" r="2.55"/><circle cx="813.4" cy="1425.4" r="2.55"/><circle cx="820.7" cy="1424.4" r="2.55"/><circle cx="821.8" cy="1428.5" r="2.55"/><circle cx="819.7" cy="1431.7" r="2.55"/><circle cx="812.4" cy="1433.8" r="2.55"/><circle cx="800.9" cy="1435.8" r="2.55"/><circle cx="802.0" cy="1441.1" r="2.55"/><circle cx="808.2" cy="1438.3" r="2.55"/><circle cx="815.5" cy="1436.9" r="2.55"/><circle cx="817.6" cy="1440.0" r="2.55"/><circle cx="815.5" cy="1443.1" r="2.55"/><circle cx="818.6" cy="1441.1" r="2.55"/><circle cx="830.1" cy="1430.6" r="2.55"/><circle cx="829.1" cy="1437.9" r="2.55"/><circle cx="835.3" cy="1433.8" r="2.55"/><circle cx="836.4" cy="1440.0" r="2.55"/><circle cx="842.6" cy="1440.0" r="2.55"/><circle cx="844.7" cy="1432.7" r="2.55"/><circle cx="846.8" cy="1426.5" r="2.55"/><circle cx="847.8" cy="1431.7" r="2.55"/><circle cx="853.0" cy="1430.6" r="2.55"/><circle cx="855.1" cy="1440.0" r="2.55"/><circle cx="856.2" cy="1436.9" r="2.55"/><circle cx="859.3" cy="1424.4" r="2.55"/><circle cx="861.4" cy="1424.4" r="2.55"/><circle cx="867.6" cy="1428.5" r="2.55"/><circle cx="871.8" cy="1438.3" r="2.55"/><circle cx="882.2" cy="1438.3" r="2.55"/><circle cx="858.2" cy="1435.8" r="2.55"/><circle cx="855.1" cy="1443.1" r="2.55"/><circle cx="860.3" cy="1446.3" r="2.55"/><circle cx="859.3" cy="1450.4" r="2.55"/><circle cx="808.2" cy="1455.0" r="2.55"/><circle cx="823.9" cy="1452.5" r="2.55"/><circle cx="828.0" cy="1456.7" r="2.55"/><circle cx="830.1" cy="1451.5" r="2.55"/><circle cx="831.1" cy="1452.5" r="2.55"/><circle cx="844.7" cy="1447.3" r="2.55"/><circle cx="848.9" cy="1450.4" r="2.55"/><circle cx="864.9" cy="1455.0" r="2.55"/><circle cx="873.9" cy="1452.5" r="2.55"/><circle cx="878.4" cy="1452.5" r="2.55"/><circle cx="886.8" cy="1455.0" r="2.55"/><circle cx="855.5" cy="1464.6" r="2.55"/><circle cx="867.2" cy="1462.1" r="2.55"/><circle cx="819.1" cy="1467.1" r="2.55"/><circle cx="837.4" cy="1426.5" r="2.55"/><circle cx="840.5" cy="1427.5" r="2.55"/></g>
<g stroke="#262626" stroke-width="1.9" fill="none" stroke-linecap="square">
<path d="M72.8 1592.8V1711.4H250.7"/>
<path stroke-width="1.5" d="M69.6 1711.4H72.8M69.6 1687.7H72.8M69.6 1664.0H72.8M69.6 1640.2H72.8M69.6 1616.5H72.8M69.6 1592.8H72.8M72.8 1711.4V1714.6M117.3 1711.4V1714.6M161.8 1711.4V1714.6M206.2 1711.4V1714.6M250.7 1711.4V1714.6"/>
</g>
<g font-family="Liberation Sans" font-weight="bold" font-size="9.6" fill="#3a3a3a">
<text transform="translate(68.3,1714.2) scale(0.8,1)" text-anchor="end">0</text>
<text transform="translate(68.3,1690.5) scale(0.8,1)" text-anchor="end">10</text>
<text transform="translate(68.3,1666.8) scale(0.8,1)" text-anchor="end">20</text>
<text transform="translate(68.3,1643.0) scale(0.8,1)" text-anchor="end">30</text>
<text transform="translate(68.3,1619.3) scale(0.8,1)" text-anchor="end">40</text>
<text transform="translate(68.3,1595.6) scale(0.8,1)" text-anchor="end">50</text>
<text transform="translate(72.8,1724.2) scale(0.8,1)" text-anchor="middle">0.00</text>
<text transform="translate(117.3,1724.2) scale(0.8,1)" text-anchor="middle">0.02</text>
<text transform="translate(161.8,1724.2) scale(0.8,1)" text-anchor="middle">0.04</text>
<text transform="translate(206.2,1724.2) scale(0.8,1)" text-anchor="middle">0.06</text>
<text transform="translate(250.7,1724.2) scale(0.8,1)" text-anchor="middle">0.08</text>
</g>
<text x="109.7" y="1592.1" font-family="Liberation Sans" font-size="11.8" fill="#4a4a4a" textLength="108.8" lengthAdjust="spacingAndGlyphs">R =  -0.238 <tspan font-style="italic">P</tspan> = 0.0470</text>
<text x="167.6" y="1746.6" text-anchor="middle" font-family="Liberation Serif" font-weight="bold" font-size="17.6" fill="#000">D-Gluconic acid</text>
<text transform="translate(48.5,1651.4) rotate(-90)" text-anchor="middle" font-family="Liberation Serif" font-weight="bold" font-size="15.8" fill="#000">Alb</text>
<line x1="80.6" y1="1628.2" x2="209.5" y2="1648.0" stroke="#111" stroke-width="1.6"/>
<g fill="#000"><circle cx="79.0" cy="1610.0" r="2.55"/><circle cx="123.0" cy="1607.9" r="2.55"/><circle cx="122.3" cy="1610.0" r="2.55"/><circle cx="144.6" cy="1619.4" r="2.55"/><circle cx="101.1" cy="1612.5" r="2.55"/><circle cx="110.3" cy="1614.6" r="2.55"/><circle cx="110.9" cy="1622.1" r="2.55"/><circle cx="109.4" cy="1626.3" r="2.55"/><circle cx="103.2" cy="1619.4" r="2.55"/><circle cx="105.3" cy="1621.5" r="2.55"/><circle cx="82.8" cy="1616.3" r="2.55"/><circle cx="84.8" cy="1615.2" r="2.55"/><circle cx="86.9" cy="1616.3" r="2.55"/><circle cx="89.0" cy="1615.2" r="2.55"/><circle cx="83.8" cy="1619.4" r="2.55"/><circle cx="85.9" cy="1620.4" r="2.55"/><circle cx="88.0" cy="1619.4" r="2.55"/><circle cx="90.0" cy="1621.5" r="2.55"/><circle cx="92.1" cy="1622.5" r="2.55"/><circle cx="94.2" cy="1623.5" r="2.55"/><circle cx="84.8" cy="1623.5" r="2.55"/><circle cx="82.8" cy="1625.6" r="2.55"/><circle cx="86.9" cy="1625.6" r="2.55"/><circle cx="90.0" cy="1626.7" r="2.55"/><circle cx="93.2" cy="1626.7" r="2.55"/><circle cx="96.3" cy="1627.7" r="2.55"/><circle cx="99.4" cy="1628.8" r="2.55"/><circle cx="101.5" cy="1629.8" r="2.55"/><circle cx="83.8" cy="1629.8" r="2.55"/><circle cx="86.9" cy="1630.8" r="2.55"/><circle cx="91.1" cy="1630.8" r="2.55"/><circle cx="95.3" cy="1631.9" r="2.55"/><circle cx="98.4" cy="1630.8" r="2.55"/><circle cx="100.5" cy="1632.9" r="2.55"/><circle cx="84.8" cy="1635.0" r="2.55"/><circle cx="89.0" cy="1635.0" r="2.55"/><circle cx="93.2" cy="1636.1" r="2.55"/><circle cx="97.3" cy="1635.0" r="2.55"/><circle cx="80.7" cy="1638.1" r="2.55"/><circle cx="85.9" cy="1638.1" r="2.55"/><circle cx="91.1" cy="1639.2" r="2.55"/><circle cx="95.3" cy="1640.2" r="2.55"/><circle cx="101.1" cy="1636.1" r="2.55"/><circle cx="118.6" cy="1633.6" r="2.55"/><circle cx="99.4" cy="1641.3" r="2.55"/><circle cx="94.2" cy="1644.4" r="2.55"/><circle cx="100.5" cy="1645.4" r="2.55"/><circle cx="106.7" cy="1645.4" r="2.55"/><circle cx="108.8" cy="1645.4" r="2.55"/><circle cx="92.1" cy="1647.5" r="2.55"/><circle cx="95.3" cy="1649.6" r="2.55"/><circle cx="97.3" cy="1650.6" r="2.55"/><circle cx="81.7" cy="1650.0" r="2.55"/><circle cx="83.2" cy="1650.6" r="2.55"/><circle cx="126.1" cy="1647.9" r="2.55"/><circle cx="142.8" cy="1647.9" r="2.55"/><circle cx="135.9" cy="1654.8" r="2.55"/><circle cx="121.3" cy="1656.9" r="2.55"/><circle cx="124.8" cy="1659.4" r="2.55"/><circle cx="112.3" cy="1662.1" r="2.55"/><circle cx="209.2" cy="1647.9" r="2.55"/><circle cx="102.5" cy="1623.5" r="2.55"/></g>
<g stroke="#262626" stroke-width="1.9" fill="none" stroke-linecap="square">
<path d="M295.1 1590.3V1711.4H476.3"/>
<path stroke-width="1.5" d="M291.9 1711.4H295.1M291.9 1681.1H295.1M291.9 1650.8H295.1M291.9 1620.6H295.1M291.9 1590.3H295.1M295.1 1711.4V1714.6M355.5 1711.4V1714.6M415.9 1711.4V1714.6M476.3 1711.4V1714.6"/>
</g>
<g font-family="Liberation Sans" font-weight="bold" font-size="9.6" fill="#3a3a3a">
<text transform="translate(290.6,1714.2) scale(0.8,1)" text-anchor="end">0</text>
<text transform="translate(290.6,1683.9) scale(0.8,1)" text-anchor="end">2</text>
<text transform="translate(290.6,1653.6) scale(0.8,1)" text-anchor="end">4</text>
<text transform="translate(290.6,1623.4) scale(0.8,1)" text-anchor="end">6</text>
<text transform="translate(290.6,1593.1) scale(0.8,1)" text-anchor="end">8</text>
<text transform="translate(295.1,1724.2) scale(0.8,1)" text-anchor="middle">0.0</text>
<text transform="translate(355.5,1724.2) scale(0.8,1)" text-anchor="middle">0.5</text>
<text transform="translate(415.9,1724.2) scale(0.8,1)" text-anchor="middle">1.0</text>
<text transform="translate(476.3,1724.2) scale(0.8,1)" text-anchor="middle">1.5</text>
</g>
<text x="333.0" y="1588.0" font-family="Liberation Sans" font-size="11.8" fill="#4a4a4a" textLength="109.0" lengthAdjust="spacingAndGlyphs">R =  0.3465 <tspan font-style="italic">P</tspan> = 0.0033</text>
<text x="380.2" y="1746.6" text-anchor="middle" font-family="Liberation Serif" font-weight="bold" font-size="17.6" fill="#000">D-Glucose</text>
<text transform="translate(271.1,1639.4) rotate(-90)" text-anchor="middle" font-family="Liberation Serif" font-weight="bold" font-size="15.8" fill="#000">FIB</text>
<line x1="311.9" y1="1658.3" x2="428.4" y2="1633.3" stroke="#111" stroke-width="1.6"/>
<g fill="#000"><circle cx="337.6" cy="1617.4" r="2.55"/><circle cx="344.3" cy="1618.0" r="2.55"/><circle cx="331.8" cy="1622.2" r="2.55"/><circle cx="332.8" cy="1627.8" r="2.55"/><circle cx="335.6" cy="1627.2" r="2.55"/><circle cx="347.4" cy="1625.3" r="2.55"/><circle cx="386.2" cy="1619.5" r="2.55"/><circle cx="428.7" cy="1619.5" r="2.55"/><circle cx="323.5" cy="1634.1" r="2.55"/><circle cx="326.6" cy="1632.6" r="2.55"/><circle cx="327.6" cy="1637.6" r="2.55"/><circle cx="320.8" cy="1644.5" r="2.55"/><circle cx="330.3" cy="1645.5" r="2.55"/><circle cx="340.8" cy="1640.3" r="2.55"/><circle cx="359.5" cy="1633.4" r="2.55"/><circle cx="364.5" cy="1638.8" r="2.55"/><circle cx="366.2" cy="1638.2" r="2.55"/><circle cx="372.4" cy="1636.1" r="2.55"/><circle cx="381.4" cy="1636.8" r="2.55"/><circle cx="392.2" cy="1632.0" r="2.55"/><circle cx="399.5" cy="1635.1" r="2.55"/><circle cx="403.3" cy="1634.1" r="2.55"/><circle cx="407.4" cy="1638.2" r="2.55"/><circle cx="405.1" cy="1643.8" r="2.55"/><circle cx="387.0" cy="1644.9" r="2.55"/><circle cx="395.8" cy="1650.7" r="2.55"/><circle cx="345.8" cy="1648.6" r="2.55"/><circle cx="349.9" cy="1645.5" r="2.55"/><circle cx="354.7" cy="1646.6" r="2.55"/><circle cx="334.9" cy="1653.8" r="2.55"/><circle cx="339.1" cy="1651.8" r="2.55"/><circle cx="342.2" cy="1653.8" r="2.55"/><circle cx="344.3" cy="1655.9" r="2.55"/><circle cx="349.5" cy="1655.9" r="2.55"/><circle cx="352.6" cy="1657.0" r="2.55"/><circle cx="380.8" cy="1653.8" r="2.55"/><circle cx="363.1" cy="1657.0" r="2.55"/><circle cx="365.1" cy="1658.0" r="2.55"/><circle cx="311.6" cy="1659.7" r="2.55"/><circle cx="333.9" cy="1660.1" r="2.55"/><circle cx="337.0" cy="1661.1" r="2.55"/><circle cx="340.1" cy="1660.1" r="2.55"/><circle cx="332.8" cy="1663.2" r="2.55"/><circle cx="336.0" cy="1665.3" r="2.55"/><circle cx="339.1" cy="1664.3" r="2.55"/><circle cx="342.2" cy="1665.3" r="2.55"/><circle cx="344.3" cy="1666.4" r="2.55"/><circle cx="333.9" cy="1668.4" r="2.55"/><circle cx="337.0" cy="1669.5" r="2.55"/><circle cx="341.2" cy="1667.4" r="2.55"/><circle cx="324.5" cy="1664.7" r="2.55"/><circle cx="318.3" cy="1669.5" r="2.55"/><circle cx="316.2" cy="1671.6" r="2.55"/><circle cx="327.6" cy="1670.1" r="2.55"/><circle cx="339.1" cy="1673.6" r="2.55"/><circle cx="350.6" cy="1669.5" r="2.55"/><circle cx="376.6" cy="1665.9" r="2.55"/><circle cx="391.6" cy="1662.8" r="2.55"/><circle cx="335.3" cy="1657.0" r="2.55"/><circle cx="343.3" cy="1662.2" r="2.55"/></g>
<g stroke="#262626" stroke-width="1.9" fill="none" stroke-linecap="square">
<path d="M519.0 1589.5V1710.1H700.2"/>
<path stroke-width="1.5" d="M515.8 1710.1H519.0M515.8 1679.9H519.0M515.8 1649.8H519.0M515.8 1619.7H519.0M515.8 1589.5H519.0M519.0 1710.1V1713.3M564.3 1710.1V1713.3M609.6 1710.1V1713.3M654.9 1710.1V1713.3M700.2 1710.1V1713.3"/>
</g>
<g font-family="Liberation Sans" font-weight="bold" font-size="9.6" fill="#3a3a3a">
<text transform="translate(514.5,1712.9) scale(0.8,1)" text-anchor="end">0</text>
<text transform="translate(514.5,1682.7) scale(0.8,1)" text-anchor="end">2</text>
<text transform="translate(514.5,1652.6) scale(0.8,1)" text-anchor="end">4</text>
<text transform="translate(514.5,1622.5) scale(0.8,1)" text-anchor="end">6</text>
<text transform="translate(514.5,1592.3) scale(0.8,1)" text-anchor="end">8</text>
<text transform="translate(519.0,1722.9) scale(0.8,1)" text-anchor="middle">0.0</text>
<text transform="translate(564.3,1722.9) scale(0.8,1)" text-anchor="middle">0.2</text>
<text transform="translate(609.6,1722.9) scale(0.8,1)" text-anchor="middle">0.4</text>
<text transform="translate(654.9,1722.9) scale(0.8,1)" text-anchor="middle">0.6</text>
<text transform="translate(700.2,1722.9) scale(0.8,1)" text-anchor="middle">0.8</text>
</g>
<text x="558.9" y="1587.4" font-family="Liberation Sans" font-size="11.8" fill="#4a4a4a" textLength="105.7" lengthAdjust="spacingAndGlyphs">R = 0.3768 <tspan font-style="italic">P</tspan> = 0.0013</text>
<text x="617.0" y="1746.6" text-anchor="middle" font-family="Liberation Serif" font-weight="bold" font-size="17.6" fill="#000">L-Phenylalanine</text>
<text transform="translate(504.7,1641.3) rotate(-90)" text-anchor="middle" font-family="Liberation Serif" font-weight="bold" font-size="15.8" fill="#000">FIB</text>
<line x1="556.4" y1="1660.4" x2="659.5" y2="1634.6" stroke="#111" stroke-width="1.6"/>
<g fill="#000"><circle cx="605.8" cy="1617.0" r="2.55"/><circle cx="619.8" cy="1617.0" r="2.55"/><circle cx="632.5" cy="1618.5" r="2.55"/><circle cx="612.7" cy="1621.2" r="2.55"/><circle cx="584.3" cy="1625.8" r="2.55"/><circle cx="585.0" cy="1627.4" r="2.55"/><circle cx="630.4" cy="1624.3" r="2.55"/><circle cx="566.2" cy="1631.4" r="2.55"/><circle cx="579.3" cy="1632.6" r="2.55"/><circle cx="594.4" cy="1632.4" r="2.55"/><circle cx="611.4" cy="1632.6" r="2.55"/><circle cx="615.2" cy="1633.1" r="2.55"/><circle cx="629.8" cy="1635.1" r="2.55"/><circle cx="635.0" cy="1635.8" r="2.55"/><circle cx="642.3" cy="1631.0" r="2.55"/><circle cx="644.4" cy="1633.1" r="2.55"/><circle cx="645.4" cy="1635.1" r="2.55"/><circle cx="658.5" cy="1634.5" r="2.55"/><circle cx="570.4" cy="1637.2" r="2.55"/><circle cx="582.9" cy="1638.3" r="2.55"/><circle cx="599.6" cy="1639.3" r="2.55"/><circle cx="600.6" cy="1642.4" r="2.55"/><circle cx="608.9" cy="1637.2" r="2.55"/><circle cx="612.1" cy="1639.3" r="2.55"/><circle cx="625.6" cy="1644.5" r="2.55"/><circle cx="588.1" cy="1644.5" r="2.55"/><circle cx="590.2" cy="1644.5" r="2.55"/><circle cx="581.8" cy="1646.6" r="2.55"/><circle cx="578.7" cy="1647.6" r="2.55"/><circle cx="572.5" cy="1650.3" r="2.55"/><circle cx="566.2" cy="1653.3" r="2.55"/><circle cx="586.0" cy="1649.7" r="2.55"/><circle cx="555.8" cy="1655.3" r="2.55"/><circle cx="569.3" cy="1656.0" r="2.55"/><circle cx="575.6" cy="1656.0" r="2.55"/><circle cx="579.8" cy="1654.9" r="2.55"/><circle cx="582.9" cy="1656.0" r="2.55"/><circle cx="590.2" cy="1656.0" r="2.55"/><circle cx="600.6" cy="1653.9" r="2.55"/><circle cx="603.7" cy="1652.8" r="2.55"/><circle cx="607.3" cy="1657.0" r="2.55"/><circle cx="617.3" cy="1652.4" r="2.55"/><circle cx="617.7" cy="1653.9" r="2.55"/><circle cx="626.6" cy="1657.0" r="2.55"/><circle cx="647.5" cy="1654.3" r="2.55"/><circle cx="567.3" cy="1661.2" r="2.55"/><circle cx="570.4" cy="1662.2" r="2.55"/><circle cx="573.5" cy="1660.1" r="2.55"/><circle cx="576.6" cy="1660.1" r="2.55"/><circle cx="579.8" cy="1662.2" r="2.55"/><circle cx="582.9" cy="1660.1" r="2.55"/><circle cx="582.9" cy="1664.3" r="2.55"/><circle cx="575.6" cy="1665.4" r="2.55"/><circle cx="577.7" cy="1668.5" r="2.55"/><circle cx="573.5" cy="1671.6" r="2.55"/><circle cx="593.7" cy="1667.4" r="2.55"/><circle cx="598.5" cy="1669.5" r="2.55"/><circle cx="601.6" cy="1669.5" r="2.55"/><circle cx="606.9" cy="1665.4" r="2.55"/><circle cx="606.4" cy="1667.4" r="2.55"/><circle cx="613.1" cy="1665.4" r="2.55"/><circle cx="618.3" cy="1661.8" r="2.55"/><circle cx="626.6" cy="1661.2" r="2.55"/><circle cx="642.3" cy="1670.1" r="2.55"/><circle cx="559.3" cy="1673.1" r="2.55"/></g>
<g stroke="#262626" stroke-width="1.9" fill="none" stroke-linecap="square">
<path d="M738.7 1587.7V1706.3H916.6"/>
<path stroke-width="1.5" d="M735.5 1706.3H738.7M735.5 1676.7H738.7M735.5 1647.0H738.7M735.5 1617.3H738.7M735.5 1587.7H738.7M738.7 1706.3V1709.5M783.2 1706.3V1709.5M827.7 1706.3V1709.5M872.1 1706.3V1709.5M916.6 1706.3V1709.5"/>
</g>
<g font-family="Liberation Sans" font-weight="bold" font-size="9.6" fill="#3a3a3a">
<text transform="translate(734.2,1709.1) scale(0.8,1)" text-anchor="end">0</text>
<text transform="translate(734.2,1679.5) scale(0.8,1)" text-anchor="end">2</text>
<text transform="translate(734.2,1649.8) scale(0.8,1)" text-anchor="end">4</text>
<text transform="translate(734.2,1620.1) scale(0.8,1)" text-anchor="end">6</text>
<text transform="translate(734.2,1590.5) scale(0.8,1)" text-anchor="end">8</text>
<text transform="translate(738.7,1719.1) scale(0.8,1)" text-anchor="middle">0.0</text>
<text transform="translate(783.2,1719.1) scale(0.8,1)" text-anchor="middle">0.1</text>
<text transform="translate(827.7,1719.1) scale(0.8,1)" text-anchor="middle">0.2</text>
<text transform="translate(872.1,1719.1) scale(0.8,1)" text-anchor="middle">0.3</text>
<text transform="translate(916.6,1719.1) scale(0.8,1)" text-anchor="middle">0.4</text>
</g>
<text x="776.6" y="1586.2" font-family="Liberation Sans" font-size="11.8" fill="#4a4a4a" textLength="106.5" lengthAdjust="spacingAndGlyphs">R =  0.3926 <tspan font-style="italic">P</tspan> = 0.0008</text>
<text x="828.3" y="1746.6" text-anchor="middle" font-family="Liberation Serif" font-weight="bold" font-size="17.6" fill="#000">L-Proline</text>
<text transform="translate(720.0,1644.0) rotate(-90)" text-anchor="middle" font-family="Liberation Serif" font-weight="bold" font-size="15.8" fill="#000">FIB</text>
<line x1="754.2" y1="1652.7" x2="883.1" y2="1621.2" stroke="#111" stroke-width="1.6"/>
<g fill="#000"><circle cx="754.0" cy="1614.4" r="2.55"/><circle cx="755.0" cy="1618.5" r="2.55"/><circle cx="782.1" cy="1614.4" r="2.55"/><circle cx="819.6" cy="1615.8" r="2.55"/><circle cx="831.5" cy="1616.5" r="2.55"/><circle cx="762.3" cy="1624.8" r="2.55"/><circle cx="766.5" cy="1623.3" r="2.55"/><circle cx="773.3" cy="1621.7" r="2.55"/><circle cx="750.8" cy="1628.3" r="2.55"/><circle cx="765.8" cy="1630.0" r="2.55"/><circle cx="781.1" cy="1630.0" r="2.55"/><circle cx="782.1" cy="1631.1" r="2.55"/><circle cx="796.3" cy="1630.4" r="2.55"/><circle cx="796.7" cy="1633.8" r="2.55"/><circle cx="796.3" cy="1635.8" r="2.55"/><circle cx="807.1" cy="1633.1" r="2.55"/><circle cx="810.2" cy="1630.0" r="2.55"/><circle cx="809.2" cy="1640.4" r="2.55"/><circle cx="872.7" cy="1628.3" r="2.55"/><circle cx="882.1" cy="1632.1" r="2.55"/><circle cx="756.0" cy="1633.1" r="2.55"/><circle cx="758.1" cy="1635.2" r="2.55"/><circle cx="761.3" cy="1636.3" r="2.55"/><circle cx="763.3" cy="1635.2" r="2.55"/><circle cx="760.2" cy="1639.4" r="2.55"/><circle cx="762.3" cy="1640.4" r="2.55"/><circle cx="765.4" cy="1641.5" r="2.55"/><circle cx="768.5" cy="1642.5" r="2.55"/><circle cx="771.7" cy="1642.5" r="2.55"/><circle cx="769.6" cy="1645.6" r="2.55"/><circle cx="750.8" cy="1643.6" r="2.55"/><circle cx="782.1" cy="1646.3" r="2.55"/><circle cx="787.3" cy="1650.8" r="2.55"/><circle cx="796.7" cy="1649.8" r="2.55"/><circle cx="797.7" cy="1651.3" r="2.55"/><circle cx="817.1" cy="1650.8" r="2.55"/><circle cx="779.4" cy="1654.0" r="2.55"/><circle cx="795.6" cy="1658.8" r="2.55"/><circle cx="788.3" cy="1661.7" r="2.55"/><circle cx="756.0" cy="1647.7" r="2.55"/><circle cx="757.1" cy="1650.8" r="2.55"/><circle cx="774.8" cy="1649.8" r="2.55"/><circle cx="768.5" cy="1650.8" r="2.55"/><circle cx="745.6" cy="1655.0" r="2.55"/><circle cx="748.8" cy="1652.9" r="2.55"/><circle cx="751.9" cy="1656.1" r="2.55"/><circle cx="755.0" cy="1658.1" r="2.55"/><circle cx="759.2" cy="1654.0" r="2.55"/><circle cx="761.3" cy="1656.1" r="2.55"/><circle cx="764.4" cy="1652.9" r="2.55"/><circle cx="766.5" cy="1657.1" r="2.55"/><circle cx="768.5" cy="1659.2" r="2.55"/><circle cx="770.6" cy="1657.1" r="2.55"/><circle cx="748.8" cy="1659.2" r="2.55"/><circle cx="750.8" cy="1662.3" r="2.55"/><circle cx="749.8" cy="1664.4" r="2.55"/><circle cx="754.0" cy="1662.3" r="2.55"/><circle cx="757.1" cy="1663.4" r="2.55"/><circle cx="760.2" cy="1665.4" r="2.55"/><circle cx="763.3" cy="1664.4" r="2.55"/><circle cx="766.5" cy="1665.4" r="2.55"/><circle cx="771.7" cy="1664.4" r="2.55"/><circle cx="752.9" cy="1669.6" r="2.55"/><circle cx="756.0" cy="1667.5" r="2.55"/><circle cx="759.2" cy="1666.5" r="2.55"/><circle cx="752.9" cy="1650.8" r="2.55"/><circle cx="759.2" cy="1648.8" r="2.55"/><circle cx="763.3" cy="1646.7" r="2.55"/><circle cx="767.5" cy="1646.7" r="2.55"/><circle cx="771.7" cy="1646.7" r="2.55"/><circle cx="752.9" cy="1659.2" r="2.55"/><circle cx="757.1" cy="1660.2" r="2.55"/><circle cx="763.3" cy="1661.3" r="2.55"/><circle cx="767.5" cy="1662.3" r="2.55"/><circle cx="755.0" cy="1665.4" r="2.55"/><circle cx="761.3" cy="1662.3" r="2.55"/><circle cx="766.5" cy="1651.9" r="2.55"/><circle cx="749.8" cy="1648.8" r="2.55"/></g>
<g stroke="#262626" stroke-width="1.9" fill="none" stroke-linecap="square">
<path d="M79.8 1782.3V1903.5H260.0"/>
<path stroke-width="1.5" d="M76.6 1903.5H79.8M76.6 1873.2H79.8M76.6 1842.9H79.8M76.6 1812.6H79.8M76.6 1782.3H79.8M79.8 1903.5V1906.7M124.8 1903.5V1906.7M169.9 1903.5V1906.7M214.9 1903.5V1906.7M260.0 1903.5V1906.7"/>
</g>
<clipPath id="c21"><rect x="0" y="1700" width="261" height="246"/></clipPath>
<g font-family="Liberation Sans" font-weight="bold" font-size="9.6" fill="#3a3a3a" clip-path="url(#c21)">
<text transform="translate(75.3,1906.3) scale(0.8,1)" text-anchor="end">0</text>
<text transform="translate(75.3,1876.0) scale(0.8,1)" text-anchor="end">2</text>
<text transform="translate(75.3,1845.7) scale(0.8,1)" text-anchor="end">4</text>
<text transform="translate(75.3,1815.4) scale(0.8,1)" text-anchor="end">6</text>
<text transform="translate(75.3,1785.1) scale(0.8,1)" text-anchor="end">8</text>
<text transform="translate(79.8,1916.3) scale(0.8,1)" text-anchor="middle">0.00</text>
<text transform="translate(124.8,1916.3) scale(0.8,1)" text-anchor="middle">0.02</text>
<text transform="translate(169.9,1916.3) scale(0.8,1)" text-anchor="middle">0.04</text>
<text transform="translate(214.9,1916.3) scale(0.8,1)" text-anchor="middle">0.06</text>
<text transform="translate(260.0,1916.3) scale(0.8,1)" text-anchor="middle">0.08</text>
</g>
<text x="117.9" y="1780.5" font-family="Liberation Sans" font-size="11.8" fill="#4a4a4a" textLength="108.3" lengthAdjust="spacingAndGlyphs">R =  0.3233 <tspan font-style="italic">P</tspan> = 0.0063</text>
<text x="174.7" y="1937.6" text-anchor="middle" font-family="Liberation Serif" font-weight="bold" font-size="17.6" fill="#000">L-Asparagine</text>
<text transform="translate(54.6,1845.8) rotate(-90)" text-anchor="middle" font-family="Liberation Serif" font-weight="bold" font-size="15.8" fill="#000">FIB</text>
<line x1="89.6" y1="1850.9" x2="241.2" y2="1828.2" stroke="#111" stroke-width="1.6"/>
<g fill="#000"><circle cx="126.8" cy="1810.0" r="2.55"/><circle cx="159.6" cy="1810.0" r="2.55"/><circle cx="178.9" cy="1811.5" r="2.55"/><circle cx="188.1" cy="1811.5" r="2.55"/><circle cx="142.9" cy="1814.6" r="2.55"/><circle cx="105.0" cy="1818.8" r="2.55"/><circle cx="134.1" cy="1819.8" r="2.55"/><circle cx="206.0" cy="1817.3" r="2.55"/><circle cx="91.4" cy="1824.4" r="2.55"/><circle cx="117.9" cy="1826.1" r="2.55"/><circle cx="124.8" cy="1825.4" r="2.55"/><circle cx="140.8" cy="1827.1" r="2.55"/><circle cx="141.8" cy="1828.1" r="2.55"/><circle cx="180.4" cy="1825.4" r="2.55"/><circle cx="211.7" cy="1827.1" r="2.55"/><circle cx="217.9" cy="1827.7" r="2.55"/><circle cx="242.5" cy="1824.0" r="2.55"/><circle cx="99.1" cy="1831.3" r="2.55"/><circle cx="110.0" cy="1830.8" r="2.55"/><circle cx="94.3" cy="1839.6" r="2.55"/><circle cx="131.4" cy="1837.5" r="2.55"/><circle cx="158.5" cy="1837.5" r="2.55"/><circle cx="165.8" cy="1830.2" r="2.55"/><circle cx="165.8" cy="1832.3" r="2.55"/><circle cx="166.9" cy="1835.4" r="2.55"/><circle cx="167.9" cy="1837.5" r="2.55"/><circle cx="170.0" cy="1837.5" r="2.55"/><circle cx="158.5" cy="1840.6" r="2.55"/><circle cx="112.3" cy="1843.3" r="2.55"/><circle cx="121.0" cy="1842.7" r="2.55"/><circle cx="122.1" cy="1845.8" r="2.55"/><circle cx="90.8" cy="1849.0" r="2.55"/><circle cx="102.3" cy="1849.0" r="2.55"/><circle cx="104.3" cy="1851.1" r="2.55"/><circle cx="101.2" cy="1854.2" r="2.55"/><circle cx="128.3" cy="1850.0" r="2.55"/><circle cx="139.8" cy="1844.8" r="2.55"/><circle cx="141.8" cy="1849.0" r="2.55"/><circle cx="146.0" cy="1849.0" r="2.55"/><circle cx="149.1" cy="1847.9" r="2.55"/><circle cx="159.6" cy="1849.0" r="2.55"/><circle cx="166.4" cy="1846.3" r="2.55"/><circle cx="180.0" cy="1845.8" r="2.55"/><circle cx="197.1" cy="1847.3" r="2.55"/><circle cx="206.9" cy="1847.5" r="2.55"/><circle cx="132.5" cy="1853.8" r="2.55"/><circle cx="154.4" cy="1853.8" r="2.55"/><circle cx="156.4" cy="1857.3" r="2.55"/><circle cx="165.8" cy="1854.2" r="2.55"/><circle cx="172.7" cy="1855.2" r="2.55"/><circle cx="113.7" cy="1856.3" r="2.55"/><circle cx="115.8" cy="1859.4" r="2.55"/><circle cx="114.8" cy="1860.4" r="2.55"/><circle cx="120.0" cy="1862.1" r="2.55"/><circle cx="102.3" cy="1860.4" r="2.55"/><circle cx="105.4" cy="1861.5" r="2.55"/><circle cx="107.5" cy="1862.1" r="2.55"/><circle cx="126.2" cy="1857.3" r="2.55"/><circle cx="126.2" cy="1858.4" r="2.55"/><circle cx="130.4" cy="1860.4" r="2.55"/><circle cx="134.6" cy="1859.4" r="2.55"/><circle cx="135.6" cy="1862.5" r="2.55"/><circle cx="129.3" cy="1864.2" r="2.55"/><circle cx="157.5" cy="1858.4" r="2.55"/><circle cx="162.7" cy="1862.5" r="2.55"/><circle cx="172.1" cy="1863.1" r="2.55"/><circle cx="91.8" cy="1866.1" r="2.55"/></g>
<g stroke="#262626" stroke-width="1.9" fill="none" stroke-linecap="square">
<path d="M304.1 1783.1V1902.9H482.0"/>
<path stroke-width="1.5" d="M300.9 1902.9H304.1M300.9 1882.9H304.1M300.9 1863.0H304.1M300.9 1843.0H304.1M300.9 1823.0H304.1M300.9 1803.1H304.1M300.9 1783.1H304.1M304.1 1902.9V1906.1M348.6 1902.9V1906.1M393.1 1902.9V1906.1M437.5 1902.9V1906.1M482.0 1902.9V1906.1"/>
</g>
<g font-family="Liberation Sans" font-weight="bold" font-size="9.6" fill="#3a3a3a">
<text transform="translate(299.6,1905.7) scale(0.8,1)" text-anchor="end">20</text>
<text transform="translate(299.6,1885.7) scale(0.8,1)" text-anchor="end">25</text>
<text transform="translate(299.6,1865.8) scale(0.8,1)" text-anchor="end">30</text>
<text transform="translate(299.6,1845.8) scale(0.8,1)" text-anchor="end">35</text>
<text transform="translate(299.6,1825.8) scale(0.8,1)" text-anchor="end">40</text>
<text transform="translate(299.6,1805.9) scale(0.8,1)" text-anchor="end">45</text>
<text transform="translate(299.6,1785.9) scale(0.8,1)" text-anchor="end">50</text>
<text transform="translate(304.1,1915.7) scale(0.8,1)" text-anchor="middle">0.00</text>
<text transform="translate(348.6,1915.7) scale(0.8,1)" text-anchor="middle">0.02</text>
<text transform="translate(393.1,1915.7) scale(0.8,1)" text-anchor="middle">0.04</text>
<text transform="translate(437.5,1915.7) scale(0.8,1)" text-anchor="middle">0.06</text>
<text transform="translate(482.0,1915.7) scale(0.8,1)" text-anchor="middle">0.08</text>
</g>
<text x="343.4" y="1781.5" font-family="Liberation Sans" font-size="11.8" fill="#4a4a4a" textLength="103.9" lengthAdjust="spacingAndGlyphs">R = 0.2466 <tspan font-style="italic">P</tspan> = 0.0396</text>
<text x="381.5" y="1937.6" text-anchor="middle" font-family="Liberation Serif" font-weight="bold" font-size="17.6" fill="#000">D-Gluconic acid</text>
<text transform="translate(274.5,1841.1) rotate(-90)" text-anchor="middle" font-family="Liberation Serif" font-weight="bold" font-size="15.8" fill="#000">APTT</text>
<line x1="341.5" y1="1857.1" x2="440.8" y2="1839.0" stroke="#111" stroke-width="1.6"/>
<g fill="#000"><circle cx="318.9" cy="1799.3" r="2.55"/><circle cx="321.6" cy="1817.7" r="2.55"/><circle cx="376.2" cy="1816.2" r="2.55"/><circle cx="440.4" cy="1840.0" r="2.55"/><circle cx="313.1" cy="1838.1" r="2.55"/><circle cx="323.1" cy="1841.0" r="2.55"/><circle cx="328.3" cy="1839.6" r="2.55"/><circle cx="332.5" cy="1837.5" r="2.55"/><circle cx="325.2" cy="1844.8" r="2.55"/><circle cx="329.3" cy="1844.8" r="2.55"/><circle cx="356.4" cy="1844.3" r="2.55"/><circle cx="367.9" cy="1845.2" r="2.55"/><circle cx="320.6" cy="1849.3" r="2.55"/><circle cx="326.8" cy="1850.0" r="2.55"/><circle cx="335.6" cy="1849.3" r="2.55"/><circle cx="374.1" cy="1849.3" r="2.55"/><circle cx="313.7" cy="1857.3" r="2.55"/><circle cx="316.8" cy="1858.3" r="2.55"/><circle cx="320.0" cy="1859.4" r="2.55"/><circle cx="323.1" cy="1858.3" r="2.55"/><circle cx="326.2" cy="1856.2" r="2.55"/><circle cx="329.3" cy="1857.3" r="2.55"/><circle cx="332.5" cy="1855.2" r="2.55"/><circle cx="338.7" cy="1855.2" r="2.55"/><circle cx="339.8" cy="1858.3" r="2.55"/><circle cx="349.8" cy="1855.6" r="2.55"/><circle cx="357.5" cy="1855.2" r="2.55"/><circle cx="311.6" cy="1861.4" r="2.55"/><circle cx="314.8" cy="1861.4" r="2.55"/><circle cx="317.9" cy="1862.5" r="2.55"/><circle cx="321.0" cy="1863.5" r="2.55"/><circle cx="324.1" cy="1862.5" r="2.55"/><circle cx="327.3" cy="1860.4" r="2.55"/><circle cx="330.4" cy="1859.4" r="2.55"/><circle cx="352.3" cy="1861.9" r="2.55"/><circle cx="355.4" cy="1862.5" r="2.55"/><circle cx="312.7" cy="1867.7" r="2.55"/><circle cx="315.8" cy="1866.6" r="2.55"/><circle cx="318.9" cy="1868.7" r="2.55"/><circle cx="322.0" cy="1867.7" r="2.55"/><circle cx="325.2" cy="1866.6" r="2.55"/><circle cx="332.5" cy="1867.7" r="2.55"/><circle cx="334.5" cy="1869.8" r="2.55"/><circle cx="337.7" cy="1867.7" r="2.55"/><circle cx="340.8" cy="1865.6" r="2.55"/><circle cx="342.9" cy="1867.7" r="2.55"/><circle cx="353.9" cy="1867.7" r="2.55"/><circle cx="310.6" cy="1872.3" r="2.55"/><circle cx="315.8" cy="1872.9" r="2.55"/><circle cx="317.9" cy="1873.9" r="2.55"/><circle cx="321.0" cy="1876.0" r="2.55"/><circle cx="323.1" cy="1873.9" r="2.55"/><circle cx="333.5" cy="1870.8" r="2.55"/><circle cx="336.6" cy="1870.8" r="2.55"/><circle cx="343.9" cy="1873.9" r="2.55"/><circle cx="341.8" cy="1878.1" r="2.55"/><circle cx="315.2" cy="1877.7" r="2.55"/><circle cx="320.0" cy="1876.0" r="2.55"/><circle cx="313.7" cy="1864.6" r="2.55"/><circle cx="316.8" cy="1865.6" r="2.55"/><circle cx="321.0" cy="1860.4" r="2.55"/><circle cx="325.2" cy="1859.4" r="2.55"/><circle cx="318.9" cy="1871.9" r="2.55"/><circle cx="324.1" cy="1870.8" r="2.55"/><circle cx="327.3" cy="1867.7" r="2.55"/><circle cx="330.4" cy="1865.6" r="2.55"/><circle cx="315.8" cy="1869.8" r="2.55"/><circle cx="322.0" cy="1873.9" r="2.55"/><circle cx="327.3" cy="1863.5" r="2.55"/><circle cx="333.5" cy="1859.4" r="2.55"/><circle cx="337.7" cy="1863.5" r="2.55"/><circle cx="346.0" cy="1870.8" r="2.55"/></g>
</svg>
</body></html>
